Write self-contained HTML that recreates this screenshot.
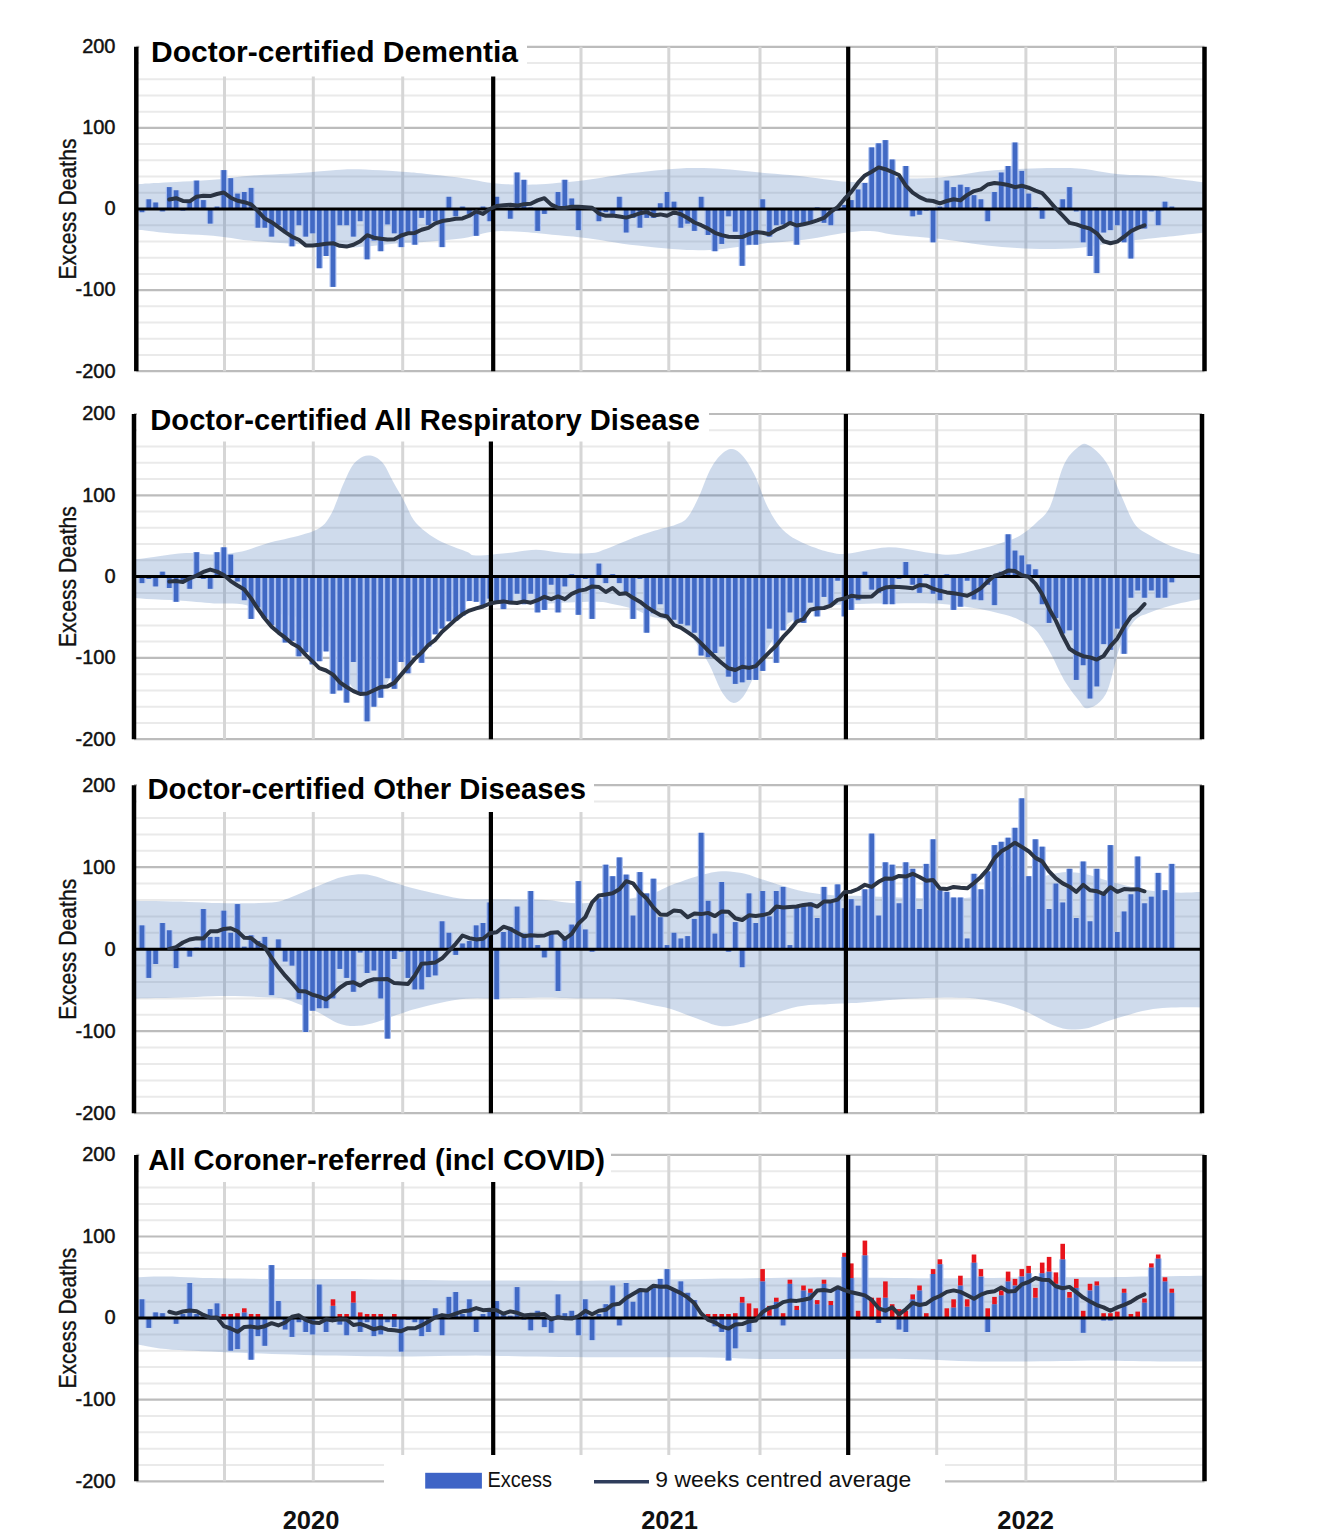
<!DOCTYPE html>
<html><head><meta charset="utf-8"><title>Excess deaths</title>
<style>html,body{margin:0;padding:0;background:#fff;} body{width:1321px;height:1536px;overflow:hidden;font-family:"Liberation Sans",sans-serif;} svg{display:block;}</style>
</head><body>
<svg width="1321" height="1536" viewBox="0 0 1321 1536">
<rect x="0" y="0" width="1321" height="1536" fill="#ffffff"/>
<line x1="136.3" y1="355.0" x2="1204.5" y2="355.0" stroke="#eaeaea" stroke-width="2"/>
<line x1="136.3" y1="338.8" x2="1204.5" y2="338.8" stroke="#eaeaea" stroke-width="2"/>
<line x1="136.3" y1="322.5" x2="1204.5" y2="322.5" stroke="#eaeaea" stroke-width="2"/>
<line x1="136.3" y1="306.3" x2="1204.5" y2="306.3" stroke="#eaeaea" stroke-width="2"/>
<line x1="136.3" y1="273.9" x2="1204.5" y2="273.9" stroke="#eaeaea" stroke-width="2"/>
<line x1="136.3" y1="257.7" x2="1204.5" y2="257.7" stroke="#eaeaea" stroke-width="2"/>
<line x1="136.3" y1="241.4" x2="1204.5" y2="241.4" stroke="#eaeaea" stroke-width="2"/>
<line x1="136.3" y1="225.2" x2="1204.5" y2="225.2" stroke="#eaeaea" stroke-width="2"/>
<line x1="136.3" y1="192.8" x2="1204.5" y2="192.8" stroke="#eaeaea" stroke-width="2"/>
<line x1="136.3" y1="176.6" x2="1204.5" y2="176.6" stroke="#eaeaea" stroke-width="2"/>
<line x1="136.3" y1="160.3" x2="1204.5" y2="160.3" stroke="#eaeaea" stroke-width="2"/>
<line x1="136.3" y1="144.1" x2="1204.5" y2="144.1" stroke="#eaeaea" stroke-width="2"/>
<line x1="136.3" y1="111.7" x2="1204.5" y2="111.7" stroke="#eaeaea" stroke-width="2"/>
<line x1="136.3" y1="95.5" x2="1204.5" y2="95.5" stroke="#eaeaea" stroke-width="2"/>
<line x1="136.3" y1="79.2" x2="1204.5" y2="79.2" stroke="#eaeaea" stroke-width="2"/>
<line x1="136.3" y1="63.0" x2="1204.5" y2="63.0" stroke="#eaeaea" stroke-width="2"/>
<line x1="136.3" y1="46.8" x2="1204.5" y2="46.8" stroke="#bcbcbc" stroke-width="2.2"/>
<line x1="136.3" y1="127.9" x2="1204.5" y2="127.9" stroke="#bcbcbc" stroke-width="2.2"/>
<line x1="136.3" y1="290.1" x2="1204.5" y2="290.1" stroke="#bcbcbc" stroke-width="2.2"/>
<line x1="136.3" y1="371.2" x2="1204.5" y2="371.2" stroke="#bcbcbc" stroke-width="2.2"/>
<line x1="224.5" y1="46.8" x2="224.5" y2="371.2" stroke="#d6d6d6" stroke-width="3"/>
<line x1="313.3" y1="46.8" x2="313.3" y2="371.2" stroke="#d6d6d6" stroke-width="3"/>
<line x1="402.7" y1="46.8" x2="402.7" y2="371.2" stroke="#d6d6d6" stroke-width="3"/>
<line x1="581.0" y1="46.8" x2="581.0" y2="371.2" stroke="#d6d6d6" stroke-width="3"/>
<line x1="668.8" y1="46.8" x2="668.8" y2="371.2" stroke="#d6d6d6" stroke-width="3"/>
<line x1="760.0" y1="46.8" x2="760.0" y2="371.2" stroke="#d6d6d6" stroke-width="3"/>
<line x1="936.7" y1="46.8" x2="936.7" y2="371.2" stroke="#d6d6d6" stroke-width="3"/>
<line x1="1025.9" y1="46.8" x2="1025.9" y2="371.2" stroke="#d6d6d6" stroke-width="3"/>
<line x1="1115.5" y1="46.8" x2="1115.5" y2="371.2" stroke="#d6d6d6" stroke-width="3"/>
<path d="M136.0,184.7 L136.4,184.6 L136.7,184.5 L137.2,184.4 L138.1,184.2 L139.7,184.1 L142.0,183.9 L145.2,183.6 L149.1,183.4 L153.7,183.1 L158.7,182.9 L164.2,182.6 L170.0,182.2 L176.4,181.9 L183.4,181.5 L190.9,181.2 L198.6,180.8 L206.0,180.3 L213.0,179.8 L219.4,179.2 L225.4,178.5 L231.3,177.8 L237.2,177.0 L243.4,176.3 L250.0,175.7 L257.2,175.3 L264.9,174.8 L272.8,174.5 L280.8,174.1 L288.6,173.7 L296.0,173.3 L303.2,172.8 L310.4,172.2 L317.4,171.6 L324.1,171.0 L330.4,170.5 L336.0,170.1 L340.6,169.8 L344.2,169.5 L347.3,169.3 L350.5,169.2 L354.2,169.2 L359.0,169.3 L365.3,169.5 L372.7,169.9 L380.8,170.3 L388.7,170.8 L396.0,171.3 L402.0,171.7 L406.3,172.0 L409.3,172.2 L411.6,172.4 L413.9,172.6 L416.8,172.9 L421.0,173.3 L426.8,173.9 L433.8,174.7 L441.4,175.5 L449.1,176.4 L456.5,177.3 L463.0,178.2 L468.6,179.0 L473.7,179.9 L478.4,180.8 L482.9,181.7 L487.4,182.4 L492.0,183.0 L496.7,183.5 L501.5,183.9 L506.2,184.2 L510.9,184.4 L515.5,184.6 L520.0,184.7 L524.3,184.7 L528.2,184.7 L532.1,184.6 L536.2,184.5 L540.8,184.2 L546.0,183.9 L552.1,183.4 L558.8,182.8 L566.0,182.2 L573.4,181.5 L580.8,180.7 L588.0,179.8 L594.9,178.8 L601.7,177.8 L608.5,176.6 L615.4,175.4 L622.5,174.3 L630.0,173.3 L638.0,172.4 L646.6,171.4 L655.4,170.5 L664.1,169.7 L672.4,169.0 L680.0,168.4 L686.7,168.1 L692.7,167.9 L698.4,167.9 L703.9,168.0 L709.7,168.2 L716.0,168.4 L722.9,168.9 L730.1,169.5 L737.5,170.2 L745.0,171.0 L752.6,171.8 L760.0,172.5 L767.4,173.2 L774.9,173.8 L782.4,174.5 L789.8,175.1 L797.0,175.8 L804.0,176.6 L810.8,177.4 L817.5,178.3 L824.0,179.2 L830.3,180.1 L836.3,180.8 L842.0,181.4 L847.3,181.8 L852.1,182.1 L856.8,182.3 L861.2,182.4 L865.6,182.4 L870.0,182.2 L874.2,181.9 L878.1,181.4 L881.9,180.8 L886.0,180.1 L890.6,179.5 L896.0,179.0 L902.4,178.7 L909.6,178.5 L917.2,178.4 L925.2,178.2 L933.2,177.9 L941.0,177.4 L948.6,176.5 L956.3,175.4 L964.0,174.2 L971.7,172.9 L979.4,171.8 L987.0,170.9 L994.5,170.2 L1002.0,169.7 L1009.5,169.3 L1017.0,168.9 L1024.5,168.7 L1032.0,168.4 L1039.7,168.2 L1047.5,168.1 L1055.4,167.9 L1063.1,167.9 L1070.7,168.1 L1078.0,168.4 L1084.9,169.1 L1091.6,170.1 L1098.1,171.2 L1104.5,172.3 L1110.8,173.3 L1117.0,174.1 L1123.3,174.6 L1129.7,174.9 L1135.9,175.1 L1142.0,175.2 L1147.7,175.4 L1153.0,175.7 L1157.7,176.2 L1161.8,176.7 L1165.6,177.3 L1169.2,177.9 L1173.0,178.4 L1177.0,179.0 L1181.6,179.6 L1186.8,180.2 L1192.0,180.8 L1196.9,181.4 L1201.0,181.9 L1204.0,182.2 L1204.0,232.5 L1201.0,232.9 L1196.9,233.4 L1192.0,234.0 L1186.8,234.6 L1181.6,235.2 L1177.0,235.8 L1173.0,236.2 L1169.2,236.6 L1165.6,236.9 L1161.8,237.3 L1157.7,237.7 L1153.0,238.2 L1147.7,238.8 L1142.0,239.4 L1135.9,240.0 L1129.7,240.7 L1123.3,241.5 L1117.0,242.3 L1110.8,243.2 L1104.5,244.2 L1098.1,245.3 L1091.6,246.3 L1084.9,247.2 L1078.0,247.9 L1070.7,248.4 L1063.1,248.7 L1055.4,248.9 L1047.5,248.9 L1039.7,248.9 L1032.0,248.7 L1024.5,248.5 L1017.0,248.1 L1009.5,247.6 L1002.0,247.0 L994.5,246.3 L987.0,245.5 L979.4,244.6 L971.7,243.5 L964.0,242.3 L956.3,241.1 L948.6,240.0 L941.0,239.0 L933.2,238.2 L925.2,237.5 L917.2,236.8 L909.6,236.2 L902.4,235.6 L896.0,235.0 L890.6,234.2 L886.0,233.4 L881.9,232.5 L878.1,231.8 L874.2,231.2 L870.0,230.9 L865.6,230.9 L861.2,231.1 L856.8,231.5 L852.1,232.0 L847.3,232.6 L842.0,233.3 L836.3,234.2 L830.3,235.3 L824.0,236.5 L817.5,237.7 L810.8,238.8 L804.0,239.8 L797.0,240.6 L789.8,241.3 L782.4,241.9 L774.9,242.5 L767.4,243.1 L760.0,243.9 L752.6,244.8 L745.0,245.9 L737.5,247.0 L730.1,248.0 L722.9,248.9 L716.0,249.6 L709.7,249.9 L703.9,250.2 L698.4,250.2 L692.7,250.1 L686.7,249.9 L680.0,249.6 L672.4,249.0 L664.1,248.3 L655.4,247.5 L646.6,246.6 L638.0,245.6 L630.0,244.7 L622.5,243.7 L615.4,242.6 L608.5,241.4 L601.7,240.2 L594.9,239.2 L588.0,238.2 L580.8,237.4 L573.4,236.6 L566.0,235.9 L558.8,235.3 L552.1,234.7 L546.0,234.1 L540.8,233.6 L536.2,233.1 L532.1,232.7 L528.2,232.3 L524.3,232.0 L520.0,231.7 L515.5,231.5 L510.9,231.3 L506.2,231.2 L501.5,231.1 L496.7,231.3 L492.0,231.7 L487.4,232.4 L482.9,233.5 L478.4,234.7 L473.7,236.0 L468.6,237.2 L463.0,238.2 L456.5,239.1 L449.1,239.8 L441.4,240.6 L433.8,241.2 L426.8,241.8 L421.0,242.3 L416.8,242.5 L413.9,242.6 L411.6,242.7 L409.3,242.7 L406.3,242.8 L402.0,243.1 L396.0,243.6 L388.7,244.3 L380.8,245.1 L372.7,245.9 L365.3,246.6 L359.0,247.1 L354.2,247.4 L350.5,247.5 L347.3,247.6 L344.2,247.5 L340.6,247.4 L336.0,247.1 L330.4,246.8 L324.1,246.3 L317.4,245.7 L310.4,245.1 L303.2,244.5 L296.0,243.9 L288.6,243.4 L280.8,242.9 L272.8,242.4 L264.9,241.8 L257.2,241.3 L250.0,240.6 L243.4,239.9 L237.2,239.0 L231.3,238.1 L225.4,237.3 L219.4,236.5 L213.0,235.8 L206.0,235.2 L198.6,234.8 L190.9,234.4 L183.4,234.1 L176.4,233.8 L170.0,233.3 L164.2,232.8 L158.7,232.2 L153.7,231.6 L149.1,231.0 L145.2,230.4 L142.0,230.1 L139.7,229.9 L138.1,229.8 L137.2,229.9 L136.7,230.0 L136.4,230.0 L136.0,230.1 Z" fill="#4673b4" fill-opacity="0.26"/>
<rect x="138.6" y="209.0" width="6.9" height="3.2" fill="#a9bff0"/>
<rect x="139.7" y="209.0" width="4.6" height="3.2" fill="#4169c4"/>
<rect x="145.4" y="199.3" width="6.9" height="9.7" fill="#a9bff0"/>
<rect x="146.5" y="199.3" width="4.6" height="9.7" fill="#4169c4"/>
<rect x="152.2" y="202.5" width="6.9" height="6.5" fill="#a9bff0"/>
<rect x="153.3" y="202.5" width="4.6" height="6.5" fill="#4169c4"/>
<rect x="159.0" y="209.0" width="6.9" height="2.4" fill="#a9bff0"/>
<rect x="160.2" y="209.0" width="4.6" height="2.4" fill="#4169c4"/>
<rect x="165.8" y="187.1" width="6.9" height="21.9" fill="#a9bff0"/>
<rect x="167.0" y="187.1" width="4.6" height="21.9" fill="#4169c4"/>
<rect x="172.7" y="190.3" width="6.9" height="18.7" fill="#a9bff0"/>
<rect x="173.8" y="190.3" width="4.6" height="18.7" fill="#4169c4"/>
<rect x="179.5" y="209.0" width="6.9" height="1.6" fill="#a9bff0"/>
<rect x="180.6" y="209.0" width="4.6" height="1.6" fill="#4169c4"/>
<rect x="186.3" y="201.7" width="6.9" height="7.3" fill="#a9bff0"/>
<rect x="187.4" y="201.7" width="4.6" height="7.3" fill="#4169c4"/>
<rect x="193.1" y="180.6" width="6.9" height="28.4" fill="#a9bff0"/>
<rect x="194.3" y="180.6" width="4.6" height="28.4" fill="#4169c4"/>
<rect x="199.9" y="200.1" width="6.9" height="8.9" fill="#a9bff0"/>
<rect x="201.1" y="200.1" width="4.6" height="8.9" fill="#4169c4"/>
<rect x="206.8" y="209.0" width="6.9" height="14.6" fill="#a9bff0"/>
<rect x="207.9" y="209.0" width="4.6" height="14.6" fill="#4169c4"/>
<rect x="213.6" y="206.6" width="6.9" height="2.4" fill="#a9bff0"/>
<rect x="214.7" y="206.6" width="4.6" height="2.4" fill="#4169c4"/>
<rect x="220.4" y="170.1" width="6.9" height="38.9" fill="#a9bff0"/>
<rect x="221.5" y="170.1" width="4.6" height="38.9" fill="#4169c4"/>
<rect x="227.2" y="178.2" width="6.9" height="30.8" fill="#a9bff0"/>
<rect x="228.4" y="178.2" width="4.6" height="30.8" fill="#4169c4"/>
<rect x="234.0" y="193.6" width="6.9" height="15.4" fill="#a9bff0"/>
<rect x="235.2" y="193.6" width="4.6" height="15.4" fill="#4169c4"/>
<rect x="240.9" y="192.0" width="6.9" height="17.0" fill="#a9bff0"/>
<rect x="242.0" y="192.0" width="4.6" height="17.0" fill="#4169c4"/>
<rect x="247.7" y="187.9" width="6.9" height="21.1" fill="#a9bff0"/>
<rect x="248.8" y="187.9" width="4.6" height="21.1" fill="#4169c4"/>
<rect x="254.5" y="209.0" width="6.9" height="18.7" fill="#a9bff0"/>
<rect x="255.6" y="209.0" width="4.6" height="18.7" fill="#4169c4"/>
<rect x="261.3" y="209.0" width="6.9" height="18.7" fill="#a9bff0"/>
<rect x="262.5" y="209.0" width="4.6" height="18.7" fill="#4169c4"/>
<rect x="268.1" y="209.0" width="6.9" height="27.6" fill="#a9bff0"/>
<rect x="269.3" y="209.0" width="4.6" height="27.6" fill="#4169c4"/>
<rect x="274.9" y="209.0" width="6.9" height="16.2" fill="#a9bff0"/>
<rect x="276.1" y="209.0" width="4.6" height="16.2" fill="#4169c4"/>
<rect x="281.8" y="209.0" width="6.9" height="21.9" fill="#a9bff0"/>
<rect x="282.9" y="209.0" width="4.6" height="21.9" fill="#4169c4"/>
<rect x="288.6" y="209.0" width="6.9" height="37.3" fill="#a9bff0"/>
<rect x="289.7" y="209.0" width="4.6" height="37.3" fill="#4169c4"/>
<rect x="295.4" y="209.0" width="6.9" height="16.2" fill="#a9bff0"/>
<rect x="296.6" y="209.0" width="4.6" height="16.2" fill="#4169c4"/>
<rect x="302.2" y="209.0" width="6.9" height="27.6" fill="#a9bff0"/>
<rect x="303.4" y="209.0" width="4.6" height="27.6" fill="#4169c4"/>
<rect x="309.1" y="209.0" width="6.9" height="24.3" fill="#a9bff0"/>
<rect x="310.2" y="209.0" width="4.6" height="24.3" fill="#4169c4"/>
<rect x="315.9" y="209.0" width="6.9" height="59.2" fill="#a9bff0"/>
<rect x="317.0" y="209.0" width="4.6" height="59.2" fill="#4169c4"/>
<rect x="322.7" y="209.0" width="6.9" height="47.0" fill="#a9bff0"/>
<rect x="323.8" y="209.0" width="4.6" height="47.0" fill="#4169c4"/>
<rect x="329.5" y="209.0" width="6.9" height="77.9" fill="#a9bff0"/>
<rect x="330.7" y="209.0" width="4.6" height="77.9" fill="#4169c4"/>
<rect x="336.3" y="209.0" width="6.9" height="16.2" fill="#a9bff0"/>
<rect x="337.5" y="209.0" width="4.6" height="16.2" fill="#4169c4"/>
<rect x="343.2" y="209.0" width="6.9" height="16.2" fill="#a9bff0"/>
<rect x="344.3" y="209.0" width="4.6" height="16.2" fill="#4169c4"/>
<rect x="350.0" y="209.0" width="6.9" height="27.6" fill="#a9bff0"/>
<rect x="351.1" y="209.0" width="4.6" height="27.6" fill="#4169c4"/>
<rect x="356.8" y="209.0" width="6.9" height="12.2" fill="#a9bff0"/>
<rect x="357.9" y="209.0" width="4.6" height="12.2" fill="#4169c4"/>
<rect x="363.6" y="209.0" width="6.9" height="50.3" fill="#a9bff0"/>
<rect x="364.8" y="209.0" width="4.6" height="50.3" fill="#4169c4"/>
<rect x="370.4" y="209.0" width="6.9" height="31.6" fill="#a9bff0"/>
<rect x="371.6" y="209.0" width="4.6" height="31.6" fill="#4169c4"/>
<rect x="377.3" y="209.0" width="6.9" height="42.2" fill="#a9bff0"/>
<rect x="378.4" y="209.0" width="4.6" height="42.2" fill="#4169c4"/>
<rect x="384.1" y="209.0" width="6.9" height="15.4" fill="#a9bff0"/>
<rect x="385.2" y="209.0" width="4.6" height="15.4" fill="#4169c4"/>
<rect x="390.9" y="209.0" width="6.9" height="24.3" fill="#a9bff0"/>
<rect x="392.0" y="209.0" width="4.6" height="24.3" fill="#4169c4"/>
<rect x="397.7" y="209.0" width="6.9" height="38.1" fill="#a9bff0"/>
<rect x="398.9" y="209.0" width="4.6" height="38.1" fill="#4169c4"/>
<rect x="404.5" y="209.0" width="6.9" height="26.0" fill="#a9bff0"/>
<rect x="405.7" y="209.0" width="4.6" height="26.0" fill="#4169c4"/>
<rect x="411.4" y="209.0" width="6.9" height="35.7" fill="#a9bff0"/>
<rect x="412.5" y="209.0" width="4.6" height="35.7" fill="#4169c4"/>
<rect x="418.2" y="209.0" width="6.9" height="8.9" fill="#a9bff0"/>
<rect x="419.3" y="209.0" width="4.6" height="8.9" fill="#4169c4"/>
<rect x="425.0" y="209.0" width="6.9" height="16.2" fill="#a9bff0"/>
<rect x="426.1" y="209.0" width="4.6" height="16.2" fill="#4169c4"/>
<rect x="431.8" y="209.0" width="6.9" height="12.2" fill="#a9bff0"/>
<rect x="433.0" y="209.0" width="4.6" height="12.2" fill="#4169c4"/>
<rect x="438.6" y="209.0" width="6.9" height="38.1" fill="#a9bff0"/>
<rect x="439.8" y="209.0" width="4.6" height="38.1" fill="#4169c4"/>
<rect x="445.5" y="196.8" width="6.9" height="12.2" fill="#a9bff0"/>
<rect x="446.6" y="196.8" width="4.6" height="12.2" fill="#4169c4"/>
<rect x="452.3" y="209.0" width="6.9" height="7.3" fill="#a9bff0"/>
<rect x="453.4" y="209.0" width="4.6" height="7.3" fill="#4169c4"/>
<rect x="459.1" y="206.6" width="6.9" height="2.4" fill="#a9bff0"/>
<rect x="460.2" y="206.6" width="4.6" height="2.4" fill="#4169c4"/>
<rect x="465.9" y="209.0" width="6.9" height="4.9" fill="#a9bff0"/>
<rect x="467.1" y="209.0" width="4.6" height="4.9" fill="#4169c4"/>
<rect x="472.7" y="209.0" width="6.9" height="26.8" fill="#a9bff0"/>
<rect x="473.9" y="209.0" width="4.6" height="26.8" fill="#4169c4"/>
<rect x="479.6" y="206.6" width="6.9" height="2.4" fill="#a9bff0"/>
<rect x="480.7" y="206.6" width="4.6" height="2.4" fill="#4169c4"/>
<rect x="486.4" y="209.0" width="6.9" height="12.2" fill="#a9bff0"/>
<rect x="487.5" y="209.0" width="4.6" height="12.2" fill="#4169c4"/>
<rect x="493.2" y="196.8" width="6.9" height="12.2" fill="#a9bff0"/>
<rect x="494.3" y="196.8" width="4.6" height="12.2" fill="#4169c4"/>
<rect x="500.0" y="209.0" width="6.9" height="0.0" fill="#a9bff0"/>
<rect x="501.2" y="209.0" width="4.6" height="0.0" fill="#4169c4"/>
<rect x="506.8" y="209.0" width="6.9" height="9.7" fill="#a9bff0"/>
<rect x="508.0" y="209.0" width="4.6" height="9.7" fill="#4169c4"/>
<rect x="513.6" y="172.5" width="6.9" height="36.5" fill="#a9bff0"/>
<rect x="514.8" y="172.5" width="4.6" height="36.5" fill="#4169c4"/>
<rect x="520.5" y="179.8" width="6.9" height="29.2" fill="#a9bff0"/>
<rect x="521.6" y="179.8" width="4.6" height="29.2" fill="#4169c4"/>
<rect x="527.3" y="207.4" width="6.9" height="1.6" fill="#a9bff0"/>
<rect x="528.4" y="207.4" width="4.6" height="1.6" fill="#4169c4"/>
<rect x="534.1" y="209.0" width="6.9" height="21.9" fill="#a9bff0"/>
<rect x="535.3" y="209.0" width="4.6" height="21.9" fill="#4169c4"/>
<rect x="540.9" y="209.0" width="6.9" height="4.9" fill="#a9bff0"/>
<rect x="542.1" y="209.0" width="4.6" height="4.9" fill="#4169c4"/>
<rect x="547.8" y="209.0" width="6.9" height="0.0" fill="#a9bff0"/>
<rect x="548.9" y="209.0" width="4.6" height="0.0" fill="#4169c4"/>
<rect x="554.6" y="192.0" width="6.9" height="17.0" fill="#a9bff0"/>
<rect x="555.7" y="192.0" width="4.6" height="17.0" fill="#4169c4"/>
<rect x="561.4" y="179.8" width="6.9" height="29.2" fill="#a9bff0"/>
<rect x="562.5" y="179.8" width="4.6" height="29.2" fill="#4169c4"/>
<rect x="568.2" y="198.5" width="6.9" height="10.5" fill="#a9bff0"/>
<rect x="569.4" y="198.5" width="4.6" height="10.5" fill="#4169c4"/>
<rect x="575.0" y="209.0" width="6.9" height="21.1" fill="#a9bff0"/>
<rect x="576.2" y="209.0" width="4.6" height="21.1" fill="#4169c4"/>
<rect x="581.8" y="209.0" width="6.9" height="0.0" fill="#a9bff0"/>
<rect x="583.0" y="209.0" width="4.6" height="0.0" fill="#4169c4"/>
<rect x="588.7" y="208.2" width="6.9" height="0.8" fill="#a9bff0"/>
<rect x="589.8" y="208.2" width="4.6" height="0.8" fill="#4169c4"/>
<rect x="595.5" y="209.0" width="6.9" height="12.2" fill="#a9bff0"/>
<rect x="596.6" y="209.0" width="4.6" height="12.2" fill="#4169c4"/>
<rect x="602.3" y="209.0" width="6.9" height="3.2" fill="#a9bff0"/>
<rect x="603.5" y="209.0" width="4.6" height="3.2" fill="#4169c4"/>
<rect x="609.1" y="209.0" width="6.9" height="4.9" fill="#a9bff0"/>
<rect x="610.3" y="209.0" width="4.6" height="4.9" fill="#4169c4"/>
<rect x="616.0" y="196.8" width="6.9" height="12.2" fill="#a9bff0"/>
<rect x="617.1" y="196.8" width="4.6" height="12.2" fill="#4169c4"/>
<rect x="622.8" y="209.0" width="6.9" height="23.5" fill="#a9bff0"/>
<rect x="623.9" y="209.0" width="4.6" height="23.5" fill="#4169c4"/>
<rect x="629.6" y="209.0" width="6.9" height="8.9" fill="#a9bff0"/>
<rect x="630.7" y="209.0" width="4.6" height="8.9" fill="#4169c4"/>
<rect x="636.4" y="209.0" width="6.9" height="18.7" fill="#a9bff0"/>
<rect x="637.6" y="209.0" width="4.6" height="18.7" fill="#4169c4"/>
<rect x="643.2" y="209.0" width="6.9" height="8.9" fill="#a9bff0"/>
<rect x="644.4" y="209.0" width="4.6" height="8.9" fill="#4169c4"/>
<rect x="650.0" y="209.0" width="6.9" height="8.9" fill="#a9bff0"/>
<rect x="651.2" y="209.0" width="4.6" height="8.9" fill="#4169c4"/>
<rect x="656.9" y="203.3" width="6.9" height="5.7" fill="#a9bff0"/>
<rect x="658.0" y="203.3" width="4.6" height="5.7" fill="#4169c4"/>
<rect x="663.7" y="192.0" width="6.9" height="17.0" fill="#a9bff0"/>
<rect x="664.8" y="192.0" width="4.6" height="17.0" fill="#4169c4"/>
<rect x="670.5" y="201.7" width="6.9" height="7.3" fill="#a9bff0"/>
<rect x="671.7" y="201.7" width="4.6" height="7.3" fill="#4169c4"/>
<rect x="677.3" y="209.0" width="6.9" height="18.7" fill="#a9bff0"/>
<rect x="678.5" y="209.0" width="4.6" height="18.7" fill="#4169c4"/>
<rect x="684.2" y="209.0" width="6.9" height="14.6" fill="#a9bff0"/>
<rect x="685.3" y="209.0" width="4.6" height="14.6" fill="#4169c4"/>
<rect x="691.0" y="209.0" width="6.9" height="21.9" fill="#a9bff0"/>
<rect x="692.1" y="209.0" width="4.6" height="21.9" fill="#4169c4"/>
<rect x="697.8" y="196.8" width="6.9" height="12.2" fill="#a9bff0"/>
<rect x="698.9" y="196.8" width="4.6" height="12.2" fill="#4169c4"/>
<rect x="704.6" y="209.0" width="6.9" height="26.0" fill="#a9bff0"/>
<rect x="705.8" y="209.0" width="4.6" height="26.0" fill="#4169c4"/>
<rect x="711.4" y="209.0" width="6.9" height="42.2" fill="#a9bff0"/>
<rect x="712.6" y="209.0" width="4.6" height="42.2" fill="#4169c4"/>
<rect x="718.2" y="209.0" width="6.9" height="34.9" fill="#a9bff0"/>
<rect x="719.4" y="209.0" width="4.6" height="34.9" fill="#4169c4"/>
<rect x="725.1" y="209.0" width="6.9" height="7.3" fill="#a9bff0"/>
<rect x="726.2" y="209.0" width="4.6" height="7.3" fill="#4169c4"/>
<rect x="731.9" y="209.0" width="6.9" height="22.7" fill="#a9bff0"/>
<rect x="733.0" y="209.0" width="4.6" height="22.7" fill="#4169c4"/>
<rect x="738.7" y="209.0" width="6.9" height="56.8" fill="#a9bff0"/>
<rect x="739.9" y="209.0" width="4.6" height="56.8" fill="#4169c4"/>
<rect x="745.5" y="209.0" width="6.9" height="35.7" fill="#a9bff0"/>
<rect x="746.7" y="209.0" width="4.6" height="35.7" fill="#4169c4"/>
<rect x="752.3" y="209.0" width="6.9" height="35.7" fill="#a9bff0"/>
<rect x="753.5" y="209.0" width="4.6" height="35.7" fill="#4169c4"/>
<rect x="759.2" y="199.3" width="6.9" height="9.7" fill="#a9bff0"/>
<rect x="760.3" y="199.3" width="4.6" height="9.7" fill="#4169c4"/>
<rect x="766.0" y="209.0" width="6.9" height="27.6" fill="#a9bff0"/>
<rect x="767.1" y="209.0" width="4.6" height="27.6" fill="#4169c4"/>
<rect x="772.8" y="209.0" width="6.9" height="16.2" fill="#a9bff0"/>
<rect x="774.0" y="209.0" width="4.6" height="16.2" fill="#4169c4"/>
<rect x="779.6" y="209.0" width="6.9" height="15.4" fill="#a9bff0"/>
<rect x="780.8" y="209.0" width="4.6" height="15.4" fill="#4169c4"/>
<rect x="786.5" y="209.0" width="6.9" height="13.8" fill="#a9bff0"/>
<rect x="787.6" y="209.0" width="4.6" height="13.8" fill="#4169c4"/>
<rect x="793.3" y="209.0" width="6.9" height="35.7" fill="#a9bff0"/>
<rect x="794.4" y="209.0" width="4.6" height="35.7" fill="#4169c4"/>
<rect x="800.1" y="209.0" width="6.9" height="15.4" fill="#a9bff0"/>
<rect x="801.2" y="209.0" width="4.6" height="15.4" fill="#4169c4"/>
<rect x="806.9" y="209.0" width="6.9" height="12.2" fill="#a9bff0"/>
<rect x="808.1" y="209.0" width="4.6" height="12.2" fill="#4169c4"/>
<rect x="813.7" y="207.4" width="6.9" height="1.6" fill="#a9bff0"/>
<rect x="814.9" y="207.4" width="4.6" height="1.6" fill="#4169c4"/>
<rect x="820.5" y="209.0" width="6.9" height="13.8" fill="#a9bff0"/>
<rect x="821.7" y="209.0" width="4.6" height="13.8" fill="#4169c4"/>
<rect x="827.4" y="209.0" width="6.9" height="16.2" fill="#a9bff0"/>
<rect x="828.5" y="209.0" width="4.6" height="16.2" fill="#4169c4"/>
<rect x="834.2" y="209.0" width="6.9" height="1.6" fill="#a9bff0"/>
<rect x="835.3" y="209.0" width="4.6" height="1.6" fill="#4169c4"/>
<rect x="841.0" y="204.9" width="6.9" height="4.1" fill="#a9bff0"/>
<rect x="842.2" y="204.9" width="4.6" height="4.1" fill="#4169c4"/>
<rect x="847.8" y="200.1" width="6.9" height="8.9" fill="#a9bff0"/>
<rect x="849.0" y="200.1" width="4.6" height="8.9" fill="#4169c4"/>
<rect x="854.7" y="189.5" width="6.9" height="19.5" fill="#a9bff0"/>
<rect x="855.8" y="189.5" width="4.6" height="19.5" fill="#4169c4"/>
<rect x="861.5" y="183.0" width="6.9" height="26.0" fill="#a9bff0"/>
<rect x="862.6" y="183.0" width="4.6" height="26.0" fill="#4169c4"/>
<rect x="868.3" y="147.4" width="6.9" height="61.6" fill="#a9bff0"/>
<rect x="869.4" y="147.4" width="4.6" height="61.6" fill="#4169c4"/>
<rect x="875.1" y="143.3" width="6.9" height="65.7" fill="#a9bff0"/>
<rect x="876.3" y="143.3" width="4.6" height="65.7" fill="#4169c4"/>
<rect x="881.9" y="140.1" width="6.9" height="68.9" fill="#a9bff0"/>
<rect x="883.1" y="140.1" width="4.6" height="68.9" fill="#4169c4"/>
<rect x="888.8" y="159.5" width="6.9" height="49.5" fill="#a9bff0"/>
<rect x="889.9" y="159.5" width="4.6" height="49.5" fill="#4169c4"/>
<rect x="895.6" y="177.4" width="6.9" height="31.6" fill="#a9bff0"/>
<rect x="896.7" y="177.4" width="4.6" height="31.6" fill="#4169c4"/>
<rect x="902.4" y="166.0" width="6.9" height="43.0" fill="#a9bff0"/>
<rect x="903.5" y="166.0" width="4.6" height="43.0" fill="#4169c4"/>
<rect x="909.2" y="209.0" width="6.9" height="7.3" fill="#a9bff0"/>
<rect x="910.4" y="209.0" width="4.6" height="7.3" fill="#4169c4"/>
<rect x="916.0" y="209.0" width="6.9" height="5.7" fill="#a9bff0"/>
<rect x="917.2" y="209.0" width="4.6" height="5.7" fill="#4169c4"/>
<rect x="922.8" y="209.0" width="6.9" height="1.6" fill="#a9bff0"/>
<rect x="924.0" y="209.0" width="4.6" height="1.6" fill="#4169c4"/>
<rect x="929.7" y="209.0" width="6.9" height="33.3" fill="#a9bff0"/>
<rect x="930.8" y="209.0" width="4.6" height="33.3" fill="#4169c4"/>
<rect x="936.5" y="206.6" width="6.9" height="2.4" fill="#a9bff0"/>
<rect x="937.6" y="206.6" width="4.6" height="2.4" fill="#4169c4"/>
<rect x="943.3" y="180.6" width="6.9" height="28.4" fill="#a9bff0"/>
<rect x="944.5" y="180.6" width="4.6" height="28.4" fill="#4169c4"/>
<rect x="950.1" y="187.1" width="6.9" height="21.9" fill="#a9bff0"/>
<rect x="951.3" y="187.1" width="4.6" height="21.9" fill="#4169c4"/>
<rect x="957.0" y="184.7" width="6.9" height="24.3" fill="#a9bff0"/>
<rect x="958.1" y="184.7" width="4.6" height="24.3" fill="#4169c4"/>
<rect x="963.8" y="187.1" width="6.9" height="21.9" fill="#a9bff0"/>
<rect x="964.9" y="187.1" width="4.6" height="21.9" fill="#4169c4"/>
<rect x="970.6" y="195.2" width="6.9" height="13.8" fill="#a9bff0"/>
<rect x="971.7" y="195.2" width="4.6" height="13.8" fill="#4169c4"/>
<rect x="977.4" y="199.3" width="6.9" height="9.7" fill="#a9bff0"/>
<rect x="978.6" y="199.3" width="4.6" height="9.7" fill="#4169c4"/>
<rect x="984.2" y="209.0" width="6.9" height="12.2" fill="#a9bff0"/>
<rect x="985.4" y="209.0" width="4.6" height="12.2" fill="#4169c4"/>
<rect x="991.0" y="192.0" width="6.9" height="17.0" fill="#a9bff0"/>
<rect x="992.2" y="192.0" width="4.6" height="17.0" fill="#4169c4"/>
<rect x="997.9" y="172.5" width="6.9" height="36.5" fill="#a9bff0"/>
<rect x="999.0" y="172.5" width="4.6" height="36.5" fill="#4169c4"/>
<rect x="1004.7" y="166.0" width="6.9" height="43.0" fill="#a9bff0"/>
<rect x="1005.8" y="166.0" width="4.6" height="43.0" fill="#4169c4"/>
<rect x="1011.5" y="142.5" width="6.9" height="66.5" fill="#a9bff0"/>
<rect x="1012.7" y="142.5" width="4.6" height="66.5" fill="#4169c4"/>
<rect x="1018.3" y="170.9" width="6.9" height="38.1" fill="#a9bff0"/>
<rect x="1019.5" y="170.9" width="4.6" height="38.1" fill="#4169c4"/>
<rect x="1025.2" y="193.6" width="6.9" height="15.4" fill="#a9bff0"/>
<rect x="1026.3" y="193.6" width="4.6" height="15.4" fill="#4169c4"/>
<rect x="1032.0" y="207.4" width="6.9" height="1.6" fill="#a9bff0"/>
<rect x="1033.1" y="207.4" width="4.6" height="1.6" fill="#4169c4"/>
<rect x="1038.8" y="209.0" width="6.9" height="9.7" fill="#a9bff0"/>
<rect x="1039.9" y="209.0" width="4.6" height="9.7" fill="#4169c4"/>
<rect x="1045.6" y="209.0" width="6.9" height="0.0" fill="#a9bff0"/>
<rect x="1046.8" y="209.0" width="4.6" height="0.0" fill="#4169c4"/>
<rect x="1052.4" y="209.0" width="6.9" height="0.0" fill="#a9bff0"/>
<rect x="1053.6" y="209.0" width="4.6" height="0.0" fill="#4169c4"/>
<rect x="1059.2" y="199.3" width="6.9" height="9.7" fill="#a9bff0"/>
<rect x="1060.4" y="199.3" width="4.6" height="9.7" fill="#4169c4"/>
<rect x="1066.1" y="187.1" width="6.9" height="21.9" fill="#a9bff0"/>
<rect x="1067.2" y="187.1" width="4.6" height="21.9" fill="#4169c4"/>
<rect x="1072.9" y="209.0" width="6.9" height="2.4" fill="#a9bff0"/>
<rect x="1074.0" y="209.0" width="4.6" height="2.4" fill="#4169c4"/>
<rect x="1079.7" y="209.0" width="6.9" height="33.3" fill="#a9bff0"/>
<rect x="1080.9" y="209.0" width="4.6" height="33.3" fill="#4169c4"/>
<rect x="1086.5" y="209.0" width="6.9" height="47.0" fill="#a9bff0"/>
<rect x="1087.7" y="209.0" width="4.6" height="47.0" fill="#4169c4"/>
<rect x="1093.3" y="209.0" width="6.9" height="64.1" fill="#a9bff0"/>
<rect x="1094.5" y="209.0" width="4.6" height="64.1" fill="#4169c4"/>
<rect x="1100.2" y="209.0" width="6.9" height="23.5" fill="#a9bff0"/>
<rect x="1101.3" y="209.0" width="4.6" height="23.5" fill="#4169c4"/>
<rect x="1107.0" y="209.0" width="6.9" height="21.1" fill="#a9bff0"/>
<rect x="1108.1" y="209.0" width="4.6" height="21.1" fill="#4169c4"/>
<rect x="1113.8" y="209.0" width="6.9" height="16.2" fill="#a9bff0"/>
<rect x="1115.0" y="209.0" width="4.6" height="16.2" fill="#4169c4"/>
<rect x="1120.6" y="209.0" width="6.9" height="33.3" fill="#a9bff0"/>
<rect x="1121.8" y="209.0" width="4.6" height="33.3" fill="#4169c4"/>
<rect x="1127.5" y="209.0" width="6.9" height="49.5" fill="#a9bff0"/>
<rect x="1128.6" y="209.0" width="4.6" height="49.5" fill="#4169c4"/>
<rect x="1134.3" y="209.0" width="6.9" height="19.5" fill="#a9bff0"/>
<rect x="1135.4" y="209.0" width="4.6" height="19.5" fill="#4169c4"/>
<rect x="1141.1" y="209.0" width="6.9" height="19.5" fill="#a9bff0"/>
<rect x="1142.2" y="209.0" width="4.6" height="19.5" fill="#4169c4"/>
<rect x="1147.9" y="209.0" width="6.9" height="2.4" fill="#a9bff0"/>
<rect x="1149.1" y="209.0" width="4.6" height="2.4" fill="#4169c4"/>
<rect x="1154.7" y="209.0" width="6.9" height="16.2" fill="#a9bff0"/>
<rect x="1155.9" y="209.0" width="4.6" height="16.2" fill="#4169c4"/>
<rect x="1161.5" y="201.7" width="6.9" height="7.3" fill="#a9bff0"/>
<rect x="1162.7" y="201.7" width="4.6" height="7.3" fill="#4169c4"/>
<rect x="1168.4" y="206.6" width="6.9" height="2.4" fill="#a9bff0"/>
<rect x="1169.5" y="206.6" width="4.6" height="2.4" fill="#4169c4"/>
<line x1="136.3" y1="209.0" x2="1204.5" y2="209.0" stroke="#000" stroke-width="3"/>
<line x1="493.2" y1="46.8" x2="493.2" y2="371.2" stroke="#000" stroke-width="4.2"/>
<line x1="848.2" y1="46.8" x2="848.2" y2="371.2" stroke="#000" stroke-width="4.2"/>
<line x1="136.3" y1="46.8" x2="136.3" y2="371.2" stroke="#000" stroke-width="4.5"/>
<line x1="1204.5" y1="46.8" x2="1204.5" y2="371.2" stroke="#000" stroke-width="4.5"/>
<path d="M169.3,199.5 L176.1,198.2 L182.9,200.9 L189.7,201.3 L196.6,196.7 L203.4,195.8 L210.2,196.1 L217.0,194.0 L223.8,192.5 L230.7,197.7 L237.5,200.8 L244.3,202.2 L251.1,204.3 L257.9,211.1 L264.8,218.6 L271.6,222.2 L278.4,227.1 L285.2,232.2 L292.0,236.7 L298.9,239.8 L305.7,245.4 L312.5,245.4 L319.3,244.8 L326.1,243.7 L333.0,243.2 L339.8,245.8 L346.6,246.6 L353.4,244.7 L360.2,241.2 L367.1,235.2 L373.9,237.7 L380.7,238.7 L387.5,239.6 L394.3,239.3 L401.2,235.5 L408.0,233.3 L414.8,232.9 L421.6,229.8 L428.4,227.9 L435.3,223.4 L442.1,221.1 L448.9,220.1 L455.7,218.8 L462.5,218.4 L469.4,215.7 L476.2,211.4 L483.0,213.9 L489.8,209.0 L496.6,206.0 L503.5,205.3 L510.3,204.8 L517.1,205.6 L523.9,204.2 L530.7,203.7 L537.6,200.4 L544.4,198.2 L551.2,204.6 L558.0,207.8 L564.8,207.9 L571.7,206.8 L578.5,206.7 L585.3,207.2 L592.1,207.7 L598.9,213.6 L605.8,215.8 L612.6,215.5 L619.4,216.5 L626.2,217.6 L633.0,215.6 L639.9,213.3 L646.7,212.0 L653.5,215.4 L660.3,214.4 L667.1,215.8 L674.0,212.4 L680.8,214.3 L687.6,218.0 L694.4,222.5 L701.2,225.2 L708.1,228.6 L714.9,232.8 L721.7,235.1 L728.5,236.7 L735.3,236.9 L742.2,237.1 L749.0,234.2 L755.8,232.1 L762.6,232.8 L769.4,234.2 L776.3,229.6 L783.1,227.0 L789.9,222.9 L796.7,225.5 L803.5,224.2 L810.4,222.6 L817.2,220.4 L824.0,217.9 L830.8,211.8 L837.6,207.2 L844.5,199.0 L851.3,191.9 L858.1,182.7 L864.9,175.4 L871.7,171.7 L878.6,167.4 L885.4,169.2 L892.2,172.0 L899.0,175.0 L905.8,185.6 L912.7,192.6 L919.5,197.1 L926.3,200.2 L933.1,201.0 L939.9,203.3 L946.8,201.0 L953.6,199.3 L960.4,200.4 L967.2,194.9 L974.0,191.1 L980.9,189.4 L987.7,184.5 L994.5,183.0 L1001.3,183.7 L1008.1,185.0 L1015.0,187.2 L1021.8,185.8 L1028.6,187.7 L1035.4,190.7 L1042.2,193.1 L1049.1,200.7 L1055.9,208.6 L1062.7,215.6 L1069.5,222.9 L1076.3,224.4 L1083.2,226.8 L1090.0,228.6 L1096.8,233.3 L1103.6,241.3 L1110.4,243.2 L1117.3,241.6 L1124.1,236.7 L1130.9,231.3 L1137.7,227.9 L1144.5,225.3" fill="none" stroke="#2b3443" stroke-width="4" stroke-linejoin="round" stroke-linecap="round"/>
<rect x="139.3" y="30.8" width="387.7" height="45.7" fill="#ffffff"/>
<text x="151.0" y="62.0" font-family="Liberation Sans" font-weight="bold" font-size="29" textLength="367.0" lengthAdjust="spacingAndGlyphs" fill="#000">Doctor-certified Dementia</text>
<text x="115.5" y="53.1" font-family="Liberation Sans" font-size="20" text-anchor="end" fill="#111" stroke="#111" stroke-width="0.45">200</text>
<text x="115.5" y="134.2" font-family="Liberation Sans" font-size="20" text-anchor="end" fill="#111" stroke="#111" stroke-width="0.45">100</text>
<text x="115.5" y="215.3" font-family="Liberation Sans" font-size="20" text-anchor="end" fill="#111" stroke="#111" stroke-width="0.45">0</text>
<text x="115.5" y="296.4" font-family="Liberation Sans" font-size="20" text-anchor="end" fill="#111" stroke="#111" stroke-width="0.45">-100</text>
<text x="115.5" y="377.5" font-family="Liberation Sans" font-size="20" text-anchor="end" fill="#111" stroke="#111" stroke-width="0.45">-200</text>
<text transform="translate(76,209.0) rotate(-90)" x="0" y="0" font-family="Liberation Sans" font-size="24.5" stroke="#111" stroke-width="0.35" text-anchor="middle" textLength="141" lengthAdjust="spacingAndGlyphs" fill="#111">Excess Deaths</text>
<line x1="134.0" y1="722.9" x2="1202.0" y2="722.9" stroke="#eaeaea" stroke-width="2"/>
<line x1="134.0" y1="706.7" x2="1202.0" y2="706.7" stroke="#eaeaea" stroke-width="2"/>
<line x1="134.0" y1="690.4" x2="1202.0" y2="690.4" stroke="#eaeaea" stroke-width="2"/>
<line x1="134.0" y1="674.2" x2="1202.0" y2="674.2" stroke="#eaeaea" stroke-width="2"/>
<line x1="134.0" y1="641.6" x2="1202.0" y2="641.6" stroke="#eaeaea" stroke-width="2"/>
<line x1="134.0" y1="625.4" x2="1202.0" y2="625.4" stroke="#eaeaea" stroke-width="2"/>
<line x1="134.0" y1="609.1" x2="1202.0" y2="609.1" stroke="#eaeaea" stroke-width="2"/>
<line x1="134.0" y1="592.9" x2="1202.0" y2="592.9" stroke="#eaeaea" stroke-width="2"/>
<line x1="134.0" y1="560.3" x2="1202.0" y2="560.3" stroke="#eaeaea" stroke-width="2"/>
<line x1="134.0" y1="544.1" x2="1202.0" y2="544.1" stroke="#eaeaea" stroke-width="2"/>
<line x1="134.0" y1="527.8" x2="1202.0" y2="527.8" stroke="#eaeaea" stroke-width="2"/>
<line x1="134.0" y1="511.6" x2="1202.0" y2="511.6" stroke="#eaeaea" stroke-width="2"/>
<line x1="134.0" y1="479.0" x2="1202.0" y2="479.0" stroke="#eaeaea" stroke-width="2"/>
<line x1="134.0" y1="462.8" x2="1202.0" y2="462.8" stroke="#eaeaea" stroke-width="2"/>
<line x1="134.0" y1="446.5" x2="1202.0" y2="446.5" stroke="#eaeaea" stroke-width="2"/>
<line x1="134.0" y1="430.3" x2="1202.0" y2="430.3" stroke="#eaeaea" stroke-width="2"/>
<line x1="134.0" y1="414.0" x2="1202.0" y2="414.0" stroke="#bcbcbc" stroke-width="2.2"/>
<line x1="134.0" y1="495.3" x2="1202.0" y2="495.3" stroke="#bcbcbc" stroke-width="2.2"/>
<line x1="134.0" y1="657.9" x2="1202.0" y2="657.9" stroke="#bcbcbc" stroke-width="2.2"/>
<line x1="134.0" y1="739.2" x2="1202.0" y2="739.2" stroke="#bcbcbc" stroke-width="2.2"/>
<line x1="224.5" y1="414.0" x2="224.5" y2="739.2" stroke="#d6d6d6" stroke-width="3"/>
<line x1="313.3" y1="414.0" x2="313.3" y2="739.2" stroke="#d6d6d6" stroke-width="3"/>
<line x1="402.7" y1="414.0" x2="402.7" y2="739.2" stroke="#d6d6d6" stroke-width="3"/>
<line x1="581.0" y1="414.0" x2="581.0" y2="739.2" stroke="#d6d6d6" stroke-width="3"/>
<line x1="668.8" y1="414.0" x2="668.8" y2="739.2" stroke="#d6d6d6" stroke-width="3"/>
<line x1="760.0" y1="414.0" x2="760.0" y2="739.2" stroke="#d6d6d6" stroke-width="3"/>
<line x1="936.7" y1="414.0" x2="936.7" y2="739.2" stroke="#d6d6d6" stroke-width="3"/>
<line x1="1025.9" y1="414.0" x2="1025.9" y2="739.2" stroke="#d6d6d6" stroke-width="3"/>
<line x1="1115.5" y1="414.0" x2="1115.5" y2="739.2" stroke="#d6d6d6" stroke-width="3"/>
<path d="M136.0,558.7 L136.1,558.8 L135.8,558.9 L135.7,559.1 L136.2,559.1 L137.8,559.0 L141.0,558.7 L146.4,558.0 L153.7,557.0 L162.1,555.8 L170.8,554.6 L179.0,553.6 L186.0,553.0 L191.7,552.9 L196.6,553.2 L201.1,553.7 L205.3,554.2 L209.5,554.6 L214.0,554.6 L218.7,554.5 L223.3,554.1 L228.0,553.7 L232.7,553.1 L237.3,552.3 L242.0,551.4 L246.7,550.2 L251.3,548.7 L256.0,547.1 L260.7,545.5 L265.3,543.9 L270.0,542.5 L274.7,541.2 L279.6,540.2 L284.4,539.2 L289.1,538.1 L293.7,537.1 L298.0,536.0 L302.1,534.8 L306.1,533.6 L310.0,532.4 L313.6,531.1 L317.0,529.6 L320.0,527.8 L322.6,525.8 L324.8,523.7 L326.7,521.3 L328.4,518.7 L330.2,515.7 L332.0,512.4 L333.9,508.4 L335.7,503.8 L337.6,498.9 L339.4,493.9 L341.2,489.1 L343.0,484.7 L344.8,480.7 L346.6,476.7 L348.3,472.9 L350.1,469.4 L352.0,466.3 L354.0,463.6 L356.2,461.3 L358.4,459.4 L360.8,457.8 L363.2,456.6 L365.6,455.8 L368.0,455.5 L370.4,455.5 L372.8,456.1 L375.2,457.0 L377.6,458.3 L379.8,460.0 L382.0,462.0 L384.0,464.5 L385.9,467.5 L387.7,470.9 L389.4,474.5 L391.2,478.1 L393.0,481.5 L394.8,484.7 L396.6,487.9 L398.4,491.1 L400.3,494.3 L402.1,497.6 L404.0,501.0 L405.8,504.6 L407.6,508.3 L409.3,512.1 L411.2,515.9 L413.4,519.5 L416.0,522.9 L419.0,526.1 L422.4,529.2 L426.0,532.1 L429.9,534.9 L433.9,537.6 L438.0,540.0 L442.5,542.3 L447.6,544.5 L452.8,546.5 L457.8,548.4 L462.3,550.0 L466.0,551.4 L468.5,552.6 L469.9,553.5 L470.8,554.3 L471.7,554.9 L473.3,555.2 L476.0,555.5 L480.1,555.4 L485.2,555.2 L490.9,554.7 L496.8,554.1 L502.6,553.6 L508.0,553.0 L512.9,552.5 L517.6,551.8 L522.2,551.0 L526.8,550.4 L531.4,549.9 L536.0,549.8 L540.7,550.0 L545.3,550.5 L550.0,551.2 L554.7,551.9 L559.3,552.6 L564.0,553.0 L568.8,553.3 L573.9,553.4 L578.9,553.5 L583.7,553.4 L588.1,553.3 L592.0,553.0 L595.0,552.7 L597.2,552.2 L599.0,551.7 L600.8,551.0 L603.0,550.1 L606.0,549.0 L610.0,547.4 L614.8,545.5 L620.0,543.3 L625.2,541.2 L630.0,539.2 L634.0,537.6 L637.1,536.4 L639.7,535.4 L641.9,534.7 L643.9,534.0 L645.8,533.4 L648.0,532.7 L650.3,532.0 L652.7,531.3 L655.0,530.6 L657.3,530.0 L659.7,529.3 L662.0,528.6 L664.4,528.0 L666.8,527.4 L669.2,526.8 L671.6,526.1 L673.8,525.4 L676.0,524.6 L678.0,523.8 L679.9,523.1 L681.7,522.3 L683.4,521.3 L685.2,519.9 L687.0,518.1 L688.8,515.7 L690.6,512.9 L692.4,509.7 L694.3,506.2 L696.1,502.5 L698.0,498.6 L700.0,494.2 L702.0,489.2 L704.0,484.1 L706.0,478.9 L708.0,474.2 L710.0,470.1 L711.9,466.7 L713.7,463.6 L715.6,461.0 L717.4,458.6 L719.2,456.5 L721.0,454.7 L722.8,453.0 L724.7,451.5 L726.5,450.4 L728.3,449.5 L730.2,449.0 L732.0,449.0 L733.8,449.3 L735.6,450.0 L737.4,451.0 L739.3,452.5 L741.1,454.2 L743.0,456.3 L745.0,458.7 L747.0,461.6 L749.0,464.8 L751.0,468.2 L753.0,471.9 L755.0,475.8 L756.9,480.0 L758.7,484.7 L760.6,489.6 L762.4,494.5 L764.2,499.2 L766.0,503.4 L767.8,507.2 L769.7,510.8 L771.5,514.2 L773.3,517.3 L775.2,520.3 L777.0,522.9 L778.8,525.3 L780.6,527.5 L782.3,529.3 L784.1,531.1 L786.0,532.7 L788.0,534.3 L790.2,535.9 L792.4,537.4 L794.8,538.7 L797.2,540.0 L799.6,541.3 L802.0,542.5 L804.3,543.6 L806.7,544.6 L809.0,545.6 L811.3,546.5 L813.7,547.3 L816.0,548.1 L818.3,548.9 L820.6,549.7 L822.8,550.4 L825.1,551.1 L827.5,551.7 L830.0,552.2 L832.4,552.7 L834.5,553.2 L836.8,553.7 L839.4,554.0 L842.7,554.1 L847.0,553.8 L852.6,553.1 L859.1,551.8 L866.4,550.3 L874.1,548.9 L881.7,547.8 L889.0,547.3 L896.2,547.6 L903.8,548.5 L911.3,549.7 L918.6,551.0 L925.2,552.2 L931.0,553.0 L935.6,553.6 L939.3,554.1 L942.4,554.5 L945.3,554.8 L948.3,554.8 L952.0,554.6 L956.3,554.2 L960.8,553.4 L965.6,552.4 L970.4,551.3 L975.3,550.1 L980.0,549.0 L984.8,547.7 L989.9,546.4 L994.9,544.9 L999.7,543.5 L1004.1,542.1 L1008.0,540.8 L1011.1,539.7 L1013.7,538.7 L1015.9,537.8 L1017.9,536.8 L1019.8,535.7 L1022.0,534.3 L1024.3,532.8 L1026.7,531.1 L1029.0,529.2 L1031.3,527.3 L1033.7,525.2 L1036.0,522.9 L1038.3,520.8 L1040.7,518.8 L1043.0,516.7 L1045.3,514.2 L1047.7,511.0 L1050.0,506.7 L1052.3,500.8 L1054.7,493.6 L1057.0,485.6 L1059.3,477.6 L1061.7,470.3 L1064.0,464.4 L1066.4,459.9 L1068.8,456.3 L1071.2,453.4 L1073.6,451.0 L1075.9,449.0 L1078.0,447.3 L1079.8,445.9 L1081.3,444.7 L1082.8,444.0 L1084.2,443.7 L1085.9,444.0 L1088.0,444.9 L1090.6,446.5 L1093.6,448.6 L1096.8,451.3 L1100.0,454.5 L1103.1,458.1 L1106.0,462.0 L1108.6,466.3 L1111.0,471.3 L1113.2,476.6 L1115.5,482.1 L1117.7,487.6 L1120.0,492.9 L1122.3,498.1 L1124.7,503.6 L1127.0,509.1 L1129.3,514.3 L1131.7,519.0 L1134.0,522.9 L1136.2,525.9 L1138.1,528.0 L1140.1,529.6 L1142.3,531.0 L1144.9,532.5 L1148.0,534.3 L1151.9,536.6 L1156.3,539.0 L1161.1,541.5 L1166.1,543.9 L1171.2,546.2 L1176.0,548.1 L1181.0,549.8 L1186.4,551.3 L1191.8,552.7 L1196.7,553.8 L1201.0,554.7 L1204.0,555.5 L1204.0,598.6 L1201.0,599.1 L1196.7,599.9 L1191.8,600.8 L1186.4,601.9 L1181.0,603.0 L1176.0,604.2 L1171.2,605.6 L1166.1,607.0 L1161.1,608.6 L1156.3,610.1 L1151.9,611.7 L1148.0,613.2 L1144.9,614.4 L1142.3,615.3 L1140.1,616.2 L1138.1,617.4 L1136.2,619.0 L1134.0,621.3 L1131.7,624.3 L1129.3,627.6 L1127.0,631.5 L1124.7,635.9 L1122.3,640.8 L1120.0,646.5 L1117.7,653.5 L1115.5,661.8 L1113.2,670.8 L1111.0,679.5 L1108.6,687.4 L1106.0,693.7 L1103.1,698.3 L1100.0,701.8 L1096.8,704.5 L1093.6,706.4 L1090.6,707.6 L1088.0,708.3 L1085.9,708.3 L1084.2,707.5 L1082.8,706.0 L1081.3,704.0 L1079.8,701.7 L1078.0,699.4 L1075.9,696.8 L1073.6,693.9 L1071.2,690.8 L1068.8,687.3 L1066.4,683.7 L1064.0,679.9 L1061.7,675.6 L1059.3,671.0 L1057.0,666.2 L1054.7,661.3 L1052.3,656.6 L1050.0,652.2 L1047.7,648.1 L1045.3,644.0 L1043.0,640.1 L1040.7,636.4 L1038.3,633.1 L1036.0,630.3 L1033.7,628.0 L1031.3,626.2 L1029.0,624.8 L1026.7,623.6 L1024.3,622.5 L1022.0,621.3 L1019.8,620.2 L1017.9,619.2 L1015.9,618.3 L1013.7,617.5 L1011.1,616.6 L1008.0,615.6 L1004.1,614.6 L999.7,613.4 L994.9,612.3 L989.9,611.1 L984.8,610.1 L980.0,609.1 L975.3,608.3 L970.4,607.5 L965.6,606.8 L960.8,606.1 L956.3,605.6 L952.0,605.1 L948.3,604.6 L945.3,604.3 L942.4,604.0 L939.3,603.8 L935.6,603.6 L931.0,603.4 L925.2,603.3 L918.6,603.3 L911.3,603.3 L903.8,603.3 L896.2,603.4 L889.0,603.4 L881.7,603.5 L874.1,603.6 L866.4,603.7 L859.1,603.9 L852.6,604.1 L847.0,604.2 L842.7,604.4 L839.4,604.7 L836.8,604.9 L834.5,605.2 L832.4,605.5 L830.0,605.9 L827.5,606.3 L825.1,606.7 L822.8,607.2 L820.6,607.8 L818.3,608.4 L816.0,609.1 L813.7,609.9 L811.3,610.7 L809.0,611.6 L806.7,612.6 L804.3,613.6 L802.0,614.8 L799.6,616.1 L797.2,617.5 L794.8,619.0 L792.4,620.6 L790.2,622.2 L788.0,623.8 L786.0,625.2 L784.1,626.6 L782.3,628.1 L780.6,629.6 L778.8,631.4 L777.0,633.5 L775.2,636.0 L773.3,638.7 L771.5,641.6 L769.7,644.8 L767.8,648.0 L766.0,651.4 L764.2,654.9 L762.4,658.6 L760.6,662.5 L758.7,666.4 L756.9,670.3 L755.0,674.2 L753.0,678.2 L751.0,682.4 L749.0,686.6 L747.0,690.6 L745.0,694.1 L743.0,696.9 L741.1,699.1 L739.3,700.7 L737.4,702.0 L735.6,702.7 L733.8,702.9 L732.0,702.6 L730.2,701.8 L728.3,700.3 L726.5,698.4 L724.7,696.1 L722.8,693.4 L721.0,690.4 L719.2,687.0 L717.4,683.0 L715.6,678.7 L713.7,674.3 L711.9,670.0 L710.0,666.0 L708.0,662.3 L706.0,658.7 L704.0,655.2 L702.0,651.8 L700.0,648.7 L698.0,645.7 L696.1,643.0 L694.3,640.4 L692.4,638.0 L690.6,635.8 L688.8,633.8 L687.0,631.9 L685.2,630.2 L683.4,628.6 L681.7,627.3 L679.9,626.0 L678.0,624.9 L676.0,623.8 L673.8,622.7 L671.6,621.8 L669.2,621.0 L666.8,620.3 L664.4,619.6 L662.0,618.9 L659.7,618.3 L657.3,617.8 L655.0,617.4 L652.7,616.9 L650.3,616.3 L648.0,615.6 L645.8,614.7 L643.9,613.7 L641.9,612.6 L639.7,611.4 L637.1,610.2 L634.0,609.1 L630.0,608.0 L625.2,606.7 L620.0,605.5 L614.8,604.4 L610.0,603.4 L606.0,602.6 L603.0,602.1 L600.8,601.9 L599.0,601.8 L597.2,601.7 L595.0,601.8 L592.0,601.8 L588.1,601.8 L583.7,601.9 L578.9,602.1 L573.9,602.2 L568.8,602.4 L564.0,602.6 L559.3,602.9 L554.7,603.2 L550.0,603.6 L545.3,603.9 L540.7,604.1 L536.0,604.2 L531.4,604.2 L526.8,603.9 L522.2,603.6 L517.6,603.3 L512.9,602.9 L508.0,602.6 L502.6,602.3 L496.8,602.0 L490.9,601.7 L485.2,601.4 L480.1,601.1 L476.0,601.0 L473.3,600.9 L471.7,600.7 L470.8,600.6 L469.9,600.7 L468.5,601.0 L466.0,601.8 L462.3,603.0 L457.8,604.6 L452.8,606.5 L447.6,608.6 L442.5,610.8 L438.0,613.2 L433.9,615.6 L429.9,618.3 L426.0,621.1 L422.4,624.0 L419.0,627.1 L416.0,630.3 L413.4,633.7 L411.2,637.3 L409.3,641.1 L407.6,644.9 L405.8,648.6 L404.0,652.2 L402.1,655.6 L400.3,658.9 L398.4,662.1 L396.6,665.3 L394.8,668.5 L393.0,671.7 L391.2,675.1 L389.4,678.7 L387.7,682.3 L385.9,685.7 L384.0,688.7 L382.0,691.2 L379.8,693.2 L377.6,694.9 L375.2,696.2 L372.8,697.1 L370.4,697.7 L368.0,697.7 L365.6,697.4 L363.2,696.6 L360.8,695.4 L358.4,693.8 L356.2,691.9 L354.0,689.6 L352.0,686.9 L350.1,683.8 L348.3,680.3 L346.6,676.5 L344.8,672.5 L343.0,668.5 L341.2,664.1 L339.4,659.3 L337.6,654.3 L335.7,649.4 L333.9,644.8 L332.0,640.8 L330.2,637.5 L328.4,634.5 L326.7,631.9 L324.8,629.5 L322.6,627.4 L320.0,625.4 L317.0,623.6 L313.6,622.0 L310.0,620.7 L306.1,619.4 L302.1,618.3 L298.0,617.2 L293.7,616.3 L289.1,615.5 L284.4,614.8 L279.6,614.1 L274.7,613.3 L270.0,612.4 L265.3,611.1 L260.7,609.6 L256.0,608.1 L251.3,606.5 L246.7,605.2 L242.0,604.2 L237.3,603.7 L232.7,603.5 L228.0,603.5 L223.3,603.5 L218.7,603.6 L214.0,603.4 L209.5,603.1 L205.3,602.7 L201.1,602.3 L196.6,601.9 L191.7,601.4 L186.0,601.0 L179.0,600.6 L170.8,600.1 L162.1,599.7 L153.7,599.2 L146.4,598.9 L141.0,598.6 L137.8,598.3 L136.2,598.1 L135.7,598.0 L135.8,597.9 L136.1,597.8 L136.0,597.7 Z" fill="#4673b4" fill-opacity="0.26"/>
<rect x="138.6" y="576.6" width="6.9" height="6.5" fill="#a9bff0"/>
<rect x="139.7" y="576.6" width="4.6" height="6.5" fill="#4169c4"/>
<rect x="145.4" y="576.6" width="6.9" height="2.4" fill="#a9bff0"/>
<rect x="146.5" y="576.6" width="4.6" height="2.4" fill="#4169c4"/>
<rect x="152.2" y="576.6" width="6.9" height="9.8" fill="#a9bff0"/>
<rect x="153.3" y="576.6" width="4.6" height="9.8" fill="#4169c4"/>
<rect x="159.0" y="571.7" width="6.9" height="4.9" fill="#a9bff0"/>
<rect x="160.2" y="571.7" width="4.6" height="4.9" fill="#4169c4"/>
<rect x="165.8" y="576.6" width="6.9" height="11.4" fill="#a9bff0"/>
<rect x="167.0" y="576.6" width="4.6" height="11.4" fill="#4169c4"/>
<rect x="172.7" y="576.6" width="6.9" height="25.2" fill="#a9bff0"/>
<rect x="173.8" y="576.6" width="4.6" height="25.2" fill="#4169c4"/>
<rect x="179.5" y="576.6" width="6.9" height="5.7" fill="#a9bff0"/>
<rect x="180.6" y="576.6" width="4.6" height="5.7" fill="#4169c4"/>
<rect x="186.3" y="576.6" width="6.9" height="12.2" fill="#a9bff0"/>
<rect x="187.4" y="576.6" width="4.6" height="12.2" fill="#4169c4"/>
<rect x="193.1" y="552.2" width="6.9" height="24.4" fill="#a9bff0"/>
<rect x="194.3" y="552.2" width="4.6" height="24.4" fill="#4169c4"/>
<rect x="199.9" y="576.6" width="6.9" height="2.4" fill="#a9bff0"/>
<rect x="201.1" y="576.6" width="4.6" height="2.4" fill="#4169c4"/>
<rect x="206.8" y="576.6" width="6.9" height="12.2" fill="#a9bff0"/>
<rect x="207.9" y="576.6" width="4.6" height="12.2" fill="#4169c4"/>
<rect x="213.6" y="552.2" width="6.9" height="24.4" fill="#a9bff0"/>
<rect x="214.7" y="552.2" width="4.6" height="24.4" fill="#4169c4"/>
<rect x="220.4" y="547.3" width="6.9" height="29.3" fill="#a9bff0"/>
<rect x="221.5" y="547.3" width="4.6" height="29.3" fill="#4169c4"/>
<rect x="227.2" y="554.6" width="6.9" height="22.0" fill="#a9bff0"/>
<rect x="228.4" y="554.6" width="4.6" height="22.0" fill="#4169c4"/>
<rect x="234.0" y="576.6" width="6.9" height="4.9" fill="#a9bff0"/>
<rect x="235.2" y="576.6" width="4.6" height="4.9" fill="#4169c4"/>
<rect x="240.9" y="576.6" width="6.9" height="23.6" fill="#a9bff0"/>
<rect x="242.0" y="576.6" width="4.6" height="23.6" fill="#4169c4"/>
<rect x="247.7" y="576.6" width="6.9" height="42.3" fill="#a9bff0"/>
<rect x="248.8" y="576.6" width="4.6" height="42.3" fill="#4169c4"/>
<rect x="254.5" y="576.6" width="6.9" height="30.9" fill="#a9bff0"/>
<rect x="255.6" y="576.6" width="4.6" height="30.9" fill="#4169c4"/>
<rect x="261.3" y="576.6" width="6.9" height="41.5" fill="#a9bff0"/>
<rect x="262.5" y="576.6" width="4.6" height="41.5" fill="#4169c4"/>
<rect x="268.1" y="576.6" width="6.9" height="48.8" fill="#a9bff0"/>
<rect x="269.3" y="576.6" width="4.6" height="48.8" fill="#4169c4"/>
<rect x="274.9" y="576.6" width="6.9" height="55.3" fill="#a9bff0"/>
<rect x="276.1" y="576.6" width="4.6" height="55.3" fill="#4169c4"/>
<rect x="281.8" y="576.6" width="6.9" height="65.9" fill="#a9bff0"/>
<rect x="282.9" y="576.6" width="4.6" height="65.9" fill="#4169c4"/>
<rect x="288.6" y="576.6" width="6.9" height="64.2" fill="#a9bff0"/>
<rect x="289.7" y="576.6" width="4.6" height="64.2" fill="#4169c4"/>
<rect x="295.4" y="576.6" width="6.9" height="79.7" fill="#a9bff0"/>
<rect x="296.6" y="576.6" width="4.6" height="79.7" fill="#4169c4"/>
<rect x="302.2" y="576.6" width="6.9" height="75.6" fill="#a9bff0"/>
<rect x="303.4" y="576.6" width="4.6" height="75.6" fill="#4169c4"/>
<rect x="309.1" y="576.6" width="6.9" height="87.8" fill="#a9bff0"/>
<rect x="310.2" y="576.6" width="4.6" height="87.8" fill="#4169c4"/>
<rect x="315.9" y="576.6" width="6.9" height="84.6" fill="#a9bff0"/>
<rect x="317.0" y="576.6" width="4.6" height="84.6" fill="#4169c4"/>
<rect x="322.7" y="576.6" width="6.9" height="74.8" fill="#a9bff0"/>
<rect x="323.8" y="576.6" width="4.6" height="74.8" fill="#4169c4"/>
<rect x="329.5" y="576.6" width="6.9" height="117.1" fill="#a9bff0"/>
<rect x="330.7" y="576.6" width="4.6" height="117.1" fill="#4169c4"/>
<rect x="336.3" y="576.6" width="6.9" height="113.8" fill="#a9bff0"/>
<rect x="337.5" y="576.6" width="4.6" height="113.8" fill="#4169c4"/>
<rect x="343.2" y="576.6" width="6.9" height="126.0" fill="#a9bff0"/>
<rect x="344.3" y="576.6" width="4.6" height="126.0" fill="#4169c4"/>
<rect x="350.0" y="576.6" width="6.9" height="85.4" fill="#a9bff0"/>
<rect x="351.1" y="576.6" width="4.6" height="85.4" fill="#4169c4"/>
<rect x="356.8" y="576.6" width="6.9" height="117.1" fill="#a9bff0"/>
<rect x="357.9" y="576.6" width="4.6" height="117.1" fill="#4169c4"/>
<rect x="363.6" y="576.6" width="6.9" height="144.7" fill="#a9bff0"/>
<rect x="364.8" y="576.6" width="4.6" height="144.7" fill="#4169c4"/>
<rect x="370.4" y="576.6" width="6.9" height="130.1" fill="#a9bff0"/>
<rect x="371.6" y="576.6" width="4.6" height="130.1" fill="#4169c4"/>
<rect x="377.3" y="576.6" width="6.9" height="121.1" fill="#a9bff0"/>
<rect x="378.4" y="576.6" width="4.6" height="121.1" fill="#4169c4"/>
<rect x="384.1" y="576.6" width="6.9" height="101.6" fill="#a9bff0"/>
<rect x="385.2" y="576.6" width="4.6" height="101.6" fill="#4169c4"/>
<rect x="390.9" y="576.6" width="6.9" height="112.2" fill="#a9bff0"/>
<rect x="392.0" y="576.6" width="4.6" height="112.2" fill="#4169c4"/>
<rect x="397.7" y="576.6" width="6.9" height="85.4" fill="#a9bff0"/>
<rect x="398.9" y="576.6" width="4.6" height="85.4" fill="#4169c4"/>
<rect x="404.5" y="576.6" width="6.9" height="96.7" fill="#a9bff0"/>
<rect x="405.7" y="576.6" width="4.6" height="96.7" fill="#4169c4"/>
<rect x="411.4" y="576.6" width="6.9" height="78.9" fill="#a9bff0"/>
<rect x="412.5" y="576.6" width="4.6" height="78.9" fill="#4169c4"/>
<rect x="418.2" y="576.6" width="6.9" height="86.2" fill="#a9bff0"/>
<rect x="419.3" y="576.6" width="4.6" height="86.2" fill="#4169c4"/>
<rect x="425.0" y="576.6" width="6.9" height="69.9" fill="#a9bff0"/>
<rect x="426.1" y="576.6" width="4.6" height="69.9" fill="#4169c4"/>
<rect x="431.8" y="576.6" width="6.9" height="57.7" fill="#a9bff0"/>
<rect x="433.0" y="576.6" width="4.6" height="57.7" fill="#4169c4"/>
<rect x="438.6" y="576.6" width="6.9" height="52.0" fill="#a9bff0"/>
<rect x="439.8" y="576.6" width="4.6" height="52.0" fill="#4169c4"/>
<rect x="445.5" y="576.6" width="6.9" height="44.7" fill="#a9bff0"/>
<rect x="446.6" y="576.6" width="4.6" height="44.7" fill="#4169c4"/>
<rect x="452.3" y="576.6" width="6.9" height="43.9" fill="#a9bff0"/>
<rect x="453.4" y="576.6" width="4.6" height="43.9" fill="#4169c4"/>
<rect x="459.1" y="576.6" width="6.9" height="39.0" fill="#a9bff0"/>
<rect x="460.2" y="576.6" width="4.6" height="39.0" fill="#4169c4"/>
<rect x="465.9" y="576.6" width="6.9" height="24.4" fill="#a9bff0"/>
<rect x="467.1" y="576.6" width="4.6" height="24.4" fill="#4169c4"/>
<rect x="472.7" y="576.6" width="6.9" height="25.2" fill="#a9bff0"/>
<rect x="473.9" y="576.6" width="4.6" height="25.2" fill="#4169c4"/>
<rect x="479.6" y="576.6" width="6.9" height="30.1" fill="#a9bff0"/>
<rect x="480.7" y="576.6" width="4.6" height="30.1" fill="#4169c4"/>
<rect x="486.4" y="576.6" width="6.9" height="22.0" fill="#a9bff0"/>
<rect x="487.5" y="576.6" width="4.6" height="22.0" fill="#4169c4"/>
<rect x="493.2" y="576.6" width="6.9" height="24.4" fill="#a9bff0"/>
<rect x="494.3" y="576.6" width="4.6" height="24.4" fill="#4169c4"/>
<rect x="500.0" y="576.6" width="6.9" height="32.5" fill="#a9bff0"/>
<rect x="501.2" y="576.6" width="4.6" height="32.5" fill="#4169c4"/>
<rect x="506.8" y="576.6" width="6.9" height="27.6" fill="#a9bff0"/>
<rect x="508.0" y="576.6" width="4.6" height="27.6" fill="#4169c4"/>
<rect x="513.6" y="576.6" width="6.9" height="17.1" fill="#a9bff0"/>
<rect x="514.8" y="576.6" width="4.6" height="17.1" fill="#4169c4"/>
<rect x="520.5" y="576.6" width="6.9" height="27.6" fill="#a9bff0"/>
<rect x="521.6" y="576.6" width="4.6" height="27.6" fill="#4169c4"/>
<rect x="527.3" y="576.6" width="6.9" height="17.1" fill="#a9bff0"/>
<rect x="528.4" y="576.6" width="4.6" height="17.1" fill="#4169c4"/>
<rect x="534.1" y="576.6" width="6.9" height="35.8" fill="#a9bff0"/>
<rect x="535.3" y="576.6" width="4.6" height="35.8" fill="#4169c4"/>
<rect x="540.9" y="576.6" width="6.9" height="33.3" fill="#a9bff0"/>
<rect x="542.1" y="576.6" width="4.6" height="33.3" fill="#4169c4"/>
<rect x="547.8" y="576.6" width="6.9" height="8.1" fill="#a9bff0"/>
<rect x="548.9" y="576.6" width="4.6" height="8.1" fill="#4169c4"/>
<rect x="554.6" y="576.6" width="6.9" height="35.8" fill="#a9bff0"/>
<rect x="555.7" y="576.6" width="4.6" height="35.8" fill="#4169c4"/>
<rect x="561.4" y="576.6" width="6.9" height="9.8" fill="#a9bff0"/>
<rect x="562.5" y="576.6" width="4.6" height="9.8" fill="#4169c4"/>
<rect x="568.2" y="574.2" width="6.9" height="2.4" fill="#a9bff0"/>
<rect x="569.4" y="574.2" width="4.6" height="2.4" fill="#4169c4"/>
<rect x="575.0" y="576.6" width="6.9" height="38.2" fill="#a9bff0"/>
<rect x="576.2" y="576.6" width="4.6" height="38.2" fill="#4169c4"/>
<rect x="581.8" y="576.6" width="6.9" height="2.4" fill="#a9bff0"/>
<rect x="583.0" y="576.6" width="4.6" height="2.4" fill="#4169c4"/>
<rect x="588.7" y="576.6" width="6.9" height="42.3" fill="#a9bff0"/>
<rect x="589.8" y="576.6" width="4.6" height="42.3" fill="#4169c4"/>
<rect x="595.5" y="563.6" width="6.9" height="13.0" fill="#a9bff0"/>
<rect x="596.6" y="563.6" width="4.6" height="13.0" fill="#4169c4"/>
<rect x="602.3" y="576.6" width="6.9" height="6.5" fill="#a9bff0"/>
<rect x="603.5" y="576.6" width="4.6" height="6.5" fill="#4169c4"/>
<rect x="609.1" y="574.2" width="6.9" height="2.4" fill="#a9bff0"/>
<rect x="610.3" y="574.2" width="4.6" height="2.4" fill="#4169c4"/>
<rect x="616.0" y="576.6" width="6.9" height="6.5" fill="#a9bff0"/>
<rect x="617.1" y="576.6" width="4.6" height="6.5" fill="#4169c4"/>
<rect x="622.8" y="576.6" width="6.9" height="15.4" fill="#a9bff0"/>
<rect x="623.9" y="576.6" width="4.6" height="15.4" fill="#4169c4"/>
<rect x="629.6" y="576.6" width="6.9" height="42.3" fill="#a9bff0"/>
<rect x="630.7" y="576.6" width="4.6" height="42.3" fill="#4169c4"/>
<rect x="636.4" y="576.6" width="6.9" height="2.4" fill="#a9bff0"/>
<rect x="637.6" y="576.6" width="4.6" height="2.4" fill="#4169c4"/>
<rect x="643.2" y="576.6" width="6.9" height="56.1" fill="#a9bff0"/>
<rect x="644.4" y="576.6" width="4.6" height="56.1" fill="#4169c4"/>
<rect x="650.0" y="576.6" width="6.9" height="36.6" fill="#a9bff0"/>
<rect x="651.2" y="576.6" width="4.6" height="36.6" fill="#4169c4"/>
<rect x="656.9" y="576.6" width="6.9" height="27.6" fill="#a9bff0"/>
<rect x="658.0" y="576.6" width="4.6" height="27.6" fill="#4169c4"/>
<rect x="663.7" y="576.6" width="6.9" height="41.5" fill="#a9bff0"/>
<rect x="664.8" y="576.6" width="4.6" height="41.5" fill="#4169c4"/>
<rect x="670.5" y="576.6" width="6.9" height="43.1" fill="#a9bff0"/>
<rect x="671.7" y="576.6" width="4.6" height="43.1" fill="#4169c4"/>
<rect x="677.3" y="576.6" width="6.9" height="47.2" fill="#a9bff0"/>
<rect x="678.5" y="576.6" width="4.6" height="47.2" fill="#4169c4"/>
<rect x="684.2" y="576.6" width="6.9" height="48.8" fill="#a9bff0"/>
<rect x="685.3" y="576.6" width="4.6" height="48.8" fill="#4169c4"/>
<rect x="691.0" y="576.6" width="6.9" height="56.1" fill="#a9bff0"/>
<rect x="692.1" y="576.6" width="4.6" height="56.1" fill="#4169c4"/>
<rect x="697.8" y="576.6" width="6.9" height="78.9" fill="#a9bff0"/>
<rect x="698.9" y="576.6" width="4.6" height="78.9" fill="#4169c4"/>
<rect x="704.6" y="576.6" width="6.9" height="80.5" fill="#a9bff0"/>
<rect x="705.8" y="576.6" width="4.6" height="80.5" fill="#4169c4"/>
<rect x="711.4" y="576.6" width="6.9" height="76.4" fill="#a9bff0"/>
<rect x="712.6" y="576.6" width="4.6" height="76.4" fill="#4169c4"/>
<rect x="718.2" y="576.6" width="6.9" height="69.9" fill="#a9bff0"/>
<rect x="719.4" y="576.6" width="4.6" height="69.9" fill="#4169c4"/>
<rect x="725.1" y="576.6" width="6.9" height="100.0" fill="#a9bff0"/>
<rect x="726.2" y="576.6" width="4.6" height="100.0" fill="#4169c4"/>
<rect x="731.9" y="576.6" width="6.9" height="107.3" fill="#a9bff0"/>
<rect x="733.0" y="576.6" width="4.6" height="107.3" fill="#4169c4"/>
<rect x="738.7" y="576.6" width="6.9" height="105.7" fill="#a9bff0"/>
<rect x="739.9" y="576.6" width="4.6" height="105.7" fill="#4169c4"/>
<rect x="745.5" y="576.6" width="6.9" height="103.3" fill="#a9bff0"/>
<rect x="746.7" y="576.6" width="4.6" height="103.3" fill="#4169c4"/>
<rect x="752.3" y="576.6" width="6.9" height="103.3" fill="#a9bff0"/>
<rect x="753.5" y="576.6" width="4.6" height="103.3" fill="#4169c4"/>
<rect x="759.2" y="576.6" width="6.9" height="94.3" fill="#a9bff0"/>
<rect x="760.3" y="576.6" width="4.6" height="94.3" fill="#4169c4"/>
<rect x="766.0" y="576.6" width="6.9" height="52.0" fill="#a9bff0"/>
<rect x="767.1" y="576.6" width="4.6" height="52.0" fill="#4169c4"/>
<rect x="772.8" y="576.6" width="6.9" height="86.2" fill="#a9bff0"/>
<rect x="774.0" y="576.6" width="4.6" height="86.2" fill="#4169c4"/>
<rect x="779.6" y="576.6" width="6.9" height="53.7" fill="#a9bff0"/>
<rect x="780.8" y="576.6" width="4.6" height="53.7" fill="#4169c4"/>
<rect x="786.5" y="576.6" width="6.9" height="35.8" fill="#a9bff0"/>
<rect x="787.6" y="576.6" width="4.6" height="35.8" fill="#4169c4"/>
<rect x="793.3" y="576.6" width="6.9" height="45.5" fill="#a9bff0"/>
<rect x="794.4" y="576.6" width="4.6" height="45.5" fill="#4169c4"/>
<rect x="800.1" y="576.6" width="6.9" height="46.3" fill="#a9bff0"/>
<rect x="801.2" y="576.6" width="4.6" height="46.3" fill="#4169c4"/>
<rect x="806.9" y="576.6" width="6.9" height="26.0" fill="#a9bff0"/>
<rect x="808.1" y="576.6" width="4.6" height="26.0" fill="#4169c4"/>
<rect x="813.7" y="576.6" width="6.9" height="39.8" fill="#a9bff0"/>
<rect x="814.9" y="576.6" width="4.6" height="39.8" fill="#4169c4"/>
<rect x="820.5" y="576.6" width="6.9" height="20.3" fill="#a9bff0"/>
<rect x="821.7" y="576.6" width="4.6" height="20.3" fill="#4169c4"/>
<rect x="827.4" y="576.6" width="6.9" height="27.6" fill="#a9bff0"/>
<rect x="828.5" y="576.6" width="4.6" height="27.6" fill="#4169c4"/>
<rect x="834.2" y="576.6" width="6.9" height="4.1" fill="#a9bff0"/>
<rect x="835.3" y="576.6" width="4.6" height="4.1" fill="#4169c4"/>
<rect x="841.0" y="576.6" width="6.9" height="39.8" fill="#a9bff0"/>
<rect x="842.2" y="576.6" width="4.6" height="39.8" fill="#4169c4"/>
<rect x="847.8" y="576.6" width="6.9" height="33.3" fill="#a9bff0"/>
<rect x="849.0" y="576.6" width="4.6" height="33.3" fill="#4169c4"/>
<rect x="854.7" y="576.6" width="6.9" height="23.6" fill="#a9bff0"/>
<rect x="855.8" y="576.6" width="4.6" height="23.6" fill="#4169c4"/>
<rect x="861.5" y="571.7" width="6.9" height="4.9" fill="#a9bff0"/>
<rect x="862.6" y="571.7" width="4.6" height="4.9" fill="#4169c4"/>
<rect x="868.3" y="576.6" width="6.9" height="13.0" fill="#a9bff0"/>
<rect x="869.4" y="576.6" width="4.6" height="13.0" fill="#4169c4"/>
<rect x="875.1" y="576.6" width="6.9" height="16.3" fill="#a9bff0"/>
<rect x="876.3" y="576.6" width="4.6" height="16.3" fill="#4169c4"/>
<rect x="881.9" y="576.6" width="6.9" height="27.6" fill="#a9bff0"/>
<rect x="883.1" y="576.6" width="4.6" height="27.6" fill="#4169c4"/>
<rect x="888.8" y="576.6" width="6.9" height="27.6" fill="#a9bff0"/>
<rect x="889.9" y="576.6" width="4.6" height="27.6" fill="#4169c4"/>
<rect x="895.6" y="576.6" width="6.9" height="2.4" fill="#a9bff0"/>
<rect x="896.7" y="576.6" width="4.6" height="2.4" fill="#4169c4"/>
<rect x="902.4" y="562.0" width="6.9" height="14.6" fill="#a9bff0"/>
<rect x="903.5" y="562.0" width="4.6" height="14.6" fill="#4169c4"/>
<rect x="909.2" y="576.6" width="6.9" height="8.1" fill="#a9bff0"/>
<rect x="910.4" y="576.6" width="4.6" height="8.1" fill="#4169c4"/>
<rect x="916.0" y="576.6" width="6.9" height="16.3" fill="#a9bff0"/>
<rect x="917.2" y="576.6" width="4.6" height="16.3" fill="#4169c4"/>
<rect x="922.8" y="574.2" width="6.9" height="2.4" fill="#a9bff0"/>
<rect x="924.0" y="574.2" width="4.6" height="2.4" fill="#4169c4"/>
<rect x="929.7" y="576.6" width="6.9" height="17.1" fill="#a9bff0"/>
<rect x="930.8" y="576.6" width="4.6" height="17.1" fill="#4169c4"/>
<rect x="936.5" y="576.6" width="6.9" height="23.6" fill="#a9bff0"/>
<rect x="937.6" y="576.6" width="4.6" height="23.6" fill="#4169c4"/>
<rect x="943.3" y="574.2" width="6.9" height="2.4" fill="#a9bff0"/>
<rect x="944.5" y="574.2" width="4.6" height="2.4" fill="#4169c4"/>
<rect x="950.1" y="576.6" width="6.9" height="33.3" fill="#a9bff0"/>
<rect x="951.3" y="576.6" width="4.6" height="33.3" fill="#4169c4"/>
<rect x="957.0" y="576.6" width="6.9" height="30.1" fill="#a9bff0"/>
<rect x="958.1" y="576.6" width="4.6" height="30.1" fill="#4169c4"/>
<rect x="963.8" y="576.6" width="6.9" height="4.1" fill="#a9bff0"/>
<rect x="964.9" y="576.6" width="4.6" height="4.1" fill="#4169c4"/>
<rect x="970.6" y="576.6" width="6.9" height="22.8" fill="#a9bff0"/>
<rect x="971.7" y="576.6" width="4.6" height="22.8" fill="#4169c4"/>
<rect x="977.4" y="576.6" width="6.9" height="23.6" fill="#a9bff0"/>
<rect x="978.6" y="576.6" width="4.6" height="23.6" fill="#4169c4"/>
<rect x="984.2" y="576.6" width="6.9" height="8.1" fill="#a9bff0"/>
<rect x="985.4" y="576.6" width="4.6" height="8.1" fill="#4169c4"/>
<rect x="991.0" y="576.6" width="6.9" height="28.5" fill="#a9bff0"/>
<rect x="992.2" y="576.6" width="4.6" height="28.5" fill="#4169c4"/>
<rect x="997.9" y="571.7" width="6.9" height="4.9" fill="#a9bff0"/>
<rect x="999.0" y="571.7" width="4.6" height="4.9" fill="#4169c4"/>
<rect x="1004.7" y="534.3" width="6.9" height="42.3" fill="#a9bff0"/>
<rect x="1005.8" y="534.3" width="4.6" height="42.3" fill="#4169c4"/>
<rect x="1011.5" y="550.6" width="6.9" height="26.0" fill="#a9bff0"/>
<rect x="1012.7" y="550.6" width="4.6" height="26.0" fill="#4169c4"/>
<rect x="1018.3" y="555.5" width="6.9" height="21.1" fill="#a9bff0"/>
<rect x="1019.5" y="555.5" width="4.6" height="21.1" fill="#4169c4"/>
<rect x="1025.2" y="564.4" width="6.9" height="12.2" fill="#a9bff0"/>
<rect x="1026.3" y="564.4" width="4.6" height="12.2" fill="#4169c4"/>
<rect x="1032.0" y="569.3" width="6.9" height="7.3" fill="#a9bff0"/>
<rect x="1033.1" y="569.3" width="4.6" height="7.3" fill="#4169c4"/>
<rect x="1038.8" y="576.6" width="6.9" height="27.6" fill="#a9bff0"/>
<rect x="1039.9" y="576.6" width="4.6" height="27.6" fill="#4169c4"/>
<rect x="1045.6" y="576.6" width="6.9" height="46.3" fill="#a9bff0"/>
<rect x="1046.8" y="576.6" width="4.6" height="46.3" fill="#4169c4"/>
<rect x="1052.4" y="576.6" width="6.9" height="41.5" fill="#a9bff0"/>
<rect x="1053.6" y="576.6" width="4.6" height="41.5" fill="#4169c4"/>
<rect x="1059.2" y="576.6" width="6.9" height="56.9" fill="#a9bff0"/>
<rect x="1060.4" y="576.6" width="4.6" height="56.9" fill="#4169c4"/>
<rect x="1066.1" y="576.6" width="6.9" height="53.7" fill="#a9bff0"/>
<rect x="1067.2" y="576.6" width="4.6" height="53.7" fill="#4169c4"/>
<rect x="1072.9" y="576.6" width="6.9" height="103.3" fill="#a9bff0"/>
<rect x="1074.0" y="576.6" width="4.6" height="103.3" fill="#4169c4"/>
<rect x="1079.7" y="576.6" width="6.9" height="88.6" fill="#a9bff0"/>
<rect x="1080.9" y="576.6" width="4.6" height="88.6" fill="#4169c4"/>
<rect x="1086.5" y="576.6" width="6.9" height="121.9" fill="#a9bff0"/>
<rect x="1087.7" y="576.6" width="4.6" height="121.9" fill="#4169c4"/>
<rect x="1093.3" y="576.6" width="6.9" height="109.8" fill="#a9bff0"/>
<rect x="1094.5" y="576.6" width="4.6" height="109.8" fill="#4169c4"/>
<rect x="1100.2" y="576.6" width="6.9" height="67.5" fill="#a9bff0"/>
<rect x="1101.3" y="576.6" width="4.6" height="67.5" fill="#4169c4"/>
<rect x="1107.0" y="576.6" width="6.9" height="73.2" fill="#a9bff0"/>
<rect x="1108.1" y="576.6" width="4.6" height="73.2" fill="#4169c4"/>
<rect x="1113.8" y="576.6" width="6.9" height="52.0" fill="#a9bff0"/>
<rect x="1115.0" y="576.6" width="4.6" height="52.0" fill="#4169c4"/>
<rect x="1120.6" y="576.6" width="6.9" height="77.2" fill="#a9bff0"/>
<rect x="1121.8" y="576.6" width="4.6" height="77.2" fill="#4169c4"/>
<rect x="1127.5" y="576.6" width="6.9" height="21.1" fill="#a9bff0"/>
<rect x="1128.6" y="576.6" width="4.6" height="21.1" fill="#4169c4"/>
<rect x="1134.3" y="576.6" width="6.9" height="13.8" fill="#a9bff0"/>
<rect x="1135.4" y="576.6" width="4.6" height="13.8" fill="#4169c4"/>
<rect x="1141.1" y="576.6" width="6.9" height="21.1" fill="#a9bff0"/>
<rect x="1142.2" y="576.6" width="4.6" height="21.1" fill="#4169c4"/>
<rect x="1147.9" y="576.6" width="6.9" height="13.8" fill="#a9bff0"/>
<rect x="1149.1" y="576.6" width="4.6" height="13.8" fill="#4169c4"/>
<rect x="1154.7" y="576.6" width="6.9" height="21.1" fill="#a9bff0"/>
<rect x="1155.9" y="576.6" width="4.6" height="21.1" fill="#4169c4"/>
<rect x="1161.5" y="576.6" width="6.9" height="21.1" fill="#a9bff0"/>
<rect x="1162.7" y="576.6" width="4.6" height="21.1" fill="#4169c4"/>
<rect x="1168.4" y="576.6" width="6.9" height="5.7" fill="#a9bff0"/>
<rect x="1169.5" y="576.6" width="4.6" height="5.7" fill="#4169c4"/>
<line x1="134.0" y1="576.6" x2="1202.0" y2="576.6" stroke="#000" stroke-width="3"/>
<line x1="490.9" y1="414.0" x2="490.9" y2="739.2" stroke="#000" stroke-width="4.2"/>
<line x1="845.9" y1="414.0" x2="845.9" y2="739.2" stroke="#000" stroke-width="4.2"/>
<line x1="134.0" y1="414.0" x2="134.0" y2="739.2" stroke="#000" stroke-width="4.5"/>
<line x1="1202.0" y1="414.0" x2="1202.0" y2="739.2" stroke="#000" stroke-width="4.5"/>
<path d="M169.3,581.5 L176.1,581.0 L182.9,582.1 L189.7,578.3 L196.6,575.6 L203.4,571.9 L210.2,569.6 L217.0,571.6 L223.8,575.0 L230.7,581.1 L237.5,585.5 L244.3,589.5 L251.1,598.4 L257.9,608.9 L264.8,618.5 L271.6,626.8 L278.4,632.6 L285.2,637.7 L292.0,643.6 L298.9,647.3 L305.7,654.9 L312.5,661.4 L319.3,668.1 L326.1,670.5 L333.0,674.6 L339.8,682.3 L346.6,687.0 L353.4,691.1 L360.2,694.0 L367.1,693.5 L373.9,690.3 L380.7,687.1 L387.5,686.4 L394.3,682.9 L401.2,674.6 L408.0,666.6 L414.8,658.9 L421.6,652.6 L428.4,645.0 L435.3,639.8 L442.1,631.8 L448.9,625.8 L455.7,619.6 L462.5,614.3 L469.4,610.6 L476.2,608.4 L483.0,606.5 L489.8,603.5 L496.6,602.3 L503.5,601.4 L510.3,602.6 L517.1,603.0 L523.9,601.4 L530.7,602.7 L537.6,600.2 L544.4,596.8 L551.2,599.2 L558.0,596.4 L564.8,599.2 L571.7,593.8 L578.5,590.8 L585.3,589.6 L592.1,586.4 L598.9,587.0 L605.8,592.0 L612.6,588.0 L619.4,593.9 L626.2,593.3 L633.0,597.8 L639.9,601.7 L646.7,606.8 L653.5,611.3 L660.3,615.0 L667.1,616.5 L674.0,625.0 L680.8,627.7 L687.6,632.2 L694.4,636.9 L701.2,643.4 L708.1,650.5 L714.9,657.0 L721.7,663.0 L728.5,668.3 L735.3,670.0 L742.2,666.8 L749.0,667.9 L755.8,666.1 L762.6,659.0 L769.4,652.1 L776.3,645.5 L783.1,636.9 L789.9,629.9 L796.7,621.7 L803.5,619.0 L810.4,609.8 L817.2,608.3 L824.0,608.0 L830.8,605.6 L837.6,599.9 L844.5,598.5 L851.3,595.8 L858.1,596.7 L864.9,596.7 L871.7,596.5 L878.6,590.4 L885.4,587.6 L892.2,586.8 L899.0,587.1 L905.8,587.5 L912.7,588.3 L919.5,585.0 L926.3,585.6 L933.1,588.7 L939.9,590.8 L946.8,592.4 L953.6,593.2 L960.4,594.4 L967.2,595.7 L974.0,592.5 L980.9,588.1 L987.7,581.5 L994.5,575.8 L1001.3,574.0 L1008.1,570.6 L1015.0,571.1 L1021.8,575.3 L1028.6,576.8 L1035.4,583.6 L1042.2,594.3 L1049.1,608.7 L1055.9,620.9 L1062.7,635.8 L1069.5,648.8 L1076.3,653.2 L1083.2,656.2 L1090.0,657.4 L1096.8,659.6 L1103.6,656.0 L1110.4,646.1 L1117.3,638.6 L1124.1,626.6 L1130.9,616.7 L1137.7,611.6 L1144.5,604.1" fill="none" stroke="#2b3443" stroke-width="4" stroke-linejoin="round" stroke-linecap="round"/>
<rect x="137.0" y="398.0" width="572.0" height="43.5" fill="#ffffff"/>
<text x="150.3" y="430.0" font-family="Liberation Sans" font-weight="bold" font-size="29" textLength="549.7" lengthAdjust="spacingAndGlyphs" fill="#000">Doctor-certified All Respiratory Disease</text>
<text x="115.5" y="420.3" font-family="Liberation Sans" font-size="20" text-anchor="end" fill="#111" stroke="#111" stroke-width="0.45">200</text>
<text x="115.5" y="501.6" font-family="Liberation Sans" font-size="20" text-anchor="end" fill="#111" stroke="#111" stroke-width="0.45">100</text>
<text x="115.5" y="582.9" font-family="Liberation Sans" font-size="20" text-anchor="end" fill="#111" stroke="#111" stroke-width="0.45">0</text>
<text x="115.5" y="664.2" font-family="Liberation Sans" font-size="20" text-anchor="end" fill="#111" stroke="#111" stroke-width="0.45">-100</text>
<text x="115.5" y="745.5" font-family="Liberation Sans" font-size="20" text-anchor="end" fill="#111" stroke="#111" stroke-width="0.45">-200</text>
<text transform="translate(76,576.6) rotate(-90)" x="0" y="0" font-family="Liberation Sans" font-size="24.5" stroke="#111" stroke-width="0.35" text-anchor="middle" textLength="141" lengthAdjust="spacingAndGlyphs" fill="#111">Excess Deaths</text>
<line x1="134.0" y1="1096.8" x2="1202.0" y2="1096.8" stroke="#eaeaea" stroke-width="2"/>
<line x1="134.0" y1="1080.4" x2="1202.0" y2="1080.4" stroke="#eaeaea" stroke-width="2"/>
<line x1="134.0" y1="1064.0" x2="1202.0" y2="1064.0" stroke="#eaeaea" stroke-width="2"/>
<line x1="134.0" y1="1047.6" x2="1202.0" y2="1047.6" stroke="#eaeaea" stroke-width="2"/>
<line x1="134.0" y1="1014.8" x2="1202.0" y2="1014.8" stroke="#eaeaea" stroke-width="2"/>
<line x1="134.0" y1="998.4" x2="1202.0" y2="998.4" stroke="#eaeaea" stroke-width="2"/>
<line x1="134.0" y1="982.0" x2="1202.0" y2="982.0" stroke="#eaeaea" stroke-width="2"/>
<line x1="134.0" y1="965.6" x2="1202.0" y2="965.6" stroke="#eaeaea" stroke-width="2"/>
<line x1="134.0" y1="932.8" x2="1202.0" y2="932.8" stroke="#eaeaea" stroke-width="2"/>
<line x1="134.0" y1="916.4" x2="1202.0" y2="916.4" stroke="#eaeaea" stroke-width="2"/>
<line x1="134.0" y1="900.0" x2="1202.0" y2="900.0" stroke="#eaeaea" stroke-width="2"/>
<line x1="134.0" y1="883.6" x2="1202.0" y2="883.6" stroke="#eaeaea" stroke-width="2"/>
<line x1="134.0" y1="850.8" x2="1202.0" y2="850.8" stroke="#eaeaea" stroke-width="2"/>
<line x1="134.0" y1="834.4" x2="1202.0" y2="834.4" stroke="#eaeaea" stroke-width="2"/>
<line x1="134.0" y1="818.0" x2="1202.0" y2="818.0" stroke="#eaeaea" stroke-width="2"/>
<line x1="134.0" y1="801.6" x2="1202.0" y2="801.6" stroke="#eaeaea" stroke-width="2"/>
<line x1="134.0" y1="785.2" x2="1202.0" y2="785.2" stroke="#bcbcbc" stroke-width="2.2"/>
<line x1="134.0" y1="867.2" x2="1202.0" y2="867.2" stroke="#bcbcbc" stroke-width="2.2"/>
<line x1="134.0" y1="1031.2" x2="1202.0" y2="1031.2" stroke="#bcbcbc" stroke-width="2.2"/>
<line x1="134.0" y1="1113.2" x2="1202.0" y2="1113.2" stroke="#bcbcbc" stroke-width="2.2"/>
<line x1="224.5" y1="785.2" x2="224.5" y2="1113.2" stroke="#d6d6d6" stroke-width="3"/>
<line x1="313.3" y1="785.2" x2="313.3" y2="1113.2" stroke="#d6d6d6" stroke-width="3"/>
<line x1="402.7" y1="785.2" x2="402.7" y2="1113.2" stroke="#d6d6d6" stroke-width="3"/>
<line x1="581.0" y1="785.2" x2="581.0" y2="1113.2" stroke="#d6d6d6" stroke-width="3"/>
<line x1="668.8" y1="785.2" x2="668.8" y2="1113.2" stroke="#d6d6d6" stroke-width="3"/>
<line x1="760.0" y1="785.2" x2="760.0" y2="1113.2" stroke="#d6d6d6" stroke-width="3"/>
<line x1="936.7" y1="785.2" x2="936.7" y2="1113.2" stroke="#d6d6d6" stroke-width="3"/>
<line x1="1025.9" y1="785.2" x2="1025.9" y2="1113.2" stroke="#d6d6d6" stroke-width="3"/>
<line x1="1115.5" y1="785.2" x2="1115.5" y2="1113.2" stroke="#d6d6d6" stroke-width="3"/>
<path d="M136.0,900.8 L140.9,900.9 L147.6,901.0 L155.6,901.1 L164.3,901.3 L172.9,901.4 L181.0,901.6 L188.6,901.9 L196.3,902.2 L204.0,902.6 L211.7,902.9 L219.4,903.1 L227.0,903.3 L234.9,903.3 L243.1,903.3 L251.4,903.2 L259.2,903.1 L266.2,902.8 L272.0,902.5 L276.2,902.1 L279.0,901.6 L280.9,901.1 L282.7,900.5 L284.9,899.6 L288.0,898.4 L292.3,896.7 L297.2,894.7 L302.5,892.5 L307.9,890.2 L313.2,888.0 L318.0,886.1 L322.3,884.3 L326.4,882.6 L330.3,880.9 L334.1,879.4 L338.0,878.1 L342.0,877.0 L346.1,876.1 L350.1,875.3 L354.1,874.7 L358.3,874.3 L362.5,874.2 L367.0,874.6 L371.8,875.4 L376.9,876.8 L382.1,878.5 L387.3,880.4 L392.3,882.1 L397.0,883.6 L401.2,884.8 L404.9,885.9 L408.4,886.9 L412.1,887.9 L416.2,889.0 L421.0,890.2 L426.7,891.5 L433.0,893.0 L439.8,894.6 L446.7,896.1 L453.5,897.4 L460.0,898.4 L466.0,898.9 L471.7,899.2 L477.3,899.2 L483.1,899.2 L489.2,899.1 L496.0,899.2 L503.7,899.3 L512.3,899.4 L521.3,899.4 L530.2,899.5 L538.6,899.7 L546.0,900.0 L552.1,900.5 L557.2,901.2 L561.8,901.9 L566.3,902.6 L571.2,903.1 L577.0,903.3 L583.9,903.2 L591.5,902.8 L599.6,902.3 L607.6,901.6 L615.2,900.8 L622.0,900.0 L628.0,899.1 L633.5,898.1 L638.6,897.0 L643.4,895.9 L647.8,894.7 L652.0,893.4 L655.7,892.2 L658.8,890.9 L661.6,889.5 L664.3,888.2 L667.4,886.7 L671.0,885.2 L675.3,883.6 L680.2,881.9 L685.3,880.1 L690.5,878.3 L695.5,876.7 L700.0,875.4 L704.1,874.3 L707.8,873.4 L711.4,872.6 L714.9,872.0 L718.4,871.5 L722.0,871.3 L725.9,871.3 L729.9,871.5 L733.9,872.0 L737.9,872.5 L741.6,873.1 L745.0,873.8 L747.7,874.4 L749.7,875.0 L751.6,875.7 L753.6,876.5 L756.3,877.5 L760.0,878.7 L765.1,880.3 L771.2,882.3 L777.9,884.4 L784.9,886.6 L791.7,888.6 L798.0,890.2 L803.7,891.4 L809.1,892.4 L814.4,893.3 L819.6,894.0 L824.7,894.6 L830.0,895.1 L835.3,895.4 L840.4,895.6 L845.6,895.7 L850.9,895.7 L856.3,895.8 L862.0,895.9 L867.8,896.1 L873.7,896.4 L879.8,896.7 L886.1,897.0 L892.8,897.3 L900.0,897.5 L908.1,897.8 L917.0,898.0 L926.2,898.3 L935.5,898.4 L944.2,898.5 L952.0,898.4 L958.7,898.1 L964.6,897.9 L970.0,897.5 L975.2,896.9 L980.4,896.1 L986.0,895.1 L991.9,893.6 L997.9,891.8 L1003.9,889.8 L1009.9,887.7 L1016.0,885.6 L1022.0,883.6 L1028.1,881.6 L1034.4,879.6 L1040.6,877.5 L1046.7,875.6 L1052.6,874.0 L1058.0,872.9 L1062.9,872.3 L1067.3,872.1 L1071.5,872.2 L1075.6,872.5 L1079.7,873.1 L1084.0,873.8 L1088.5,874.7 L1092.9,875.9 L1097.4,877.4 L1102.0,879.0 L1106.8,880.5 L1112.0,882.0 L1117.6,883.4 L1123.7,884.9 L1130.0,886.4 L1136.3,887.9 L1142.4,889.1 L1148.0,890.2 L1153.1,890.9 L1157.9,891.5 L1162.5,892.0 L1167.0,892.3 L1171.4,892.5 L1176.0,892.6 L1181.0,892.7 L1186.4,892.6 L1191.8,892.4 L1196.7,892.1 L1201.0,891.9 L1204.0,891.8 L1204.0,1007.4 L1201.0,1007.4 L1196.7,1007.3 L1191.8,1007.3 L1186.4,1007.2 L1181.0,1007.3 L1176.0,1007.4 L1171.4,1007.6 L1167.0,1007.8 L1162.5,1008.0 L1157.9,1008.4 L1153.1,1009.0 L1148.0,1009.9 L1142.4,1011.1 L1136.3,1012.6 L1130.0,1014.4 L1123.7,1016.2 L1117.6,1018.0 L1112.0,1019.7 L1106.8,1021.4 L1102.0,1023.2 L1097.4,1024.9 L1092.9,1026.6 L1088.5,1027.9 L1084.0,1028.7 L1079.7,1029.3 L1075.6,1029.6 L1071.5,1029.6 L1067.3,1029.2 L1062.9,1028.4 L1058.0,1027.1 L1052.6,1025.0 L1046.7,1022.2 L1040.6,1019.0 L1034.4,1015.7 L1028.1,1012.5 L1022.0,1009.9 L1016.0,1007.7 L1009.9,1005.8 L1003.9,1004.0 L997.9,1002.5 L991.9,1001.2 L986.0,1000.0 L980.4,999.2 L975.2,998.5 L970.0,998.1 L964.6,997.8 L958.7,997.7 L952.0,997.6 L944.2,997.6 L935.5,997.8 L926.2,998.0 L917.0,998.4 L908.1,998.8 L900.0,999.2 L892.8,999.7 L886.1,1000.3 L879.8,1000.9 L873.7,1001.5 L867.8,1002.0 L862.0,1002.5 L856.3,1002.9 L850.9,1003.1 L845.6,1003.4 L840.4,1003.6 L835.3,1003.8 L830.0,1004.1 L824.7,1004.4 L819.6,1004.6 L814.4,1004.8 L809.1,1005.1 L803.7,1005.7 L798.0,1006.6 L791.7,1008.1 L784.9,1010.0 L777.9,1012.2 L771.2,1014.4 L765.1,1016.4 L760.0,1018.1 L756.3,1019.3 L753.6,1020.3 L751.6,1021.1 L749.7,1021.7 L747.7,1022.4 L745.0,1023.0 L741.6,1023.8 L737.9,1024.6 L733.9,1025.4 L729.9,1026.0 L725.9,1026.3 L722.0,1026.3 L718.4,1025.8 L714.9,1025.0 L711.4,1023.9 L707.8,1022.6 L704.1,1021.2 L700.0,1019.7 L695.5,1018.1 L690.5,1016.2 L685.3,1014.2 L680.2,1012.3 L675.3,1010.5 L671.0,1009.1 L667.4,1008.0 L664.3,1007.3 L661.6,1006.7 L658.8,1006.2 L655.7,1005.7 L652.0,1005.0 L647.8,1004.0 L643.4,1003.0 L638.6,1001.9 L633.5,1000.8 L628.0,999.9 L622.0,999.2 L615.2,998.8 L607.6,998.6 L599.6,998.5 L591.5,998.5 L583.9,998.5 L577.0,998.4 L571.2,998.2 L566.3,998.1 L561.8,997.9 L557.2,997.7 L552.1,997.6 L546.0,997.6 L538.6,997.6 L530.2,997.7 L521.3,997.9 L512.3,998.1 L503.7,998.2 L496.0,998.4 L489.2,998.5 L483.1,998.4 L477.3,998.3 L471.7,998.4 L466.0,998.7 L460.0,999.2 L453.5,1000.2 L446.7,1001.4 L439.8,1002.9 L433.0,1004.5 L426.7,1006.0 L421.0,1007.4 L416.2,1008.7 L412.1,1009.8 L408.4,1011.0 L404.9,1012.2 L401.2,1013.4 L397.0,1014.8 L392.3,1016.4 L387.3,1018.3 L382.1,1020.2 L376.9,1022.0 L371.8,1023.5 L367.0,1024.6 L362.5,1025.4 L358.3,1025.8 L354.1,1026.0 L350.1,1025.9 L346.1,1025.5 L342.0,1024.6 L338.0,1023.3 L334.1,1021.5 L330.3,1019.3 L326.4,1016.9 L322.3,1014.5 L318.0,1012.3 L313.2,1010.2 L307.9,1007.9 L302.5,1005.6 L297.2,1003.4 L292.3,1001.5 L288.0,1000.0 L284.9,999.1 L282.7,998.5 L280.9,998.1 L279.0,998.0 L276.2,997.8 L272.0,997.6 L266.2,997.2 L259.2,996.9 L251.4,996.5 L243.1,996.2 L234.9,996.0 L227.0,995.9 L219.4,996.0 L211.7,996.3 L204.0,996.6 L196.3,997.0 L188.6,997.3 L181.0,997.6 L172.9,997.8 L164.3,997.9 L155.6,998.1 L147.6,998.2 L140.9,998.3 L136.0,998.4 Z" fill="#4673b4" fill-opacity="0.26"/>
<rect x="138.6" y="925.4" width="6.9" height="23.8" fill="#a9bff0"/>
<rect x="139.7" y="925.4" width="4.6" height="23.8" fill="#4169c4"/>
<rect x="145.4" y="949.2" width="6.9" height="28.7" fill="#a9bff0"/>
<rect x="146.5" y="949.2" width="4.6" height="28.7" fill="#4169c4"/>
<rect x="152.2" y="949.2" width="6.9" height="14.8" fill="#a9bff0"/>
<rect x="153.3" y="949.2" width="4.6" height="14.8" fill="#4169c4"/>
<rect x="159.0" y="923.0" width="6.9" height="26.2" fill="#a9bff0"/>
<rect x="160.2" y="923.0" width="4.6" height="26.2" fill="#4169c4"/>
<rect x="165.8" y="930.3" width="6.9" height="18.9" fill="#a9bff0"/>
<rect x="167.0" y="930.3" width="4.6" height="18.9" fill="#4169c4"/>
<rect x="172.7" y="949.2" width="6.9" height="18.9" fill="#a9bff0"/>
<rect x="173.8" y="949.2" width="4.6" height="18.9" fill="#4169c4"/>
<rect x="179.5" y="947.6" width="6.9" height="1.6" fill="#a9bff0"/>
<rect x="180.6" y="947.6" width="4.6" height="1.6" fill="#4169c4"/>
<rect x="186.3" y="949.2" width="6.9" height="7.4" fill="#a9bff0"/>
<rect x="187.4" y="949.2" width="4.6" height="7.4" fill="#4169c4"/>
<rect x="193.1" y="947.6" width="6.9" height="1.6" fill="#a9bff0"/>
<rect x="194.3" y="947.6" width="4.6" height="1.6" fill="#4169c4"/>
<rect x="199.9" y="909.0" width="6.9" height="40.2" fill="#a9bff0"/>
<rect x="201.1" y="909.0" width="4.6" height="40.2" fill="#4169c4"/>
<rect x="206.8" y="936.9" width="6.9" height="12.3" fill="#a9bff0"/>
<rect x="207.9" y="936.9" width="4.6" height="12.3" fill="#4169c4"/>
<rect x="213.6" y="936.9" width="6.9" height="12.3" fill="#a9bff0"/>
<rect x="214.7" y="936.9" width="4.6" height="12.3" fill="#4169c4"/>
<rect x="220.4" y="910.7" width="6.9" height="38.5" fill="#a9bff0"/>
<rect x="221.5" y="910.7" width="4.6" height="38.5" fill="#4169c4"/>
<rect x="227.2" y="932.8" width="6.9" height="16.4" fill="#a9bff0"/>
<rect x="228.4" y="932.8" width="4.6" height="16.4" fill="#4169c4"/>
<rect x="234.0" y="904.1" width="6.9" height="45.1" fill="#a9bff0"/>
<rect x="235.2" y="904.1" width="4.6" height="45.1" fill="#4169c4"/>
<rect x="240.9" y="946.7" width="6.9" height="2.5" fill="#a9bff0"/>
<rect x="242.0" y="946.7" width="4.6" height="2.5" fill="#4169c4"/>
<rect x="247.7" y="935.3" width="6.9" height="13.9" fill="#a9bff0"/>
<rect x="248.8" y="935.3" width="4.6" height="13.9" fill="#4169c4"/>
<rect x="254.5" y="941.0" width="6.9" height="8.2" fill="#a9bff0"/>
<rect x="255.6" y="941.0" width="4.6" height="8.2" fill="#4169c4"/>
<rect x="261.3" y="936.9" width="6.9" height="12.3" fill="#a9bff0"/>
<rect x="262.5" y="936.9" width="4.6" height="12.3" fill="#4169c4"/>
<rect x="268.1" y="949.2" width="6.9" height="45.9" fill="#a9bff0"/>
<rect x="269.3" y="949.2" width="4.6" height="45.9" fill="#4169c4"/>
<rect x="274.9" y="939.4" width="6.9" height="9.8" fill="#a9bff0"/>
<rect x="276.1" y="939.4" width="4.6" height="9.8" fill="#4169c4"/>
<rect x="281.8" y="949.2" width="6.9" height="12.3" fill="#a9bff0"/>
<rect x="282.9" y="949.2" width="4.6" height="12.3" fill="#4169c4"/>
<rect x="288.6" y="949.2" width="6.9" height="16.4" fill="#a9bff0"/>
<rect x="289.7" y="949.2" width="4.6" height="16.4" fill="#4169c4"/>
<rect x="295.4" y="949.2" width="6.9" height="50.0" fill="#a9bff0"/>
<rect x="296.6" y="949.2" width="4.6" height="50.0" fill="#4169c4"/>
<rect x="302.2" y="949.2" width="6.9" height="82.8" fill="#a9bff0"/>
<rect x="303.4" y="949.2" width="4.6" height="82.8" fill="#4169c4"/>
<rect x="309.1" y="949.2" width="6.9" height="61.5" fill="#a9bff0"/>
<rect x="310.2" y="949.2" width="4.6" height="61.5" fill="#4169c4"/>
<rect x="315.9" y="949.2" width="6.9" height="59.0" fill="#a9bff0"/>
<rect x="317.0" y="949.2" width="4.6" height="59.0" fill="#4169c4"/>
<rect x="322.7" y="949.2" width="6.9" height="59.0" fill="#a9bff0"/>
<rect x="323.8" y="949.2" width="4.6" height="59.0" fill="#4169c4"/>
<rect x="329.5" y="949.2" width="6.9" height="49.2" fill="#a9bff0"/>
<rect x="330.7" y="949.2" width="4.6" height="49.2" fill="#4169c4"/>
<rect x="336.3" y="949.2" width="6.9" height="19.7" fill="#a9bff0"/>
<rect x="337.5" y="949.2" width="4.6" height="19.7" fill="#4169c4"/>
<rect x="343.2" y="949.2" width="6.9" height="28.7" fill="#a9bff0"/>
<rect x="344.3" y="949.2" width="4.6" height="28.7" fill="#4169c4"/>
<rect x="350.0" y="949.2" width="6.9" height="42.6" fill="#a9bff0"/>
<rect x="351.1" y="949.2" width="4.6" height="42.6" fill="#4169c4"/>
<rect x="356.8" y="949.2" width="6.9" height="3.3" fill="#a9bff0"/>
<rect x="357.9" y="949.2" width="4.6" height="3.3" fill="#4169c4"/>
<rect x="363.6" y="949.2" width="6.9" height="23.8" fill="#a9bff0"/>
<rect x="364.8" y="949.2" width="4.6" height="23.8" fill="#4169c4"/>
<rect x="370.4" y="949.2" width="6.9" height="21.3" fill="#a9bff0"/>
<rect x="371.6" y="949.2" width="4.6" height="21.3" fill="#4169c4"/>
<rect x="377.3" y="949.2" width="6.9" height="49.2" fill="#a9bff0"/>
<rect x="378.4" y="949.2" width="4.6" height="49.2" fill="#4169c4"/>
<rect x="384.1" y="949.2" width="6.9" height="89.4" fill="#a9bff0"/>
<rect x="385.2" y="949.2" width="4.6" height="89.4" fill="#4169c4"/>
<rect x="390.9" y="949.2" width="6.9" height="9.8" fill="#a9bff0"/>
<rect x="392.0" y="949.2" width="4.6" height="9.8" fill="#4169c4"/>
<rect x="397.7" y="949.2" width="6.9" height="2.5" fill="#a9bff0"/>
<rect x="398.9" y="949.2" width="4.6" height="2.5" fill="#4169c4"/>
<rect x="404.5" y="949.2" width="6.9" height="28.7" fill="#a9bff0"/>
<rect x="405.7" y="949.2" width="4.6" height="28.7" fill="#4169c4"/>
<rect x="411.4" y="949.2" width="6.9" height="40.2" fill="#a9bff0"/>
<rect x="412.5" y="949.2" width="4.6" height="40.2" fill="#4169c4"/>
<rect x="418.2" y="949.2" width="6.9" height="40.2" fill="#a9bff0"/>
<rect x="419.3" y="949.2" width="4.6" height="40.2" fill="#4169c4"/>
<rect x="425.0" y="949.2" width="6.9" height="27.9" fill="#a9bff0"/>
<rect x="426.1" y="949.2" width="4.6" height="27.9" fill="#4169c4"/>
<rect x="431.8" y="949.2" width="6.9" height="26.2" fill="#a9bff0"/>
<rect x="433.0" y="949.2" width="4.6" height="26.2" fill="#4169c4"/>
<rect x="438.6" y="921.3" width="6.9" height="27.9" fill="#a9bff0"/>
<rect x="439.8" y="921.3" width="4.6" height="27.9" fill="#4169c4"/>
<rect x="445.5" y="932.8" width="6.9" height="16.4" fill="#a9bff0"/>
<rect x="446.6" y="932.8" width="4.6" height="16.4" fill="#4169c4"/>
<rect x="452.3" y="949.2" width="6.9" height="5.7" fill="#a9bff0"/>
<rect x="453.4" y="949.2" width="4.6" height="5.7" fill="#4169c4"/>
<rect x="459.1" y="943.5" width="6.9" height="5.7" fill="#a9bff0"/>
<rect x="460.2" y="943.5" width="4.6" height="5.7" fill="#4169c4"/>
<rect x="465.9" y="941.0" width="6.9" height="8.2" fill="#a9bff0"/>
<rect x="467.1" y="941.0" width="4.6" height="8.2" fill="#4169c4"/>
<rect x="472.7" y="925.4" width="6.9" height="23.8" fill="#a9bff0"/>
<rect x="473.9" y="925.4" width="4.6" height="23.8" fill="#4169c4"/>
<rect x="479.6" y="923.0" width="6.9" height="26.2" fill="#a9bff0"/>
<rect x="480.7" y="923.0" width="4.6" height="26.2" fill="#4169c4"/>
<rect x="486.4" y="902.5" width="6.9" height="46.7" fill="#a9bff0"/>
<rect x="487.5" y="902.5" width="4.6" height="46.7" fill="#4169c4"/>
<rect x="493.2" y="949.2" width="6.9" height="50.0" fill="#a9bff0"/>
<rect x="494.3" y="949.2" width="4.6" height="50.0" fill="#4169c4"/>
<rect x="500.0" y="932.0" width="6.9" height="17.2" fill="#a9bff0"/>
<rect x="501.2" y="932.0" width="4.6" height="17.2" fill="#4169c4"/>
<rect x="506.8" y="927.1" width="6.9" height="22.1" fill="#a9bff0"/>
<rect x="508.0" y="927.1" width="4.6" height="22.1" fill="#4169c4"/>
<rect x="513.6" y="906.6" width="6.9" height="42.6" fill="#a9bff0"/>
<rect x="514.8" y="906.6" width="4.6" height="42.6" fill="#4169c4"/>
<rect x="520.5" y="933.6" width="6.9" height="15.6" fill="#a9bff0"/>
<rect x="521.6" y="933.6" width="4.6" height="15.6" fill="#4169c4"/>
<rect x="527.3" y="891.0" width="6.9" height="58.2" fill="#a9bff0"/>
<rect x="528.4" y="891.0" width="4.6" height="58.2" fill="#4169c4"/>
<rect x="534.1" y="945.1" width="6.9" height="4.1" fill="#a9bff0"/>
<rect x="535.3" y="945.1" width="4.6" height="4.1" fill="#4169c4"/>
<rect x="540.9" y="949.2" width="6.9" height="8.2" fill="#a9bff0"/>
<rect x="542.1" y="949.2" width="4.6" height="8.2" fill="#4169c4"/>
<rect x="547.8" y="933.6" width="6.9" height="15.6" fill="#a9bff0"/>
<rect x="548.9" y="933.6" width="4.6" height="15.6" fill="#4169c4"/>
<rect x="554.6" y="949.2" width="6.9" height="41.8" fill="#a9bff0"/>
<rect x="555.7" y="949.2" width="4.6" height="41.8" fill="#4169c4"/>
<rect x="561.4" y="936.9" width="6.9" height="12.3" fill="#a9bff0"/>
<rect x="562.5" y="936.9" width="4.6" height="12.3" fill="#4169c4"/>
<rect x="568.2" y="924.6" width="6.9" height="24.6" fill="#a9bff0"/>
<rect x="569.4" y="924.6" width="4.6" height="24.6" fill="#4169c4"/>
<rect x="575.0" y="881.1" width="6.9" height="68.1" fill="#a9bff0"/>
<rect x="576.2" y="881.1" width="4.6" height="68.1" fill="#4169c4"/>
<rect x="581.8" y="929.5" width="6.9" height="19.7" fill="#a9bff0"/>
<rect x="583.0" y="929.5" width="4.6" height="19.7" fill="#4169c4"/>
<rect x="588.7" y="949.2" width="6.9" height="2.5" fill="#a9bff0"/>
<rect x="589.8" y="949.2" width="4.6" height="2.5" fill="#4169c4"/>
<rect x="595.5" y="898.4" width="6.9" height="50.8" fill="#a9bff0"/>
<rect x="596.6" y="898.4" width="4.6" height="50.8" fill="#4169c4"/>
<rect x="602.3" y="864.7" width="6.9" height="84.5" fill="#a9bff0"/>
<rect x="603.5" y="864.7" width="4.6" height="84.5" fill="#4169c4"/>
<rect x="609.1" y="876.2" width="6.9" height="73.0" fill="#a9bff0"/>
<rect x="610.3" y="876.2" width="4.6" height="73.0" fill="#4169c4"/>
<rect x="616.0" y="857.4" width="6.9" height="91.8" fill="#a9bff0"/>
<rect x="617.1" y="857.4" width="4.6" height="91.8" fill="#4169c4"/>
<rect x="622.8" y="874.6" width="6.9" height="74.6" fill="#a9bff0"/>
<rect x="623.9" y="874.6" width="4.6" height="74.6" fill="#4169c4"/>
<rect x="629.6" y="915.6" width="6.9" height="33.6" fill="#a9bff0"/>
<rect x="630.7" y="915.6" width="4.6" height="33.6" fill="#4169c4"/>
<rect x="636.4" y="872.1" width="6.9" height="77.1" fill="#a9bff0"/>
<rect x="637.6" y="872.1" width="4.6" height="77.1" fill="#4169c4"/>
<rect x="643.2" y="893.4" width="6.9" height="55.8" fill="#a9bff0"/>
<rect x="644.4" y="893.4" width="4.6" height="55.8" fill="#4169c4"/>
<rect x="650.0" y="878.7" width="6.9" height="70.5" fill="#a9bff0"/>
<rect x="651.2" y="878.7" width="4.6" height="70.5" fill="#4169c4"/>
<rect x="656.9" y="917.2" width="6.9" height="32.0" fill="#a9bff0"/>
<rect x="658.0" y="917.2" width="4.6" height="32.0" fill="#4169c4"/>
<rect x="663.7" y="945.1" width="6.9" height="4.1" fill="#a9bff0"/>
<rect x="664.8" y="945.1" width="4.6" height="4.1" fill="#4169c4"/>
<rect x="670.5" y="932.8" width="6.9" height="16.4" fill="#a9bff0"/>
<rect x="671.7" y="932.8" width="4.6" height="16.4" fill="#4169c4"/>
<rect x="677.3" y="938.5" width="6.9" height="10.7" fill="#a9bff0"/>
<rect x="678.5" y="938.5" width="4.6" height="10.7" fill="#4169c4"/>
<rect x="684.2" y="936.1" width="6.9" height="13.1" fill="#a9bff0"/>
<rect x="685.3" y="936.1" width="4.6" height="13.1" fill="#4169c4"/>
<rect x="691.0" y="918.9" width="6.9" height="30.3" fill="#a9bff0"/>
<rect x="692.1" y="918.9" width="4.6" height="30.3" fill="#4169c4"/>
<rect x="697.8" y="832.8" width="6.9" height="116.4" fill="#a9bff0"/>
<rect x="698.9" y="832.8" width="4.6" height="116.4" fill="#4169c4"/>
<rect x="704.6" y="900.8" width="6.9" height="48.4" fill="#a9bff0"/>
<rect x="705.8" y="900.8" width="4.6" height="48.4" fill="#4169c4"/>
<rect x="711.4" y="933.6" width="6.9" height="15.6" fill="#a9bff0"/>
<rect x="712.6" y="933.6" width="4.6" height="15.6" fill="#4169c4"/>
<rect x="718.2" y="882.0" width="6.9" height="67.2" fill="#a9bff0"/>
<rect x="719.4" y="882.0" width="4.6" height="67.2" fill="#4169c4"/>
<rect x="725.1" y="949.2" width="6.9" height="2.5" fill="#a9bff0"/>
<rect x="726.2" y="949.2" width="4.6" height="2.5" fill="#4169c4"/>
<rect x="731.9" y="922.1" width="6.9" height="27.1" fill="#a9bff0"/>
<rect x="733.0" y="922.1" width="4.6" height="27.1" fill="#4169c4"/>
<rect x="738.7" y="949.2" width="6.9" height="18.0" fill="#a9bff0"/>
<rect x="739.9" y="949.2" width="4.6" height="18.0" fill="#4169c4"/>
<rect x="745.5" y="893.4" width="6.9" height="55.8" fill="#a9bff0"/>
<rect x="746.7" y="893.4" width="4.6" height="55.8" fill="#4169c4"/>
<rect x="752.3" y="923.0" width="6.9" height="26.2" fill="#a9bff0"/>
<rect x="753.5" y="923.0" width="4.6" height="26.2" fill="#4169c4"/>
<rect x="759.2" y="891.0" width="6.9" height="58.2" fill="#a9bff0"/>
<rect x="760.3" y="891.0" width="4.6" height="58.2" fill="#4169c4"/>
<rect x="766.0" y="916.4" width="6.9" height="32.8" fill="#a9bff0"/>
<rect x="767.1" y="916.4" width="4.6" height="32.8" fill="#4169c4"/>
<rect x="772.8" y="891.0" width="6.9" height="58.2" fill="#a9bff0"/>
<rect x="774.0" y="891.0" width="4.6" height="58.2" fill="#4169c4"/>
<rect x="779.6" y="886.9" width="6.9" height="62.3" fill="#a9bff0"/>
<rect x="780.8" y="886.9" width="4.6" height="62.3" fill="#4169c4"/>
<rect x="786.5" y="945.1" width="6.9" height="4.1" fill="#a9bff0"/>
<rect x="787.6" y="945.1" width="4.6" height="4.1" fill="#4169c4"/>
<rect x="793.3" y="906.6" width="6.9" height="42.6" fill="#a9bff0"/>
<rect x="794.4" y="906.6" width="4.6" height="42.6" fill="#4169c4"/>
<rect x="800.1" y="904.9" width="6.9" height="44.3" fill="#a9bff0"/>
<rect x="801.2" y="904.9" width="4.6" height="44.3" fill="#4169c4"/>
<rect x="806.9" y="902.5" width="6.9" height="46.7" fill="#a9bff0"/>
<rect x="808.1" y="902.5" width="4.6" height="46.7" fill="#4169c4"/>
<rect x="813.7" y="918.0" width="6.9" height="31.2" fill="#a9bff0"/>
<rect x="814.9" y="918.0" width="4.6" height="31.2" fill="#4169c4"/>
<rect x="820.5" y="886.9" width="6.9" height="62.3" fill="#a9bff0"/>
<rect x="821.7" y="886.9" width="4.6" height="62.3" fill="#4169c4"/>
<rect x="827.4" y="902.5" width="6.9" height="46.7" fill="#a9bff0"/>
<rect x="828.5" y="902.5" width="4.6" height="46.7" fill="#4169c4"/>
<rect x="834.2" y="884.4" width="6.9" height="64.8" fill="#a9bff0"/>
<rect x="835.3" y="884.4" width="4.6" height="64.8" fill="#4169c4"/>
<rect x="841.0" y="908.2" width="6.9" height="41.0" fill="#a9bff0"/>
<rect x="842.2" y="908.2" width="4.6" height="41.0" fill="#4169c4"/>
<rect x="847.8" y="899.2" width="6.9" height="50.0" fill="#a9bff0"/>
<rect x="849.0" y="899.2" width="4.6" height="50.0" fill="#4169c4"/>
<rect x="854.7" y="905.7" width="6.9" height="43.5" fill="#a9bff0"/>
<rect x="855.8" y="905.7" width="4.6" height="43.5" fill="#4169c4"/>
<rect x="861.5" y="889.3" width="6.9" height="59.9" fill="#a9bff0"/>
<rect x="862.6" y="889.3" width="4.6" height="59.9" fill="#4169c4"/>
<rect x="868.3" y="833.6" width="6.9" height="115.6" fill="#a9bff0"/>
<rect x="869.4" y="833.6" width="4.6" height="115.6" fill="#4169c4"/>
<rect x="875.1" y="915.6" width="6.9" height="33.6" fill="#a9bff0"/>
<rect x="876.3" y="915.6" width="4.6" height="33.6" fill="#4169c4"/>
<rect x="881.9" y="862.3" width="6.9" height="86.9" fill="#a9bff0"/>
<rect x="883.1" y="862.3" width="4.6" height="86.9" fill="#4169c4"/>
<rect x="888.8" y="864.7" width="6.9" height="84.5" fill="#a9bff0"/>
<rect x="889.9" y="864.7" width="4.6" height="84.5" fill="#4169c4"/>
<rect x="895.6" y="903.3" width="6.9" height="45.9" fill="#a9bff0"/>
<rect x="896.7" y="903.3" width="4.6" height="45.9" fill="#4169c4"/>
<rect x="902.4" y="862.3" width="6.9" height="86.9" fill="#a9bff0"/>
<rect x="903.5" y="862.3" width="4.6" height="86.9" fill="#4169c4"/>
<rect x="909.2" y="868.8" width="6.9" height="80.4" fill="#a9bff0"/>
<rect x="910.4" y="868.8" width="4.6" height="80.4" fill="#4169c4"/>
<rect x="916.0" y="909.0" width="6.9" height="40.2" fill="#a9bff0"/>
<rect x="917.2" y="909.0" width="4.6" height="40.2" fill="#4169c4"/>
<rect x="922.8" y="863.9" width="6.9" height="85.3" fill="#a9bff0"/>
<rect x="924.0" y="863.9" width="4.6" height="85.3" fill="#4169c4"/>
<rect x="929.7" y="839.3" width="6.9" height="109.9" fill="#a9bff0"/>
<rect x="930.8" y="839.3" width="4.6" height="109.9" fill="#4169c4"/>
<rect x="936.5" y="890.2" width="6.9" height="59.0" fill="#a9bff0"/>
<rect x="937.6" y="890.2" width="4.6" height="59.0" fill="#4169c4"/>
<rect x="943.3" y="891.8" width="6.9" height="57.4" fill="#a9bff0"/>
<rect x="944.5" y="891.8" width="4.6" height="57.4" fill="#4169c4"/>
<rect x="950.1" y="897.5" width="6.9" height="51.7" fill="#a9bff0"/>
<rect x="951.3" y="897.5" width="4.6" height="51.7" fill="#4169c4"/>
<rect x="957.0" y="897.5" width="6.9" height="51.7" fill="#a9bff0"/>
<rect x="958.1" y="897.5" width="4.6" height="51.7" fill="#4169c4"/>
<rect x="963.8" y="938.5" width="6.9" height="10.7" fill="#a9bff0"/>
<rect x="964.9" y="938.5" width="4.6" height="10.7" fill="#4169c4"/>
<rect x="970.6" y="873.8" width="6.9" height="75.4" fill="#a9bff0"/>
<rect x="971.7" y="873.8" width="4.6" height="75.4" fill="#4169c4"/>
<rect x="977.4" y="889.3" width="6.9" height="59.9" fill="#a9bff0"/>
<rect x="978.6" y="889.3" width="4.6" height="59.9" fill="#4169c4"/>
<rect x="984.2" y="871.3" width="6.9" height="77.9" fill="#a9bff0"/>
<rect x="985.4" y="871.3" width="4.6" height="77.9" fill="#4169c4"/>
<rect x="991.0" y="845.1" width="6.9" height="104.1" fill="#a9bff0"/>
<rect x="992.2" y="845.1" width="4.6" height="104.1" fill="#4169c4"/>
<rect x="997.9" y="841.8" width="6.9" height="107.4" fill="#a9bff0"/>
<rect x="999.0" y="841.8" width="4.6" height="107.4" fill="#4169c4"/>
<rect x="1004.7" y="837.7" width="6.9" height="111.5" fill="#a9bff0"/>
<rect x="1005.8" y="837.7" width="4.6" height="111.5" fill="#4169c4"/>
<rect x="1011.5" y="827.8" width="6.9" height="121.4" fill="#a9bff0"/>
<rect x="1012.7" y="827.8" width="4.6" height="121.4" fill="#4169c4"/>
<rect x="1018.3" y="798.3" width="6.9" height="150.9" fill="#a9bff0"/>
<rect x="1019.5" y="798.3" width="4.6" height="150.9" fill="#4169c4"/>
<rect x="1025.2" y="876.2" width="6.9" height="73.0" fill="#a9bff0"/>
<rect x="1026.3" y="876.2" width="4.6" height="73.0" fill="#4169c4"/>
<rect x="1032.0" y="839.3" width="6.9" height="109.9" fill="#a9bff0"/>
<rect x="1033.1" y="839.3" width="4.6" height="109.9" fill="#4169c4"/>
<rect x="1038.8" y="846.7" width="6.9" height="102.5" fill="#a9bff0"/>
<rect x="1039.9" y="846.7" width="4.6" height="102.5" fill="#4169c4"/>
<rect x="1045.6" y="909.0" width="6.9" height="40.2" fill="#a9bff0"/>
<rect x="1046.8" y="909.0" width="4.6" height="40.2" fill="#4169c4"/>
<rect x="1052.4" y="883.6" width="6.9" height="65.6" fill="#a9bff0"/>
<rect x="1053.6" y="883.6" width="4.6" height="65.6" fill="#4169c4"/>
<rect x="1059.2" y="902.5" width="6.9" height="46.7" fill="#a9bff0"/>
<rect x="1060.4" y="902.5" width="4.6" height="46.7" fill="#4169c4"/>
<rect x="1066.1" y="868.8" width="6.9" height="80.4" fill="#a9bff0"/>
<rect x="1067.2" y="868.8" width="4.6" height="80.4" fill="#4169c4"/>
<rect x="1072.9" y="918.0" width="6.9" height="31.2" fill="#a9bff0"/>
<rect x="1074.0" y="918.0" width="4.6" height="31.2" fill="#4169c4"/>
<rect x="1079.7" y="861.5" width="6.9" height="87.7" fill="#a9bff0"/>
<rect x="1080.9" y="861.5" width="4.6" height="87.7" fill="#4169c4"/>
<rect x="1086.5" y="921.3" width="6.9" height="27.9" fill="#a9bff0"/>
<rect x="1087.7" y="921.3" width="4.6" height="27.9" fill="#4169c4"/>
<rect x="1093.3" y="868.8" width="6.9" height="80.4" fill="#a9bff0"/>
<rect x="1094.5" y="868.8" width="4.6" height="80.4" fill="#4169c4"/>
<rect x="1100.2" y="893.4" width="6.9" height="55.8" fill="#a9bff0"/>
<rect x="1101.3" y="893.4" width="4.6" height="55.8" fill="#4169c4"/>
<rect x="1107.0" y="845.1" width="6.9" height="104.1" fill="#a9bff0"/>
<rect x="1108.1" y="845.1" width="4.6" height="104.1" fill="#4169c4"/>
<rect x="1113.8" y="932.0" width="6.9" height="17.2" fill="#a9bff0"/>
<rect x="1115.0" y="932.0" width="4.6" height="17.2" fill="#4169c4"/>
<rect x="1120.6" y="911.5" width="6.9" height="37.7" fill="#a9bff0"/>
<rect x="1121.8" y="911.5" width="4.6" height="37.7" fill="#4169c4"/>
<rect x="1127.5" y="894.3" width="6.9" height="54.9" fill="#a9bff0"/>
<rect x="1128.6" y="894.3" width="4.6" height="54.9" fill="#4169c4"/>
<rect x="1134.3" y="856.5" width="6.9" height="92.7" fill="#a9bff0"/>
<rect x="1135.4" y="856.5" width="4.6" height="92.7" fill="#4169c4"/>
<rect x="1141.1" y="903.3" width="6.9" height="45.9" fill="#a9bff0"/>
<rect x="1142.2" y="903.3" width="4.6" height="45.9" fill="#4169c4"/>
<rect x="1147.9" y="896.7" width="6.9" height="52.5" fill="#a9bff0"/>
<rect x="1149.1" y="896.7" width="4.6" height="52.5" fill="#4169c4"/>
<rect x="1154.7" y="872.9" width="6.9" height="76.3" fill="#a9bff0"/>
<rect x="1155.9" y="872.9" width="4.6" height="76.3" fill="#4169c4"/>
<rect x="1161.5" y="890.2" width="6.9" height="59.0" fill="#a9bff0"/>
<rect x="1162.7" y="890.2" width="4.6" height="59.0" fill="#4169c4"/>
<rect x="1168.4" y="863.9" width="6.9" height="85.3" fill="#a9bff0"/>
<rect x="1169.5" y="863.9" width="4.6" height="85.3" fill="#4169c4"/>
<line x1="134.0" y1="949.2" x2="1202.0" y2="949.2" stroke="#000" stroke-width="3"/>
<line x1="490.9" y1="785.2" x2="490.9" y2="1113.2" stroke="#000" stroke-width="4.2"/>
<line x1="845.9" y1="785.2" x2="845.9" y2="1113.2" stroke="#000" stroke-width="4.2"/>
<line x1="134.0" y1="785.2" x2="134.0" y2="1113.2" stroke="#000" stroke-width="4.5"/>
<line x1="1202.0" y1="785.2" x2="1202.0" y2="1113.2" stroke="#000" stroke-width="4.5"/>
<path d="M169.3,948.9 L176.1,947.1 L182.9,942.5 L189.7,939.5 L196.6,938.2 L203.4,938.4 L210.2,931.3 L217.0,931.3 L223.8,928.9 L230.7,928.2 L237.5,931.3 L244.3,937.7 L251.1,938.0 L257.9,943.6 L264.8,947.3 L271.6,957.9 L278.4,967.3 L285.2,975.7 L292.0,983.2 L298.9,991.1 L305.7,991.5 L312.5,994.8 L319.3,996.6 L326.1,999.5 L333.0,994.3 L339.8,987.7 L346.6,983.3 L353.4,982.2 L360.2,985.6 L367.1,981.2 L373.9,979.3 L380.7,979.3 L387.5,979.0 L394.3,983.1 L401.2,983.5 L408.0,984.1 L414.8,975.5 L421.6,963.8 L428.4,963.3 L435.3,962.4 L442.1,958.3 L448.9,951.2 L455.7,943.8 L462.5,935.5 L469.4,938.2 L476.2,939.4 L483.0,938.7 L489.8,933.3 L496.6,932.3 L503.5,926.7 L510.3,928.9 L517.1,932.7 L523.9,936.2 L530.7,935.3 L537.6,935.8 L544.4,935.5 L551.2,932.7 L558.0,932.3 L564.8,939.0 L571.7,933.8 L578.5,923.5 L585.3,917.1 L592.1,902.3 L598.9,895.4 L605.8,894.4 L612.6,893.3 L619.4,889.3 L626.2,881.2 L633.0,883.3 L639.9,892.3 L646.7,898.5 L653.5,907.6 L660.3,914.4 L667.1,914.8 L674.0,910.4 L680.8,911.2 L687.6,917.3 L694.4,913.4 L701.2,914.1 L708.1,912.9 L714.9,916.1 L721.7,911.4 L728.5,911.8 L735.3,918.3 L742.2,920.0 L749.0,915.3 L755.8,915.9 L762.6,915.1 L769.4,913.4 L776.3,906.5 L783.1,907.5 L789.9,906.9 L796.7,906.5 L803.5,904.9 L810.4,904.2 L817.2,906.6 L824.0,901.5 L830.8,901.4 L837.6,899.6 L844.5,892.0 L851.3,891.7 L858.1,889.0 L864.9,884.8 L871.7,886.9 L878.6,881.8 L885.4,878.4 L892.2,878.8 L899.0,875.9 L905.8,876.6 L912.7,873.8 L919.5,877.0 L926.3,880.7 L933.1,880.0 L939.9,888.5 L946.8,889.1 L953.6,886.9 L960.4,887.7 L967.2,888.3 L974.0,883.0 L980.9,876.9 L987.7,869.2 L994.5,858.2 L1001.3,851.3 L1008.1,847.4 L1015.0,842.7 L1021.8,846.9 L1028.6,851.2 L1035.4,857.9 L1042.2,861.4 L1049.1,871.4 L1055.9,878.4 L1062.7,883.4 L1069.5,886.7 L1076.3,891.9 L1083.2,884.8 L1090.0,890.2 L1096.8,891.2 L1103.6,894.0 L1110.4,887.2 L1117.3,891.8 L1124.1,889.1 L1130.9,889.5 L1137.7,889.2 L1144.5,891.3" fill="none" stroke="#2b3443" stroke-width="4" stroke-linejoin="round" stroke-linecap="round"/>
<rect x="137.0" y="769.2" width="457.0" height="42.8" fill="#ffffff"/>
<text x="147.5" y="799.0" font-family="Liberation Sans" font-weight="bold" font-size="29" textLength="438.5" lengthAdjust="spacingAndGlyphs" fill="#000">Doctor-certified Other Diseases</text>
<text x="115.5" y="791.5" font-family="Liberation Sans" font-size="20" text-anchor="end" fill="#111" stroke="#111" stroke-width="0.45">200</text>
<text x="115.5" y="873.5" font-family="Liberation Sans" font-size="20" text-anchor="end" fill="#111" stroke="#111" stroke-width="0.45">100</text>
<text x="115.5" y="955.5" font-family="Liberation Sans" font-size="20" text-anchor="end" fill="#111" stroke="#111" stroke-width="0.45">0</text>
<text x="115.5" y="1037.5" font-family="Liberation Sans" font-size="20" text-anchor="end" fill="#111" stroke="#111" stroke-width="0.45">-100</text>
<text x="115.5" y="1119.5" font-family="Liberation Sans" font-size="20" text-anchor="end" fill="#111" stroke="#111" stroke-width="0.45">-200</text>
<text transform="translate(76,949.2) rotate(-90)" x="0" y="0" font-family="Liberation Sans" font-size="24.5" stroke="#111" stroke-width="0.35" text-anchor="middle" textLength="141" lengthAdjust="spacingAndGlyphs" fill="#111">Excess Deaths</text>
<line x1="136.3" y1="1465.0" x2="1204.5" y2="1465.0" stroke="#eaeaea" stroke-width="2"/>
<line x1="136.3" y1="1448.7" x2="1204.5" y2="1448.7" stroke="#eaeaea" stroke-width="2"/>
<line x1="136.3" y1="1432.3" x2="1204.5" y2="1432.3" stroke="#eaeaea" stroke-width="2"/>
<line x1="136.3" y1="1416.0" x2="1204.5" y2="1416.0" stroke="#eaeaea" stroke-width="2"/>
<line x1="136.3" y1="1383.4" x2="1204.5" y2="1383.4" stroke="#eaeaea" stroke-width="2"/>
<line x1="136.3" y1="1367.1" x2="1204.5" y2="1367.1" stroke="#eaeaea" stroke-width="2"/>
<line x1="136.3" y1="1350.7" x2="1204.5" y2="1350.7" stroke="#eaeaea" stroke-width="2"/>
<line x1="136.3" y1="1334.4" x2="1204.5" y2="1334.4" stroke="#eaeaea" stroke-width="2"/>
<line x1="136.3" y1="1301.8" x2="1204.5" y2="1301.8" stroke="#eaeaea" stroke-width="2"/>
<line x1="136.3" y1="1285.5" x2="1204.5" y2="1285.5" stroke="#eaeaea" stroke-width="2"/>
<line x1="136.3" y1="1269.1" x2="1204.5" y2="1269.1" stroke="#eaeaea" stroke-width="2"/>
<line x1="136.3" y1="1252.8" x2="1204.5" y2="1252.8" stroke="#eaeaea" stroke-width="2"/>
<line x1="136.3" y1="1220.2" x2="1204.5" y2="1220.2" stroke="#eaeaea" stroke-width="2"/>
<line x1="136.3" y1="1203.9" x2="1204.5" y2="1203.9" stroke="#eaeaea" stroke-width="2"/>
<line x1="136.3" y1="1187.5" x2="1204.5" y2="1187.5" stroke="#eaeaea" stroke-width="2"/>
<line x1="136.3" y1="1171.2" x2="1204.5" y2="1171.2" stroke="#eaeaea" stroke-width="2"/>
<line x1="136.3" y1="1154.9" x2="1204.5" y2="1154.9" stroke="#bcbcbc" stroke-width="2.2"/>
<line x1="136.3" y1="1236.5" x2="1204.5" y2="1236.5" stroke="#bcbcbc" stroke-width="2.2"/>
<line x1="136.3" y1="1399.7" x2="1204.5" y2="1399.7" stroke="#bcbcbc" stroke-width="2.2"/>
<line x1="136.3" y1="1481.3" x2="1204.5" y2="1481.3" stroke="#bcbcbc" stroke-width="2.2"/>
<line x1="224.5" y1="1154.9" x2="224.5" y2="1481.3" stroke="#d6d6d6" stroke-width="3"/>
<line x1="313.3" y1="1154.9" x2="313.3" y2="1481.3" stroke="#d6d6d6" stroke-width="3"/>
<line x1="402.7" y1="1154.9" x2="402.7" y2="1481.3" stroke="#d6d6d6" stroke-width="3"/>
<line x1="581.0" y1="1154.9" x2="581.0" y2="1481.3" stroke="#d6d6d6" stroke-width="3"/>
<line x1="668.8" y1="1154.9" x2="668.8" y2="1481.3" stroke="#d6d6d6" stroke-width="3"/>
<line x1="760.0" y1="1154.9" x2="760.0" y2="1481.3" stroke="#d6d6d6" stroke-width="3"/>
<line x1="936.7" y1="1154.9" x2="936.7" y2="1481.3" stroke="#d6d6d6" stroke-width="3"/>
<line x1="1025.9" y1="1154.9" x2="1025.9" y2="1481.3" stroke="#d6d6d6" stroke-width="3"/>
<line x1="1115.5" y1="1154.9" x2="1115.5" y2="1481.3" stroke="#d6d6d6" stroke-width="3"/>
<path d="M136.0,1277.3 L139.1,1277.2 L143.2,1277.0 L148.2,1276.8 L153.8,1276.6 L159.8,1276.5 L166.0,1276.5 L172.4,1276.6 L179.3,1276.9 L186.6,1277.2 L194.3,1277.5 L202.4,1277.9 L211.0,1278.1 L220.2,1278.3 L230.0,1278.5 L240.3,1278.6 L250.9,1278.8 L261.5,1278.9 L272.0,1278.9 L282.5,1279.0 L293.1,1279.0 L303.8,1278.9 L314.6,1278.9 L325.3,1278.9 L336.0,1278.9 L346.5,1279.0 L356.9,1279.1 L367.2,1279.3 L377.8,1279.4 L388.6,1279.6 L400.0,1279.7 L412.3,1279.9 L425.4,1280.1 L438.9,1280.2 L452.1,1280.4 L464.7,1280.5 L476.0,1280.6 L485.6,1280.6 L493.7,1280.6 L501.1,1280.6 L508.5,1280.6 L516.6,1280.6 L526.0,1280.6 L536.6,1280.6 L547.9,1280.6 L559.9,1280.7 L572.5,1280.7 L585.9,1280.7 L600.0,1280.6 L615.6,1280.4 L632.9,1280.1 L650.9,1279.8 L668.7,1279.5 L685.3,1279.2 L700.0,1278.9 L712.2,1278.7 L722.6,1278.6 L731.9,1278.5 L740.7,1278.4 L749.9,1278.2 L760.0,1278.1 L771.0,1278.0 L782.4,1277.8 L794.0,1277.6 L805.9,1277.5 L817.9,1277.3 L830.0,1277.3 L842.5,1277.4 L855.3,1277.5 L868.4,1277.7 L881.3,1277.8 L894.0,1278.0 L906.0,1278.1 L917.3,1278.2 L928.0,1278.2 L938.4,1278.2 L948.7,1278.2 L959.1,1278.2 L970.0,1278.1 L981.4,1278.0 L993.3,1277.9 L1005.2,1277.7 L1017.2,1277.5 L1028.8,1277.4 L1040.0,1277.3 L1050.7,1277.3 L1061.1,1277.3 L1071.2,1277.3 L1081.1,1277.3 L1090.7,1277.3 L1100.0,1277.3 L1108.9,1277.2 L1117.3,1277.1 L1125.4,1276.9 L1133.4,1276.8 L1141.6,1276.6 L1150.0,1276.5 L1159.4,1276.3 L1169.7,1276.2 L1180.1,1276.0 L1189.9,1275.9 L1198.1,1275.8 L1204.0,1275.7 L1204.0,1361.3 L1198.1,1361.4 L1189.9,1361.4 L1180.1,1361.4 L1169.7,1361.4 L1159.4,1361.4 L1150.0,1361.3 L1141.6,1361.2 L1133.4,1361.1 L1125.4,1360.9 L1117.3,1360.7 L1108.9,1360.6 L1100.0,1360.5 L1090.7,1360.6 L1081.1,1360.7 L1071.2,1360.9 L1061.1,1361.1 L1050.7,1361.2 L1040.0,1361.3 L1028.8,1361.4 L1017.2,1361.5 L1005.2,1361.6 L993.3,1361.6 L981.4,1361.5 L970.0,1361.3 L959.1,1361.1 L948.7,1360.6 L938.4,1360.1 L928.0,1359.6 L917.3,1359.2 L906.0,1358.9 L894.0,1358.8 L881.3,1358.7 L868.4,1358.7 L855.3,1358.8 L842.5,1358.9 L830.0,1358.9 L817.9,1358.9 L805.9,1359.0 L794.0,1359.0 L782.4,1359.0 L771.0,1359.0 L760.0,1358.9 L749.9,1358.7 L740.7,1358.4 L731.9,1358.1 L722.6,1357.8 L712.2,1357.5 L700.0,1357.3 L685.3,1357.2 L668.7,1357.2 L650.9,1357.2 L632.9,1357.3 L615.6,1357.3 L600.0,1357.3 L585.9,1357.2 L572.5,1357.1 L559.9,1356.9 L547.9,1356.8 L536.6,1356.6 L526.0,1356.5 L516.6,1356.3 L508.5,1356.1 L501.1,1355.9 L493.7,1355.8 L485.6,1355.7 L476.0,1355.6 L464.7,1355.7 L452.1,1355.8 L438.9,1356.0 L425.4,1356.2 L412.3,1356.4 L400.0,1356.5 L388.6,1356.4 L377.8,1356.3 L367.2,1356.2 L356.9,1356.0 L346.5,1355.8 L336.0,1355.6 L325.3,1355.4 L314.6,1355.2 L303.8,1354.9 L293.1,1354.6 L282.5,1354.3 L272.0,1354.0 L261.5,1353.6 L250.9,1353.2 L240.3,1352.8 L230.0,1352.4 L220.2,1352.0 L211.0,1351.6 L202.4,1351.2 L194.3,1350.8 L186.6,1350.5 L179.3,1350.1 L172.4,1349.7 L166.0,1349.1 L159.8,1348.4 L153.8,1347.5 L148.2,1346.5 L143.2,1345.6 L139.1,1344.8 L136.0,1344.2 Z" fill="#4673b4" fill-opacity="0.26"/>
<rect x="138.6" y="1299.3" width="6.9" height="18.8" fill="#a9bff0"/>
<rect x="139.7" y="1299.3" width="4.6" height="18.8" fill="#4169c4"/>
<rect x="145.4" y="1318.1" width="6.9" height="9.8" fill="#a9bff0"/>
<rect x="146.5" y="1318.1" width="4.6" height="9.8" fill="#4169c4"/>
<rect x="152.2" y="1312.4" width="6.9" height="5.7" fill="#a9bff0"/>
<rect x="153.3" y="1312.4" width="4.6" height="5.7" fill="#4169c4"/>
<rect x="159.0" y="1313.2" width="6.9" height="4.9" fill="#a9bff0"/>
<rect x="160.2" y="1313.2" width="4.6" height="4.9" fill="#4169c4"/>
<rect x="165.8" y="1317.3" width="6.9" height="0.8" fill="#a9bff0"/>
<rect x="167.0" y="1317.3" width="4.6" height="0.8" fill="#4169c4"/>
<rect x="172.7" y="1318.1" width="6.9" height="5.7" fill="#a9bff0"/>
<rect x="173.8" y="1318.1" width="4.6" height="5.7" fill="#4169c4"/>
<rect x="179.5" y="1314.0" width="6.9" height="4.1" fill="#a9bff0"/>
<rect x="180.6" y="1314.0" width="4.6" height="4.1" fill="#4169c4"/>
<rect x="186.3" y="1283.0" width="6.9" height="35.1" fill="#a9bff0"/>
<rect x="187.4" y="1283.0" width="4.6" height="35.1" fill="#4169c4"/>
<rect x="193.1" y="1314.0" width="6.9" height="4.1" fill="#a9bff0"/>
<rect x="194.3" y="1314.0" width="4.6" height="4.1" fill="#4169c4"/>
<rect x="199.9" y="1316.5" width="6.9" height="1.6" fill="#a9bff0"/>
<rect x="201.1" y="1316.5" width="4.6" height="1.6" fill="#4169c4"/>
<rect x="206.8" y="1309.1" width="6.9" height="9.0" fill="#a9bff0"/>
<rect x="207.9" y="1309.1" width="4.6" height="9.0" fill="#4169c4"/>
<rect x="213.6" y="1303.4" width="6.9" height="14.7" fill="#a9bff0"/>
<rect x="214.7" y="1303.4" width="4.6" height="14.7" fill="#4169c4"/>
<rect x="220.4" y="1318.1" width="6.9" height="1.6" fill="#a9bff0"/>
<rect x="221.5" y="1318.1" width="4.6" height="1.6" fill="#4169c4"/>
<rect x="221.5" y="1314.0" width="4.6" height="4.1" fill="#e8141c"/>
<rect x="227.2" y="1318.1" width="6.9" height="32.6" fill="#a9bff0"/>
<rect x="228.4" y="1318.1" width="4.6" height="32.6" fill="#4169c4"/>
<rect x="228.4" y="1314.0" width="4.6" height="4.1" fill="#e8141c"/>
<rect x="234.0" y="1318.1" width="6.9" height="31.0" fill="#a9bff0"/>
<rect x="235.2" y="1318.1" width="4.6" height="31.0" fill="#4169c4"/>
<rect x="235.2" y="1313.2" width="4.6" height="4.9" fill="#e8141c"/>
<rect x="240.9" y="1312.4" width="6.9" height="5.7" fill="#a9bff0"/>
<rect x="242.0" y="1312.4" width="4.6" height="5.7" fill="#4169c4"/>
<rect x="242.0" y="1308.3" width="4.6" height="4.1" fill="#e8141c"/>
<rect x="247.7" y="1318.1" width="6.9" height="41.6" fill="#a9bff0"/>
<rect x="248.8" y="1318.1" width="4.6" height="41.6" fill="#4169c4"/>
<rect x="248.8" y="1314.0" width="4.6" height="4.1" fill="#e8141c"/>
<rect x="254.5" y="1318.1" width="6.9" height="18.0" fill="#a9bff0"/>
<rect x="255.6" y="1318.1" width="4.6" height="18.0" fill="#4169c4"/>
<rect x="255.6" y="1314.0" width="4.6" height="4.1" fill="#e8141c"/>
<rect x="261.3" y="1318.1" width="6.9" height="27.7" fill="#a9bff0"/>
<rect x="262.5" y="1318.1" width="4.6" height="27.7" fill="#4169c4"/>
<rect x="268.1" y="1265.1" width="6.9" height="53.0" fill="#a9bff0"/>
<rect x="269.3" y="1265.1" width="4.6" height="53.0" fill="#4169c4"/>
<rect x="274.9" y="1301.0" width="6.9" height="17.1" fill="#a9bff0"/>
<rect x="276.1" y="1301.0" width="4.6" height="17.1" fill="#4169c4"/>
<rect x="281.8" y="1318.1" width="6.9" height="11.4" fill="#a9bff0"/>
<rect x="282.9" y="1318.1" width="4.6" height="11.4" fill="#4169c4"/>
<rect x="288.6" y="1318.1" width="6.9" height="18.8" fill="#a9bff0"/>
<rect x="289.7" y="1318.1" width="4.6" height="18.8" fill="#4169c4"/>
<rect x="295.4" y="1318.1" width="6.9" height="4.1" fill="#a9bff0"/>
<rect x="296.6" y="1318.1" width="4.6" height="4.1" fill="#4169c4"/>
<rect x="302.2" y="1318.1" width="6.9" height="13.9" fill="#a9bff0"/>
<rect x="303.4" y="1318.1" width="4.6" height="13.9" fill="#4169c4"/>
<rect x="309.1" y="1318.1" width="6.9" height="16.3" fill="#a9bff0"/>
<rect x="310.2" y="1318.1" width="4.6" height="16.3" fill="#4169c4"/>
<rect x="315.9" y="1284.6" width="6.9" height="33.5" fill="#a9bff0"/>
<rect x="317.0" y="1284.6" width="4.6" height="33.5" fill="#4169c4"/>
<rect x="322.7" y="1318.1" width="6.9" height="13.9" fill="#a9bff0"/>
<rect x="323.8" y="1318.1" width="4.6" height="13.9" fill="#4169c4"/>
<rect x="329.5" y="1305.9" width="6.9" height="12.2" fill="#a9bff0"/>
<rect x="330.7" y="1305.9" width="4.6" height="12.2" fill="#4169c4"/>
<rect x="330.7" y="1299.3" width="4.6" height="6.5" fill="#e8141c"/>
<rect x="336.3" y="1318.1" width="6.9" height="6.5" fill="#a9bff0"/>
<rect x="337.5" y="1318.1" width="4.6" height="6.5" fill="#4169c4"/>
<rect x="337.5" y="1314.0" width="4.6" height="4.1" fill="#e8141c"/>
<rect x="343.2" y="1318.1" width="6.9" height="17.1" fill="#a9bff0"/>
<rect x="344.3" y="1318.1" width="4.6" height="17.1" fill="#4169c4"/>
<rect x="344.3" y="1314.0" width="4.6" height="4.1" fill="#e8141c"/>
<rect x="350.0" y="1302.6" width="6.9" height="15.5" fill="#a9bff0"/>
<rect x="351.1" y="1302.6" width="4.6" height="15.5" fill="#4169c4"/>
<rect x="351.1" y="1291.2" width="4.6" height="11.4" fill="#e8141c"/>
<rect x="356.8" y="1318.1" width="6.9" height="13.9" fill="#a9bff0"/>
<rect x="357.9" y="1318.1" width="4.6" height="13.9" fill="#4169c4"/>
<rect x="357.9" y="1312.4" width="4.6" height="5.7" fill="#e8141c"/>
<rect x="363.6" y="1318.1" width="6.9" height="4.1" fill="#a9bff0"/>
<rect x="364.8" y="1318.1" width="4.6" height="4.1" fill="#4169c4"/>
<rect x="364.8" y="1314.0" width="4.6" height="4.1" fill="#e8141c"/>
<rect x="370.4" y="1318.1" width="6.9" height="18.0" fill="#a9bff0"/>
<rect x="371.6" y="1318.1" width="4.6" height="18.0" fill="#4169c4"/>
<rect x="371.6" y="1314.0" width="4.6" height="4.1" fill="#e8141c"/>
<rect x="377.3" y="1318.1" width="6.9" height="16.3" fill="#a9bff0"/>
<rect x="378.4" y="1318.1" width="4.6" height="16.3" fill="#4169c4"/>
<rect x="378.4" y="1314.0" width="4.6" height="4.1" fill="#e8141c"/>
<rect x="384.1" y="1318.1" width="6.9" height="4.1" fill="#a9bff0"/>
<rect x="385.2" y="1318.1" width="4.6" height="4.1" fill="#4169c4"/>
<rect x="390.9" y="1318.1" width="6.9" height="9.0" fill="#a9bff0"/>
<rect x="392.0" y="1318.1" width="4.6" height="9.0" fill="#4169c4"/>
<rect x="392.0" y="1314.0" width="4.6" height="4.1" fill="#e8141c"/>
<rect x="397.7" y="1318.1" width="6.9" height="33.5" fill="#a9bff0"/>
<rect x="398.9" y="1318.1" width="4.6" height="33.5" fill="#4169c4"/>
<rect x="404.5" y="1318.1" width="6.9" height="1.6" fill="#a9bff0"/>
<rect x="405.7" y="1318.1" width="4.6" height="1.6" fill="#4169c4"/>
<rect x="411.4" y="1318.1" width="6.9" height="4.1" fill="#a9bff0"/>
<rect x="412.5" y="1318.1" width="4.6" height="4.1" fill="#4169c4"/>
<rect x="418.2" y="1318.1" width="6.9" height="18.0" fill="#a9bff0"/>
<rect x="419.3" y="1318.1" width="4.6" height="18.0" fill="#4169c4"/>
<rect x="425.0" y="1318.1" width="6.9" height="13.9" fill="#a9bff0"/>
<rect x="426.1" y="1318.1" width="4.6" height="13.9" fill="#4169c4"/>
<rect x="431.8" y="1308.3" width="6.9" height="9.8" fill="#a9bff0"/>
<rect x="433.0" y="1308.3" width="4.6" height="9.8" fill="#4169c4"/>
<rect x="438.6" y="1318.1" width="6.9" height="17.1" fill="#a9bff0"/>
<rect x="439.8" y="1318.1" width="4.6" height="17.1" fill="#4169c4"/>
<rect x="445.5" y="1296.9" width="6.9" height="21.2" fill="#a9bff0"/>
<rect x="446.6" y="1296.9" width="4.6" height="21.2" fill="#4169c4"/>
<rect x="452.3" y="1292.0" width="6.9" height="26.1" fill="#a9bff0"/>
<rect x="453.4" y="1292.0" width="4.6" height="26.1" fill="#4169c4"/>
<rect x="459.1" y="1314.0" width="6.9" height="4.1" fill="#a9bff0"/>
<rect x="460.2" y="1314.0" width="4.6" height="4.1" fill="#4169c4"/>
<rect x="465.9" y="1299.3" width="6.9" height="18.8" fill="#a9bff0"/>
<rect x="467.1" y="1299.3" width="4.6" height="18.8" fill="#4169c4"/>
<rect x="472.7" y="1318.1" width="6.9" height="13.9" fill="#a9bff0"/>
<rect x="473.9" y="1318.1" width="4.6" height="13.9" fill="#4169c4"/>
<rect x="479.6" y="1314.0" width="6.9" height="4.1" fill="#a9bff0"/>
<rect x="480.7" y="1314.0" width="4.6" height="4.1" fill="#4169c4"/>
<rect x="486.4" y="1309.9" width="6.9" height="8.2" fill="#a9bff0"/>
<rect x="487.5" y="1309.9" width="4.6" height="8.2" fill="#4169c4"/>
<rect x="493.2" y="1301.0" width="6.9" height="17.1" fill="#a9bff0"/>
<rect x="494.3" y="1301.0" width="4.6" height="17.1" fill="#4169c4"/>
<rect x="500.0" y="1314.0" width="6.9" height="4.1" fill="#a9bff0"/>
<rect x="501.2" y="1314.0" width="4.6" height="4.1" fill="#4169c4"/>
<rect x="506.8" y="1315.7" width="6.9" height="2.4" fill="#a9bff0"/>
<rect x="508.0" y="1315.7" width="4.6" height="2.4" fill="#4169c4"/>
<rect x="513.6" y="1287.1" width="6.9" height="31.0" fill="#a9bff0"/>
<rect x="514.8" y="1287.1" width="4.6" height="31.0" fill="#4169c4"/>
<rect x="520.5" y="1318.1" width="6.9" height="1.6" fill="#a9bff0"/>
<rect x="521.6" y="1318.1" width="4.6" height="1.6" fill="#4169c4"/>
<rect x="527.3" y="1318.1" width="6.9" height="12.2" fill="#a9bff0"/>
<rect x="528.4" y="1318.1" width="4.6" height="12.2" fill="#4169c4"/>
<rect x="534.1" y="1310.8" width="6.9" height="7.3" fill="#a9bff0"/>
<rect x="535.3" y="1310.8" width="4.6" height="7.3" fill="#4169c4"/>
<rect x="540.9" y="1318.1" width="6.9" height="9.0" fill="#a9bff0"/>
<rect x="542.1" y="1318.1" width="4.6" height="9.0" fill="#4169c4"/>
<rect x="547.8" y="1318.1" width="6.9" height="14.7" fill="#a9bff0"/>
<rect x="548.9" y="1318.1" width="4.6" height="14.7" fill="#4169c4"/>
<rect x="554.6" y="1294.4" width="6.9" height="23.7" fill="#a9bff0"/>
<rect x="555.7" y="1294.4" width="4.6" height="23.7" fill="#4169c4"/>
<rect x="561.4" y="1313.2" width="6.9" height="4.9" fill="#a9bff0"/>
<rect x="562.5" y="1313.2" width="4.6" height="4.9" fill="#4169c4"/>
<rect x="568.2" y="1310.8" width="6.9" height="7.3" fill="#a9bff0"/>
<rect x="569.4" y="1310.8" width="4.6" height="7.3" fill="#4169c4"/>
<rect x="575.0" y="1318.1" width="6.9" height="17.1" fill="#a9bff0"/>
<rect x="576.2" y="1318.1" width="4.6" height="17.1" fill="#4169c4"/>
<rect x="581.8" y="1299.3" width="6.9" height="18.8" fill="#a9bff0"/>
<rect x="583.0" y="1299.3" width="4.6" height="18.8" fill="#4169c4"/>
<rect x="588.7" y="1318.1" width="6.9" height="22.0" fill="#a9bff0"/>
<rect x="589.8" y="1318.1" width="4.6" height="22.0" fill="#4169c4"/>
<rect x="595.5" y="1314.0" width="6.9" height="4.1" fill="#a9bff0"/>
<rect x="596.6" y="1314.0" width="4.6" height="4.1" fill="#4169c4"/>
<rect x="602.3" y="1304.2" width="6.9" height="13.9" fill="#a9bff0"/>
<rect x="603.5" y="1304.2" width="4.6" height="13.9" fill="#4169c4"/>
<rect x="609.1" y="1285.5" width="6.9" height="32.6" fill="#a9bff0"/>
<rect x="610.3" y="1285.5" width="4.6" height="32.6" fill="#4169c4"/>
<rect x="616.0" y="1318.1" width="6.9" height="7.3" fill="#a9bff0"/>
<rect x="617.1" y="1318.1" width="4.6" height="7.3" fill="#4169c4"/>
<rect x="622.8" y="1283.0" width="6.9" height="35.1" fill="#a9bff0"/>
<rect x="623.9" y="1283.0" width="4.6" height="35.1" fill="#4169c4"/>
<rect x="629.6" y="1301.8" width="6.9" height="16.3" fill="#a9bff0"/>
<rect x="630.7" y="1301.8" width="4.6" height="16.3" fill="#4169c4"/>
<rect x="636.4" y="1288.7" width="6.9" height="29.4" fill="#a9bff0"/>
<rect x="637.6" y="1288.7" width="4.6" height="29.4" fill="#4169c4"/>
<rect x="643.2" y="1291.2" width="6.9" height="26.9" fill="#a9bff0"/>
<rect x="644.4" y="1291.2" width="4.6" height="26.9" fill="#4169c4"/>
<rect x="650.0" y="1287.1" width="6.9" height="31.0" fill="#a9bff0"/>
<rect x="651.2" y="1287.1" width="4.6" height="31.0" fill="#4169c4"/>
<rect x="656.9" y="1278.9" width="6.9" height="39.2" fill="#a9bff0"/>
<rect x="658.0" y="1278.9" width="4.6" height="39.2" fill="#4169c4"/>
<rect x="663.7" y="1269.1" width="6.9" height="49.0" fill="#a9bff0"/>
<rect x="664.8" y="1269.1" width="4.6" height="49.0" fill="#4169c4"/>
<rect x="670.5" y="1290.4" width="6.9" height="27.7" fill="#a9bff0"/>
<rect x="671.7" y="1290.4" width="4.6" height="27.7" fill="#4169c4"/>
<rect x="677.3" y="1281.4" width="6.9" height="36.7" fill="#a9bff0"/>
<rect x="678.5" y="1281.4" width="4.6" height="36.7" fill="#4169c4"/>
<rect x="684.2" y="1292.8" width="6.9" height="25.3" fill="#a9bff0"/>
<rect x="685.3" y="1292.8" width="4.6" height="25.3" fill="#4169c4"/>
<rect x="691.0" y="1300.1" width="6.9" height="18.0" fill="#a9bff0"/>
<rect x="692.1" y="1300.1" width="4.6" height="18.0" fill="#4169c4"/>
<rect x="697.8" y="1318.1" width="6.9" height="0.0" fill="#a9bff0"/>
<rect x="698.9" y="1318.1" width="4.6" height="0.0" fill="#4169c4"/>
<rect x="704.6" y="1318.1" width="6.9" height="1.6" fill="#a9bff0"/>
<rect x="705.8" y="1318.1" width="4.6" height="1.6" fill="#4169c4"/>
<rect x="705.8" y="1314.0" width="4.6" height="4.1" fill="#e8141c"/>
<rect x="711.4" y="1318.1" width="6.9" height="8.2" fill="#a9bff0"/>
<rect x="712.6" y="1318.1" width="4.6" height="8.2" fill="#4169c4"/>
<rect x="712.6" y="1314.0" width="4.6" height="4.1" fill="#e8141c"/>
<rect x="718.2" y="1318.1" width="6.9" height="13.9" fill="#a9bff0"/>
<rect x="719.4" y="1318.1" width="4.6" height="13.9" fill="#4169c4"/>
<rect x="719.4" y="1314.0" width="4.6" height="4.1" fill="#e8141c"/>
<rect x="725.1" y="1318.1" width="6.9" height="42.4" fill="#a9bff0"/>
<rect x="726.2" y="1318.1" width="4.6" height="42.4" fill="#4169c4"/>
<rect x="726.2" y="1314.0" width="4.6" height="4.1" fill="#e8141c"/>
<rect x="731.9" y="1318.1" width="6.9" height="30.2" fill="#a9bff0"/>
<rect x="733.0" y="1318.1" width="4.6" height="30.2" fill="#4169c4"/>
<rect x="733.0" y="1313.2" width="4.6" height="4.9" fill="#e8141c"/>
<rect x="738.7" y="1302.6" width="6.9" height="15.5" fill="#a9bff0"/>
<rect x="739.9" y="1302.6" width="4.6" height="15.5" fill="#4169c4"/>
<rect x="739.9" y="1296.9" width="4.6" height="5.7" fill="#e8141c"/>
<rect x="745.5" y="1318.1" width="6.9" height="13.9" fill="#a9bff0"/>
<rect x="746.7" y="1318.1" width="4.6" height="13.9" fill="#4169c4"/>
<rect x="746.7" y="1303.4" width="4.6" height="14.7" fill="#e8141c"/>
<rect x="752.3" y="1318.1" width="6.9" height="0.0" fill="#a9bff0"/>
<rect x="753.5" y="1318.1" width="4.6" height="0.0" fill="#4169c4"/>
<rect x="753.5" y="1308.3" width="4.6" height="9.8" fill="#e8141c"/>
<rect x="759.2" y="1281.4" width="6.9" height="36.7" fill="#a9bff0"/>
<rect x="760.3" y="1281.4" width="4.6" height="36.7" fill="#4169c4"/>
<rect x="760.3" y="1269.1" width="4.6" height="12.2" fill="#e8141c"/>
<rect x="766.0" y="1315.7" width="6.9" height="2.4" fill="#a9bff0"/>
<rect x="767.1" y="1315.7" width="4.6" height="2.4" fill="#4169c4"/>
<rect x="767.1" y="1305.9" width="4.6" height="9.8" fill="#e8141c"/>
<rect x="772.8" y="1301.8" width="6.9" height="16.3" fill="#a9bff0"/>
<rect x="774.0" y="1301.8" width="4.6" height="16.3" fill="#4169c4"/>
<rect x="774.0" y="1297.7" width="4.6" height="4.1" fill="#e8141c"/>
<rect x="779.6" y="1318.1" width="6.9" height="7.3" fill="#a9bff0"/>
<rect x="780.8" y="1318.1" width="4.6" height="7.3" fill="#4169c4"/>
<rect x="780.8" y="1313.2" width="4.6" height="4.9" fill="#e8141c"/>
<rect x="786.5" y="1283.8" width="6.9" height="34.3" fill="#a9bff0"/>
<rect x="787.6" y="1283.8" width="4.6" height="34.3" fill="#4169c4"/>
<rect x="787.6" y="1279.7" width="4.6" height="4.1" fill="#e8141c"/>
<rect x="793.3" y="1309.9" width="6.9" height="8.2" fill="#a9bff0"/>
<rect x="794.4" y="1309.9" width="4.6" height="8.2" fill="#4169c4"/>
<rect x="794.4" y="1305.9" width="4.6" height="4.1" fill="#e8141c"/>
<rect x="800.1" y="1290.4" width="6.9" height="27.7" fill="#a9bff0"/>
<rect x="801.2" y="1290.4" width="4.6" height="27.7" fill="#4169c4"/>
<rect x="801.2" y="1285.5" width="4.6" height="4.9" fill="#e8141c"/>
<rect x="806.9" y="1292.8" width="6.9" height="25.3" fill="#a9bff0"/>
<rect x="808.1" y="1292.8" width="4.6" height="25.3" fill="#4169c4"/>
<rect x="808.1" y="1288.7" width="4.6" height="4.1" fill="#e8141c"/>
<rect x="813.7" y="1304.2" width="6.9" height="13.9" fill="#a9bff0"/>
<rect x="814.9" y="1304.2" width="4.6" height="13.9" fill="#4169c4"/>
<rect x="814.9" y="1300.1" width="4.6" height="4.1" fill="#e8141c"/>
<rect x="820.5" y="1283.8" width="6.9" height="34.3" fill="#a9bff0"/>
<rect x="821.7" y="1283.8" width="4.6" height="34.3" fill="#4169c4"/>
<rect x="821.7" y="1279.7" width="4.6" height="4.1" fill="#e8141c"/>
<rect x="827.4" y="1305.0" width="6.9" height="13.1" fill="#a9bff0"/>
<rect x="828.5" y="1305.0" width="4.6" height="13.1" fill="#4169c4"/>
<rect x="828.5" y="1301.0" width="4.6" height="4.1" fill="#e8141c"/>
<rect x="834.2" y="1288.7" width="6.9" height="29.4" fill="#a9bff0"/>
<rect x="835.3" y="1288.7" width="4.6" height="29.4" fill="#4169c4"/>
<rect x="841.0" y="1256.9" width="6.9" height="61.2" fill="#a9bff0"/>
<rect x="842.2" y="1256.9" width="4.6" height="61.2" fill="#4169c4"/>
<rect x="842.2" y="1252.8" width="4.6" height="4.1" fill="#e8141c"/>
<rect x="847.8" y="1278.1" width="6.9" height="40.0" fill="#a9bff0"/>
<rect x="849.0" y="1278.1" width="4.6" height="40.0" fill="#4169c4"/>
<rect x="849.0" y="1263.4" width="4.6" height="14.7" fill="#e8141c"/>
<rect x="854.7" y="1318.1" width="6.9" height="1.6" fill="#a9bff0"/>
<rect x="855.8" y="1318.1" width="4.6" height="1.6" fill="#4169c4"/>
<rect x="855.8" y="1310.8" width="4.6" height="7.3" fill="#e8141c"/>
<rect x="861.5" y="1255.3" width="6.9" height="62.8" fill="#a9bff0"/>
<rect x="862.6" y="1255.3" width="4.6" height="62.8" fill="#4169c4"/>
<rect x="862.6" y="1240.6" width="4.6" height="14.7" fill="#e8141c"/>
<rect x="868.3" y="1318.1" width="6.9" height="1.6" fill="#a9bff0"/>
<rect x="869.4" y="1318.1" width="4.6" height="1.6" fill="#4169c4"/>
<rect x="869.4" y="1297.7" width="4.6" height="20.4" fill="#e8141c"/>
<rect x="875.1" y="1318.1" width="6.9" height="4.9" fill="#a9bff0"/>
<rect x="876.3" y="1318.1" width="4.6" height="4.9" fill="#4169c4"/>
<rect x="876.3" y="1297.7" width="4.6" height="20.4" fill="#e8141c"/>
<rect x="881.9" y="1297.7" width="6.9" height="20.4" fill="#a9bff0"/>
<rect x="883.1" y="1297.7" width="4.6" height="20.4" fill="#4169c4"/>
<rect x="883.1" y="1281.4" width="4.6" height="16.3" fill="#e8141c"/>
<rect x="888.8" y="1318.1" width="6.9" height="1.6" fill="#a9bff0"/>
<rect x="889.9" y="1318.1" width="4.6" height="1.6" fill="#4169c4"/>
<rect x="889.9" y="1304.2" width="4.6" height="13.9" fill="#e8141c"/>
<rect x="895.6" y="1318.1" width="6.9" height="11.4" fill="#a9bff0"/>
<rect x="896.7" y="1318.1" width="4.6" height="11.4" fill="#4169c4"/>
<rect x="896.7" y="1309.1" width="4.6" height="9.0" fill="#e8141c"/>
<rect x="902.4" y="1318.1" width="6.9" height="13.9" fill="#a9bff0"/>
<rect x="903.5" y="1318.1" width="4.6" height="13.9" fill="#4169c4"/>
<rect x="903.5" y="1310.8" width="4.6" height="7.3" fill="#e8141c"/>
<rect x="909.2" y="1299.3" width="6.9" height="18.8" fill="#a9bff0"/>
<rect x="910.4" y="1299.3" width="4.6" height="18.8" fill="#4169c4"/>
<rect x="910.4" y="1294.4" width="4.6" height="4.9" fill="#e8141c"/>
<rect x="916.0" y="1290.4" width="6.9" height="27.7" fill="#a9bff0"/>
<rect x="917.2" y="1290.4" width="4.6" height="27.7" fill="#4169c4"/>
<rect x="917.2" y="1285.5" width="4.6" height="4.9" fill="#e8141c"/>
<rect x="922.8" y="1318.1" width="6.9" height="0.0" fill="#a9bff0"/>
<rect x="924.0" y="1318.1" width="4.6" height="0.0" fill="#4169c4"/>
<rect x="924.0" y="1313.2" width="4.6" height="4.9" fill="#e8141c"/>
<rect x="929.7" y="1274.0" width="6.9" height="44.1" fill="#a9bff0"/>
<rect x="930.8" y="1274.0" width="4.6" height="44.1" fill="#4169c4"/>
<rect x="930.8" y="1269.1" width="4.6" height="4.9" fill="#e8141c"/>
<rect x="936.5" y="1264.2" width="6.9" height="53.9" fill="#a9bff0"/>
<rect x="937.6" y="1264.2" width="4.6" height="53.9" fill="#4169c4"/>
<rect x="937.6" y="1259.3" width="4.6" height="4.9" fill="#e8141c"/>
<rect x="943.3" y="1318.1" width="6.9" height="0.0" fill="#a9bff0"/>
<rect x="944.5" y="1318.1" width="4.6" height="0.0" fill="#4169c4"/>
<rect x="944.5" y="1308.3" width="4.6" height="9.8" fill="#e8141c"/>
<rect x="950.1" y="1307.5" width="6.9" height="10.6" fill="#a9bff0"/>
<rect x="951.3" y="1307.5" width="4.6" height="10.6" fill="#4169c4"/>
<rect x="951.3" y="1299.3" width="4.6" height="8.2" fill="#e8141c"/>
<rect x="957.0" y="1285.5" width="6.9" height="32.6" fill="#a9bff0"/>
<rect x="958.1" y="1285.5" width="4.6" height="32.6" fill="#4169c4"/>
<rect x="958.1" y="1275.7" width="4.6" height="9.8" fill="#e8141c"/>
<rect x="963.8" y="1306.7" width="6.9" height="11.4" fill="#a9bff0"/>
<rect x="964.9" y="1306.7" width="4.6" height="11.4" fill="#4169c4"/>
<rect x="964.9" y="1299.3" width="4.6" height="7.3" fill="#e8141c"/>
<rect x="970.6" y="1262.6" width="6.9" height="55.5" fill="#a9bff0"/>
<rect x="971.7" y="1262.6" width="4.6" height="55.5" fill="#4169c4"/>
<rect x="971.7" y="1254.5" width="4.6" height="8.2" fill="#e8141c"/>
<rect x="977.4" y="1276.5" width="6.9" height="41.6" fill="#a9bff0"/>
<rect x="978.6" y="1276.5" width="4.6" height="41.6" fill="#4169c4"/>
<rect x="978.6" y="1269.1" width="4.6" height="7.3" fill="#e8141c"/>
<rect x="984.2" y="1318.1" width="6.9" height="13.9" fill="#a9bff0"/>
<rect x="985.4" y="1318.1" width="4.6" height="13.9" fill="#4169c4"/>
<rect x="985.4" y="1308.3" width="4.6" height="9.8" fill="#e8141c"/>
<rect x="991.0" y="1304.2" width="6.9" height="13.9" fill="#a9bff0"/>
<rect x="992.2" y="1304.2" width="4.6" height="13.9" fill="#4169c4"/>
<rect x="992.2" y="1296.9" width="4.6" height="7.3" fill="#e8141c"/>
<rect x="997.9" y="1295.3" width="6.9" height="22.8" fill="#a9bff0"/>
<rect x="999.0" y="1295.3" width="4.6" height="22.8" fill="#4169c4"/>
<rect x="999.0" y="1290.4" width="4.6" height="4.9" fill="#e8141c"/>
<rect x="1004.7" y="1281.4" width="6.9" height="36.7" fill="#a9bff0"/>
<rect x="1005.8" y="1281.4" width="4.6" height="36.7" fill="#4169c4"/>
<rect x="1005.8" y="1271.6" width="4.6" height="9.8" fill="#e8141c"/>
<rect x="1011.5" y="1285.5" width="6.9" height="32.6" fill="#a9bff0"/>
<rect x="1012.7" y="1285.5" width="4.6" height="32.6" fill="#4169c4"/>
<rect x="1012.7" y="1278.9" width="4.6" height="6.5" fill="#e8141c"/>
<rect x="1018.3" y="1276.5" width="6.9" height="41.6" fill="#a9bff0"/>
<rect x="1019.5" y="1276.5" width="4.6" height="41.6" fill="#4169c4"/>
<rect x="1019.5" y="1269.1" width="4.6" height="7.3" fill="#e8141c"/>
<rect x="1025.2" y="1273.2" width="6.9" height="44.9" fill="#a9bff0"/>
<rect x="1026.3" y="1273.2" width="4.6" height="44.9" fill="#4169c4"/>
<rect x="1026.3" y="1265.9" width="4.6" height="7.3" fill="#e8141c"/>
<rect x="1032.0" y="1297.7" width="6.9" height="20.4" fill="#a9bff0"/>
<rect x="1033.1" y="1297.7" width="4.6" height="20.4" fill="#4169c4"/>
<rect x="1033.1" y="1287.9" width="4.6" height="9.8" fill="#e8141c"/>
<rect x="1038.8" y="1273.2" width="6.9" height="44.9" fill="#a9bff0"/>
<rect x="1039.9" y="1273.2" width="4.6" height="44.9" fill="#4169c4"/>
<rect x="1039.9" y="1262.6" width="4.6" height="10.6" fill="#e8141c"/>
<rect x="1045.6" y="1271.6" width="6.9" height="46.5" fill="#a9bff0"/>
<rect x="1046.8" y="1271.6" width="4.6" height="46.5" fill="#4169c4"/>
<rect x="1046.8" y="1256.9" width="4.6" height="14.7" fill="#e8141c"/>
<rect x="1052.4" y="1283.8" width="6.9" height="34.3" fill="#a9bff0"/>
<rect x="1053.6" y="1283.8" width="4.6" height="34.3" fill="#4169c4"/>
<rect x="1053.6" y="1272.4" width="4.6" height="11.4" fill="#e8141c"/>
<rect x="1059.2" y="1259.3" width="6.9" height="58.8" fill="#a9bff0"/>
<rect x="1060.4" y="1259.3" width="4.6" height="58.8" fill="#4169c4"/>
<rect x="1060.4" y="1243.8" width="4.6" height="15.5" fill="#e8141c"/>
<rect x="1066.1" y="1297.7" width="6.9" height="20.4" fill="#a9bff0"/>
<rect x="1067.2" y="1297.7" width="4.6" height="20.4" fill="#4169c4"/>
<rect x="1067.2" y="1292.0" width="4.6" height="5.7" fill="#e8141c"/>
<rect x="1072.9" y="1287.9" width="6.9" height="30.2" fill="#a9bff0"/>
<rect x="1074.0" y="1287.9" width="4.6" height="30.2" fill="#4169c4"/>
<rect x="1074.0" y="1278.9" width="4.6" height="9.0" fill="#e8141c"/>
<rect x="1079.7" y="1318.1" width="6.9" height="14.7" fill="#a9bff0"/>
<rect x="1080.9" y="1318.1" width="4.6" height="14.7" fill="#4169c4"/>
<rect x="1080.9" y="1310.8" width="4.6" height="7.3" fill="#e8141c"/>
<rect x="1086.5" y="1290.4" width="6.9" height="27.7" fill="#a9bff0"/>
<rect x="1087.7" y="1290.4" width="4.6" height="27.7" fill="#4169c4"/>
<rect x="1087.7" y="1283.8" width="4.6" height="6.5" fill="#e8141c"/>
<rect x="1093.3" y="1285.5" width="6.9" height="32.6" fill="#a9bff0"/>
<rect x="1094.5" y="1285.5" width="4.6" height="32.6" fill="#4169c4"/>
<rect x="1094.5" y="1281.4" width="4.6" height="4.1" fill="#e8141c"/>
<rect x="1100.2" y="1318.1" width="6.9" height="2.4" fill="#a9bff0"/>
<rect x="1101.3" y="1318.1" width="4.6" height="2.4" fill="#4169c4"/>
<rect x="1101.3" y="1313.2" width="4.6" height="4.9" fill="#e8141c"/>
<rect x="1107.0" y="1318.1" width="6.9" height="2.4" fill="#a9bff0"/>
<rect x="1108.1" y="1318.1" width="4.6" height="2.4" fill="#4169c4"/>
<rect x="1108.1" y="1313.2" width="4.6" height="4.9" fill="#e8141c"/>
<rect x="1113.8" y="1318.1" width="6.9" height="0.0" fill="#a9bff0"/>
<rect x="1115.0" y="1318.1" width="4.6" height="0.0" fill="#4169c4"/>
<rect x="1115.0" y="1311.6" width="4.6" height="6.5" fill="#e8141c"/>
<rect x="1120.6" y="1292.8" width="6.9" height="25.3" fill="#a9bff0"/>
<rect x="1121.8" y="1292.8" width="4.6" height="25.3" fill="#4169c4"/>
<rect x="1121.8" y="1288.7" width="4.6" height="4.1" fill="#e8141c"/>
<rect x="1127.5" y="1318.1" width="6.9" height="0.0" fill="#a9bff0"/>
<rect x="1128.6" y="1318.1" width="4.6" height="0.0" fill="#4169c4"/>
<rect x="1128.6" y="1314.0" width="4.6" height="4.1" fill="#e8141c"/>
<rect x="1134.3" y="1318.1" width="6.9" height="0.0" fill="#a9bff0"/>
<rect x="1135.4" y="1318.1" width="4.6" height="0.0" fill="#4169c4"/>
<rect x="1135.4" y="1311.6" width="4.6" height="6.5" fill="#e8141c"/>
<rect x="1141.1" y="1302.6" width="6.9" height="15.5" fill="#a9bff0"/>
<rect x="1142.2" y="1302.6" width="4.6" height="15.5" fill="#4169c4"/>
<rect x="1142.2" y="1298.5" width="4.6" height="4.1" fill="#e8141c"/>
<rect x="1147.9" y="1267.5" width="6.9" height="50.6" fill="#a9bff0"/>
<rect x="1149.1" y="1267.5" width="4.6" height="50.6" fill="#4169c4"/>
<rect x="1149.1" y="1263.4" width="4.6" height="4.1" fill="#e8141c"/>
<rect x="1154.7" y="1258.5" width="6.9" height="59.6" fill="#a9bff0"/>
<rect x="1155.9" y="1258.5" width="4.6" height="59.6" fill="#4169c4"/>
<rect x="1155.9" y="1254.5" width="4.6" height="4.1" fill="#e8141c"/>
<rect x="1161.5" y="1281.4" width="6.9" height="36.7" fill="#a9bff0"/>
<rect x="1162.7" y="1281.4" width="4.6" height="36.7" fill="#4169c4"/>
<rect x="1162.7" y="1277.3" width="4.6" height="4.1" fill="#e8141c"/>
<rect x="1168.4" y="1292.8" width="6.9" height="25.3" fill="#a9bff0"/>
<rect x="1169.5" y="1292.8" width="4.6" height="25.3" fill="#4169c4"/>
<rect x="1169.5" y="1288.7" width="4.6" height="4.1" fill="#e8141c"/>
<line x1="136.3" y1="1318.1" x2="1204.5" y2="1318.1" stroke="#000" stroke-width="3"/>
<line x1="493.2" y1="1154.9" x2="493.2" y2="1481.3" stroke="#000" stroke-width="4.2"/>
<line x1="848.2" y1="1154.9" x2="848.2" y2="1481.3" stroke="#000" stroke-width="4.2"/>
<line x1="136.3" y1="1154.9" x2="136.3" y2="1481.3" stroke="#000" stroke-width="4.5"/>
<line x1="1204.5" y1="1154.9" x2="1204.5" y2="1481.3" stroke="#000" stroke-width="4.5"/>
<path d="M169.3,1311.7 L176.1,1313.6 L182.9,1311.5 L189.7,1310.5 L196.6,1311.2 L203.4,1314.9 L210.2,1317.7 L217.0,1317.6 L223.8,1326.1 L230.7,1328.5 L237.5,1331.8 L244.3,1326.9 L251.1,1326.6 L257.9,1327.7 L264.8,1326.2 L271.6,1323.2 L278.4,1325.4 L285.2,1322.5 L292.0,1316.8 L298.9,1315.3 L305.7,1319.8 L312.5,1322.5 L319.3,1323.1 L326.1,1319.3 L333.0,1320.4 L339.8,1319.3 L346.6,1319.5 L353.4,1325.0 L360.2,1323.9 L367.1,1326.3 L373.9,1329.3 L380.7,1327.5 L387.5,1329.7 L394.3,1330.2 L401.2,1331.2 L408.0,1328.2 L414.8,1328.3 L421.6,1325.4 L428.4,1321.5 L435.3,1317.4 L442.1,1315.1 L448.9,1316.2 L455.7,1313.7 L462.5,1311.3 L469.4,1310.5 L476.2,1308.1 L483.0,1310.2 L489.8,1309.7 L496.6,1310.3 L503.5,1313.7 L510.3,1311.4 L517.1,1312.8 L523.9,1315.4 L530.7,1314.7 L537.6,1314.6 L544.4,1314.0 L551.2,1319.4 L558.0,1317.1 L564.8,1318.2 L571.7,1318.6 L578.5,1316.0 L585.3,1310.8 L592.1,1314.2 L598.9,1310.8 L605.8,1309.8 L612.6,1304.7 L619.4,1303.8 L626.2,1297.9 L633.0,1294.0 L639.9,1290.1 L646.7,1290.6 L653.5,1285.7 L660.3,1286.8 L667.1,1286.6 L674.0,1289.9 L680.8,1293.1 L687.6,1297.4 L694.4,1303.3 L701.2,1313.5 L708.1,1319.9 L714.9,1322.3 L721.7,1326.6 L728.5,1328.6 L735.3,1324.5 L742.2,1324.1 L749.0,1321.4 L755.8,1320.6 L762.6,1312.1 L769.4,1307.9 L776.3,1306.5 L783.1,1302.1 L789.9,1300.6 L796.7,1300.9 L803.5,1299.7 L810.4,1298.2 L817.2,1290.6 L824.0,1290.0 L830.8,1291.1 L837.6,1287.2 L844.5,1290.2 L851.3,1292.3 L858.1,1293.8 L864.9,1295.4 L871.7,1300.0 L878.6,1308.3 L885.4,1310.7 L892.2,1307.4 L899.0,1314.4 L905.8,1309.3 L912.7,1302.8 L919.5,1305.0 L926.3,1303.7 L933.1,1298.8 L939.9,1296.0 L946.8,1291.9 L953.6,1290.4 L960.4,1291.9 L967.2,1295.3 L974.0,1298.7 L980.9,1294.6 L987.7,1292.2 L994.5,1291.2 L1001.3,1287.5 L1008.1,1291.4 L1015.0,1291.0 L1021.8,1284.3 L1028.6,1282.0 L1035.4,1278.0 L1042.2,1279.8 L1049.1,1280.1 L1055.9,1286.4 L1062.7,1288.3 L1069.5,1286.9 L1076.3,1292.2 L1083.2,1297.6 L1090.0,1301.4 L1096.8,1305.1 L1103.6,1307.4 L1110.4,1310.8 L1117.3,1307.4 L1124.1,1304.9 L1130.9,1301.9 L1137.7,1297.5 L1144.5,1294.4" fill="none" stroke="#2b3443" stroke-width="4" stroke-linejoin="round" stroke-linecap="round"/>
<rect x="139.3" y="1138.9" width="471.7" height="43.1" fill="#ffffff"/>
<text x="148.2" y="1169.8" font-family="Liberation Sans" font-weight="bold" font-size="29" textLength="456.8" lengthAdjust="spacingAndGlyphs" fill="#000">All Coroner-referred (incl COVID)</text>
<text x="115.5" y="1161.2" font-family="Liberation Sans" font-size="20" text-anchor="end" fill="#111" stroke="#111" stroke-width="0.45">200</text>
<text x="115.5" y="1242.8" font-family="Liberation Sans" font-size="20" text-anchor="end" fill="#111" stroke="#111" stroke-width="0.45">100</text>
<text x="115.5" y="1324.4" font-family="Liberation Sans" font-size="20" text-anchor="end" fill="#111" stroke="#111" stroke-width="0.45">0</text>
<text x="115.5" y="1406.0" font-family="Liberation Sans" font-size="20" text-anchor="end" fill="#111" stroke="#111" stroke-width="0.45">-100</text>
<text x="115.5" y="1487.6" font-family="Liberation Sans" font-size="20" text-anchor="end" fill="#111" stroke="#111" stroke-width="0.45">-200</text>
<text transform="translate(76,1318.1) rotate(-90)" x="0" y="0" font-family="Liberation Sans" font-size="24.5" stroke="#111" stroke-width="0.35" text-anchor="middle" textLength="141" lengthAdjust="spacingAndGlyphs" fill="#111">Excess Deaths</text>
<rect x="384" y="1455" width="561" height="38" fill="#ffffff"/>
<rect x="425.2" y="1472.8" width="56.7" height="15.8" fill="#3e64c6"/>
<text x="487.5" y="1487.3" font-family="Liberation Sans" font-size="22" textLength="64.5" lengthAdjust="spacingAndGlyphs" fill="#111">Excess</text>
<line x1="594" y1="1481.8" x2="649" y2="1481.8" stroke="#2f3d5c" stroke-width="3.6"/>
<text x="655.3" y="1487.3" font-family="Liberation Sans" font-size="22" textLength="256" lengthAdjust="spacingAndGlyphs" fill="#111">9 weeks centred average</text>
<text x="311.0" y="1529" font-family="Liberation Sans" font-weight="bold" font-size="25.5" text-anchor="middle" fill="#111">2020</text>
<text x="669.5" y="1529" font-family="Liberation Sans" font-weight="bold" font-size="25.5" text-anchor="middle" fill="#111">2021</text>
<text x="1025.7" y="1529" font-family="Liberation Sans" font-weight="bold" font-size="25.5" text-anchor="middle" fill="#111">2022</text>
</svg>
</body></html>
